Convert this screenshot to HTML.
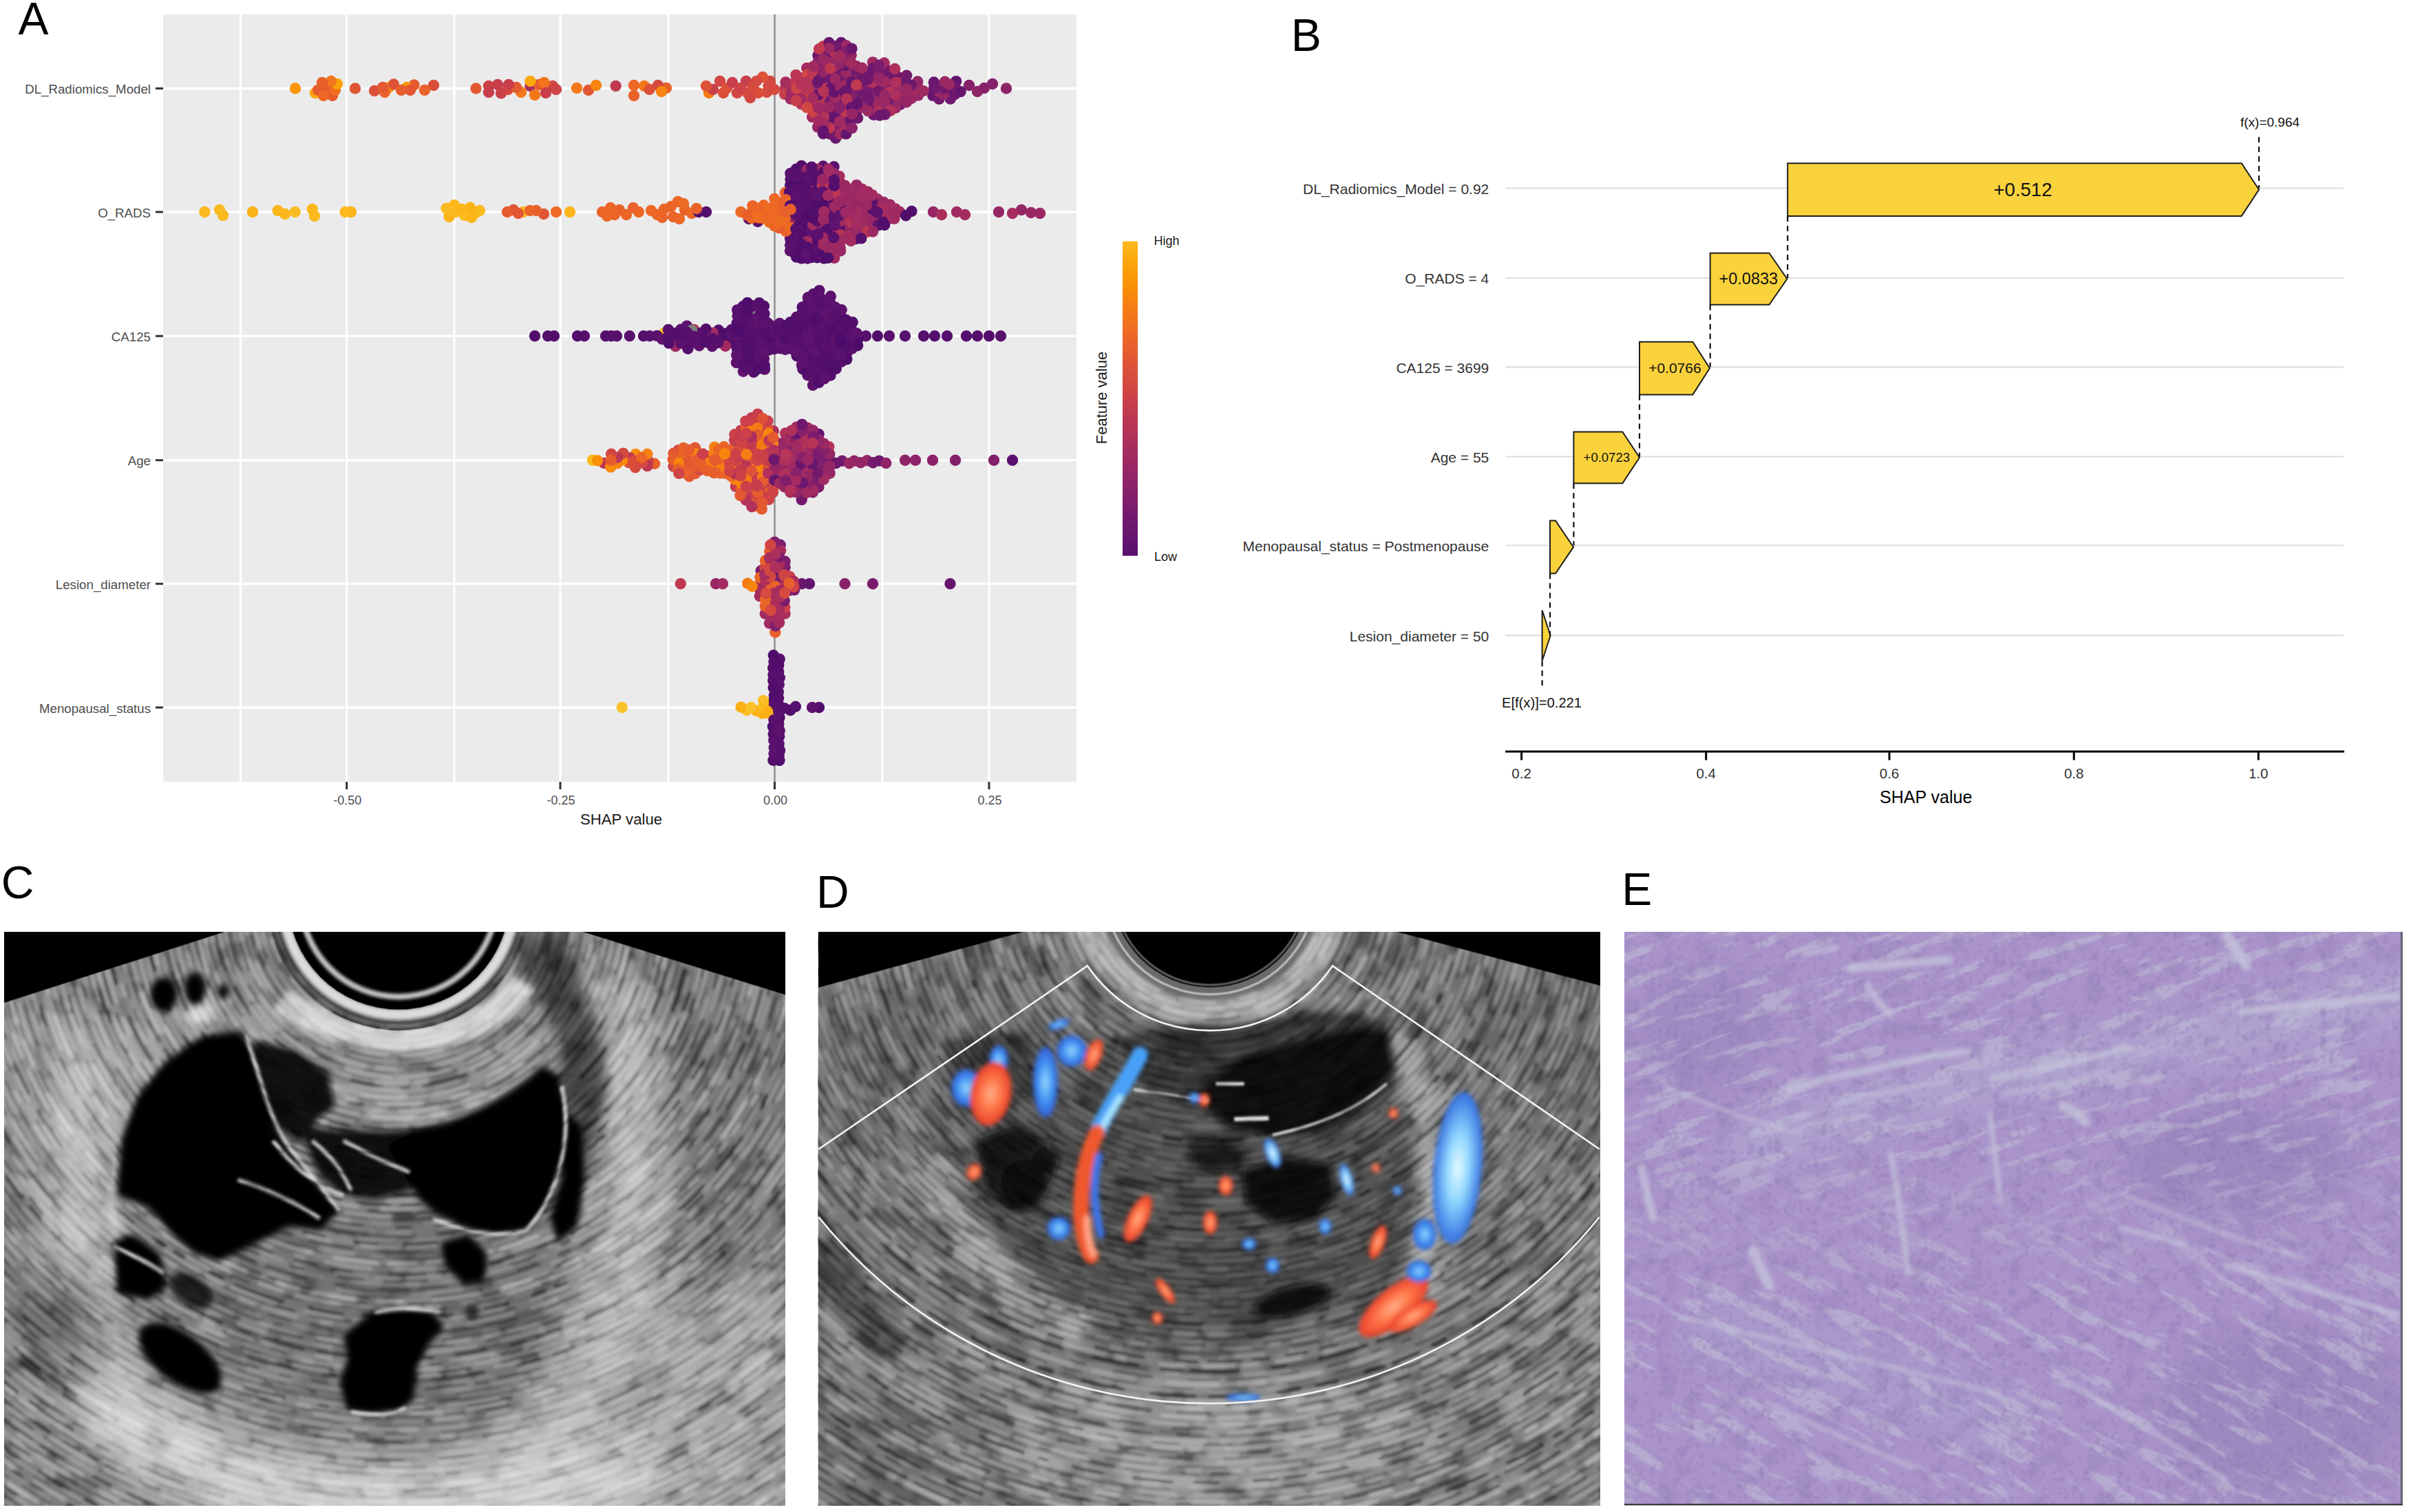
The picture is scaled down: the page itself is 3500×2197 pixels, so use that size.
<!DOCTYPE html>
<html><head><meta charset="utf-8"><style>
html,body{margin:0;padding:0;background:#fff;}
body{width:3500px;height:2197px;overflow:hidden;position:relative;}
svg{position:absolute;left:0;top:0;font-family:"Liberation Sans",sans-serif;}
</style></head><body>
<svg width="3500" height="2197" viewBox="0 0 3500 2197">
<rect x="237" y="21" width="1327" height="1115" fill="#ebebeb"/>
<line x1="349.5" y1="21" x2="349.5" y2="1136" stroke="#ffffff" stroke-width="3"/>
<line x1="503.7" y1="21" x2="503.7" y2="1136" stroke="#ffffff" stroke-width="3"/>
<line x1="660" y1="21" x2="660" y2="1136" stroke="#ffffff" stroke-width="3"/>
<line x1="814" y1="21" x2="814" y2="1136" stroke="#ffffff" stroke-width="3"/>
<line x1="971" y1="21" x2="971" y2="1136" stroke="#ffffff" stroke-width="3"/>
<line x1="1125.5" y1="21" x2="1125.5" y2="1136" stroke="#ffffff" stroke-width="3"/>
<line x1="1282" y1="21" x2="1282" y2="1136" stroke="#ffffff" stroke-width="3"/>
<line x1="1437" y1="21" x2="1437" y2="1136" stroke="#ffffff" stroke-width="3"/>
<line x1="237" y1="128.5" x2="1564" y2="128.5" stroke="#ffffff" stroke-width="3.5"/>
<line x1="237" y1="308" x2="1564" y2="308" stroke="#ffffff" stroke-width="3.5"/>
<line x1="237" y1="488.3" x2="1564" y2="488.3" stroke="#ffffff" stroke-width="3.5"/>
<line x1="237" y1="668.7" x2="1564" y2="668.7" stroke="#ffffff" stroke-width="3.5"/>
<line x1="237" y1="848.3" x2="1564" y2="848.3" stroke="#ffffff" stroke-width="3.5"/>
<line x1="237" y1="1028" x2="1564" y2="1028" stroke="#ffffff" stroke-width="3.5"/>
<line x1="1125.5" y1="21" x2="1125.5" y2="1136" stroke="#8c8c8c" stroke-width="2.5"/>
<circle cx="1079.3" cy="445.2" r="8.2" fill="#550f6d"/>
<circle cx="1179.6" cy="271.0" r="8.2" fill="#a02a62"/>
<circle cx="1197.8" cy="692.4" r="8.2" fill="#ae305b"/>
<circle cx="1156.7" cy="245.8" r="8.2" fill="#520e6c"/>
<circle cx="1236.4" cy="99.4" r="8.2" fill="#86216a"/>
<circle cx="1180.1" cy="364.1" r="8.2" fill="#520e6c"/>
<circle cx="1119.6" cy="848.0" r="8.2" fill="#d64a3f"/>
<circle cx="1095.1" cy="455.5" r="8.2" fill="#5b116e"/>
<circle cx="1364.6" cy="124.8" r="8.2" fill="#982765"/>
<circle cx="1231.2" cy="511.4" r="8.2" fill="#5a116d"/>
<circle cx="1009.9" cy="688.3" r="8.2" fill="#e65e2d"/>
<circle cx="1133.7" cy="791.7" r="8.2" fill="#7d1d6c"/>
<circle cx="1220.3" cy="71.7" r="8.2" fill="#6b176e"/>
<circle cx="675.0" cy="313.0" r="8.2" fill="#fabd23"/>
<circle cx="1099.3" cy="687.3" r="8.2" fill="#c43c4e"/>
<circle cx="936.0" cy="125.0" r="8.2" fill="#f37719"/>
<circle cx="1098.9" cy="697.9" r="8.2" fill="#c23b4f"/>
<circle cx="1230.2" cy="474.4" r="8.2" fill="#550f6d"/>
<circle cx="1356.0" cy="308.0" r="8.2" fill="#982765"/>
<circle cx="1390.0" cy="308.0" r="8.2" fill="#a12b61"/>
<circle cx="1214.1" cy="200.8" r="8.2" fill="#6a176e"/>
<circle cx="1140.5" cy="891.6" r="8.2" fill="#a92e5e"/>
<circle cx="1133.9" cy="506.2" r="8.2" fill="#58106d"/>
<circle cx="1046.0" cy="118.0" r="8.2" fill="#d14643"/>
<circle cx="1093.2" cy="307.1" r="8.2" fill="#ee6c22"/>
<circle cx="1084.3" cy="641.2" r="8.2" fill="#c73e4c"/>
<circle cx="1114.0" cy="134.0" r="8.2" fill="#d54940"/>
<circle cx="1123.6" cy="683.0" r="8.2" fill="#b53357"/>
<circle cx="1196.9" cy="326.2" r="8.2" fill="#5a116d"/>
<circle cx="1101.0" cy="322.0" r="8.2" fill="#58106d"/>
<circle cx="1076.5" cy="625.4" r="8.2" fill="#c23b4f"/>
<circle cx="1148.0" cy="327.0" r="8.2" fill="#932567"/>
<circle cx="1212.9" cy="190.2" r="8.2" fill="#70196e"/>
<circle cx="951.1" cy="673.8" r="8.2" fill="#e8612b"/>
<circle cx="1133.1" cy="303.8" r="8.2" fill="#ed6825"/>
<circle cx="1268.0" cy="90.4" r="8.2" fill="#a12b61"/>
<circle cx="1164.0" cy="151.3" r="8.2" fill="#b73456"/>
<circle cx="475.0" cy="128.0" r="8.2" fill="#e65c2e"/>
<circle cx="1198.0" cy="152.4" r="8.2" fill="#952666"/>
<circle cx="1188.1" cy="302.5" r="8.2" fill="#5d126e"/>
<circle cx="1196.3" cy="280.2" r="8.2" fill="#bf3951"/>
<circle cx="1051.8" cy="649.2" r="8.2" fill="#eb6527"/>
<circle cx="1206.8" cy="506.4" r="8.2" fill="#58106d"/>
<circle cx="1292.0" cy="488.3" r="8.2" fill="#58106d"/>
<circle cx="685.0" cy="316.0" r="8.2" fill="#fbb51a"/>
<circle cx="1198.8" cy="474.2" r="8.2" fill="#5d126e"/>
<circle cx="1258.0" cy="488.3" r="8.2" fill="#58106d"/>
<circle cx="1190.0" cy="697.9" r="8.2" fill="#6b176e"/>
<circle cx="1226.9" cy="289.4" r="8.2" fill="#992864"/>
<circle cx="1016.9" cy="682.9" r="8.2" fill="#d44841"/>
<circle cx="1105.7" cy="829.2" r="8.2" fill="#781c6d"/>
<circle cx="796.0" cy="488.3" r="8.2" fill="#570f6d"/>
<circle cx="1084.9" cy="1032.0" r="8.2" fill="#fabd23"/>
<circle cx="923.1" cy="679.3" r="8.2" fill="#d64a3f"/>
<circle cx="1051.0" cy="135.0" r="8.2" fill="#da4e3b"/>
<circle cx="1189.5" cy="677.3" r="8.2" fill="#9e2963"/>
<circle cx="1125.9" cy="796.8" r="8.2" fill="#ae305b"/>
<circle cx="1307.8" cy="151.9" r="8.2" fill="#70196e"/>
<circle cx="1165.3" cy="132.4" r="8.2" fill="#b83556"/>
<circle cx="1147.8" cy="321.1" r="8.2" fill="#ed6825"/>
<circle cx="1284.2" cy="108.8" r="8.2" fill="#731a6d"/>
<circle cx="1001.9" cy="664.8" r="8.2" fill="#e8612b"/>
<circle cx="1213.4" cy="181.2" r="8.2" fill="#982765"/>
<circle cx="1107.0" cy="635.5" r="8.2" fill="#f7850e"/>
<circle cx="1116.9" cy="725.9" r="8.2" fill="#cd4247"/>
<circle cx="1221.9" cy="460.6" r="8.2" fill="#4f0d6c"/>
<circle cx="1148.0" cy="364.5" r="8.2" fill="#5d126e"/>
<circle cx="1180.3" cy="345.9" r="8.2" fill="#5b116e"/>
<circle cx="1241.1" cy="669.7" r="8.2" fill="#912567"/>
<circle cx="1140.9" cy="852.8" r="8.2" fill="#ea6428"/>
<circle cx="985.0" cy="665.0" r="8.2" fill="#ea6428"/>
<circle cx="1275.5" cy="317.9" r="8.2" fill="#9e2963"/>
<circle cx="1123.6" cy="673.4" r="8.2" fill="#c73e4c"/>
<circle cx="1268.3" cy="332.5" r="8.2" fill="#5d126e"/>
<circle cx="1148.2" cy="283.1" r="8.2" fill="#e9622a"/>
<circle cx="1140.2" cy="679.1" r="8.2" fill="#7e1e6c"/>
<circle cx="1197.5" cy="161.6" r="8.2" fill="#72196d"/>
<circle cx="1195.9" cy="241.5" r="8.2" fill="#5a116d"/>
<circle cx="962.0" cy="316.0" r="8.2" fill="#ea6428"/>
<circle cx="1259.0" cy="306.8" r="8.2" fill="#be3852"/>
<circle cx="1244.7" cy="143.7" r="8.2" fill="#68166e"/>
<circle cx="1043.2" cy="487.7" r="8.2" fill="#520e6c"/>
<circle cx="1204.3" cy="649.1" r="8.2" fill="#b53357"/>
<circle cx="1164.5" cy="240.9" r="8.2" fill="#500d6c"/>
<circle cx="1123.6" cy="692.2" r="8.2" fill="#e55b30"/>
<circle cx="1213.4" cy="521.2" r="8.2" fill="#58106d"/>
<circle cx="1099.1" cy="735.4" r="8.2" fill="#f68012"/>
<circle cx="1083.4" cy="621.0" r="8.2" fill="#e55b30"/>
<circle cx="1179.1" cy="289.6" r="8.2" fill="#9e2963"/>
<circle cx="1221.0" cy="303.4" r="8.2" fill="#9e2963"/>
<circle cx="1388.0" cy="668.7" r="8.2" fill="#811f6b"/>
<circle cx="746.0" cy="305.0" r="8.2" fill="#de5337"/>
<circle cx="1111.1" cy="853.4" r="8.2" fill="#cd4247"/>
<circle cx="1133.9" cy="693.4" r="8.2" fill="#7d1d6c"/>
<circle cx="1252.2" cy="340.9" r="8.2" fill="#570f6d"/>
<circle cx="1180.2" cy="299.1" r="8.2" fill="#530e6d"/>
<circle cx="1140.7" cy="128.9" r="8.2" fill="#ba3655"/>
<circle cx="1227.3" cy="326.9" r="8.2" fill="#a32b61"/>
<circle cx="1167.1" cy="493.0" r="8.2" fill="#570f6d"/>
<circle cx="1132.5" cy="1042.4" r="8.2" fill="#500d6c"/>
<circle cx="1071.6" cy="496.8" r="8.2" fill="#500d6c"/>
<circle cx="1243.8" cy="347.0" r="8.2" fill="#5a116d"/>
<circle cx="1234.9" cy="332.2" r="8.2" fill="#530e6d"/>
<circle cx="1235.9" cy="109.5" r="8.2" fill="#992864"/>
<circle cx="1292.1" cy="317.7" r="8.2" fill="#992864"/>
<circle cx="1148.3" cy="336.1" r="8.2" fill="#530e6d"/>
<circle cx="1154.1" cy="857.3" r="8.2" fill="#7d1d6c"/>
<circle cx="1148.7" cy="124.6" r="8.2" fill="#ba3655"/>
<circle cx="1220.5" cy="350.1" r="8.2" fill="#a42c60"/>
<circle cx="1180.2" cy="133.9" r="8.2" fill="#bf3951"/>
<circle cx="1095.1" cy="540.8" r="8.2" fill="#530e6d"/>
<circle cx="1173.2" cy="342.1" r="8.2" fill="#570f6d"/>
<circle cx="1117.2" cy="313.3" r="8.2" fill="#e9622a"/>
<circle cx="1107.7" cy="617.6" r="8.2" fill="#dd5238"/>
<circle cx="1134.1" cy="800.1" r="8.2" fill="#a62c5f"/>
<circle cx="1079.8" cy="511.5" r="8.2" fill="#550f6d"/>
<circle cx="1189.1" cy="166.4" r="8.2" fill="#86216a"/>
<circle cx="1173.4" cy="545.3" r="8.2" fill="#58106d"/>
<circle cx="1119.8" cy="876.8" r="8.2" fill="#ae305b"/>
<circle cx="1131.5" cy="1024.4" r="8.2" fill="#5f126e"/>
<circle cx="1252.5" cy="294.5" r="8.2" fill="#a02a62"/>
<circle cx="1180.1" cy="151.4" r="8.2" fill="#a72d5f"/>
<circle cx="1181.4" cy="124.7" r="8.2" fill="#d04544"/>
<circle cx="1190.4" cy="422.1" r="8.2" fill="#570f6d"/>
<circle cx="1204.7" cy="322.8" r="8.2" fill="#b53357"/>
<circle cx="1205.6" cy="487.1" r="8.2" fill="#500d6c"/>
<circle cx="1292.9" cy="297.4" r="8.2" fill="#a12b61"/>
<circle cx="1157.6" cy="470.4" r="8.2" fill="#4f0d6c"/>
<circle cx="1380.8" cy="143.7" r="8.2" fill="#70196e"/>
<circle cx="1205.5" cy="458.8" r="8.2" fill="#5b116e"/>
<circle cx="1124.2" cy="1075.5" r="8.2" fill="#5d126e"/>
<circle cx="1213.0" cy="86.6" r="8.2" fill="#bf3951"/>
<circle cx="777.0" cy="488.3" r="8.2" fill="#520e6c"/>
<circle cx="1148.5" cy="260.6" r="8.2" fill="#550f6d"/>
<circle cx="1283.9" cy="157.3" r="8.2" fill="#6e186e"/>
<circle cx="1387.5" cy="137.0" r="8.2" fill="#6e186e"/>
<circle cx="928.0" cy="308.0" r="8.2" fill="#ed6825"/>
<circle cx="1324.3" cy="143.0" r="8.2" fill="#9c2963"/>
<circle cx="1140.1" cy="136.9" r="8.2" fill="#c83e4b"/>
<circle cx="1100.2" cy="302.6" r="8.2" fill="#ec6726"/>
<circle cx="1053.0" cy="667.8" r="8.2" fill="#e8612b"/>
<circle cx="1222.3" cy="525.6" r="8.2" fill="#5d126e"/>
<circle cx="1205.6" cy="687.7" r="8.2" fill="#982765"/>
<circle cx="968.0" cy="128.0" r="8.2" fill="#e9622a"/>
<circle cx="1165.1" cy="318.2" r="8.2" fill="#520e6c"/>
<circle cx="1067.7" cy="679.3" r="8.2" fill="#f7850e"/>
<circle cx="1211.6" cy="318.6" r="8.2" fill="#570f6d"/>
<circle cx="1062.6" cy="479.2" r="8.2" fill="#58106d"/>
<circle cx="1191.1" cy="535.0" r="8.2" fill="#5d126e"/>
<circle cx="1196.0" cy="67.2" r="8.2" fill="#c13a50"/>
<circle cx="1203.6" cy="303.7" r="8.2" fill="#5b116e"/>
<circle cx="1204.8" cy="174.9" r="8.2" fill="#66156e"/>
<circle cx="1172.9" cy="687.7" r="8.2" fill="#6b176e"/>
<circle cx="946.0" cy="306.0" r="8.2" fill="#ed6825"/>
<circle cx="1110.3" cy="464.4" r="8.2" fill="#58106d"/>
<circle cx="1243.9" cy="133.2" r="8.2" fill="#72196d"/>
<circle cx="910.0" cy="312.0" r="8.2" fill="#ec6726"/>
<circle cx="1044.0" cy="479.8" r="8.2" fill="#520e6c"/>
<circle cx="1213.3" cy="473.8" r="8.2" fill="#500d6c"/>
<circle cx="1229.1" cy="114.0" r="8.2" fill="#63146e"/>
<circle cx="1171.3" cy="302.5" r="8.2" fill="#530e6d"/>
<circle cx="1213.9" cy="465.0" r="8.2" fill="#550f6d"/>
<circle cx="1091.9" cy="712.6" r="8.2" fill="#cd4247"/>
<circle cx="1172.2" cy="98.9" r="8.2" fill="#a32b61"/>
<circle cx="1132.6" cy="487.8" r="8.2" fill="#520e6c"/>
<circle cx="1091.9" cy="607.3" r="8.2" fill="#c23b4f"/>
<circle cx="1122.9" cy="1055.8" r="8.2" fill="#530e6d"/>
<circle cx="1148.1" cy="269.4" r="8.2" fill="#500d6c"/>
<circle cx="1269.3" cy="127.8" r="8.2" fill="#6d186e"/>
<circle cx="1148.2" cy="342.2" r="8.2" fill="#e8612b"/>
<circle cx="1164.3" cy="308.3" r="8.2" fill="#530e6d"/>
<circle cx="1035.9" cy="677.9" r="8.2" fill="#ea6428"/>
<circle cx="770.5" cy="125.0" r="8.2" fill="#a72d5f"/>
<circle cx="1187.5" cy="331.0" r="8.2" fill="#5a116d"/>
<circle cx="1140.3" cy="882.4" r="8.2" fill="#cb4049"/>
<circle cx="565.0" cy="127.0" r="8.2" fill="#fa9706"/>
<circle cx="1154.8" cy="350.5" r="8.2" fill="#5d126e"/>
<circle cx="1134.2" cy="654.9" r="8.2" fill="#962666"/>
<circle cx="1156.1" cy="706.9" r="8.2" fill="#68166e"/>
<circle cx="1173.3" cy="621.6" r="8.2" fill="#9e2963"/>
<circle cx="1404.0" cy="488.3" r="8.2" fill="#530e6d"/>
<circle cx="981.4" cy="492.8" r="8.2" fill="#5b116e"/>
<circle cx="1095.1" cy="511.6" r="8.2" fill="#4d0c6b"/>
<circle cx="1291.9" cy="114.6" r="8.2" fill="#761b6d"/>
<circle cx="1268.4" cy="138.2" r="8.2" fill="#962666"/>
<circle cx="1299.0" cy="312.8" r="8.2" fill="#9e2963"/>
<circle cx="1235.1" cy="313.3" r="8.2" fill="#9e2963"/>
<circle cx="1083.6" cy="716.1" r="8.2" fill="#e55b30"/>
<circle cx="1197.4" cy="663.2" r="8.2" fill="#7e1e6c"/>
<circle cx="1189.5" cy="649.3" r="8.2" fill="#801f6b"/>
<circle cx="985.0" cy="293.0" r="8.2" fill="#eb6527"/>
<circle cx="1044.4" cy="672.7" r="8.2" fill="#e65e2d"/>
<circle cx="1085.0" cy="530.0" r="8.2" fill="#7f7f7f"/>
<circle cx="1180.2" cy="654.9" r="8.2" fill="#85206a"/>
<circle cx="1222.1" cy="61.9" r="8.2" fill="#65156e"/>
<circle cx="1227.6" cy="278.9" r="8.2" fill="#9b2864"/>
<circle cx="1102.9" cy="506.3" r="8.2" fill="#5f126e"/>
<circle cx="1094.4" cy="492.3" r="8.2" fill="#5b116e"/>
<circle cx="1148.2" cy="715.3" r="8.2" fill="#ac2f5c"/>
<circle cx="1133.1" cy="312.5" r="8.2" fill="#e8612b"/>
<circle cx="1236.7" cy="80.3" r="8.2" fill="#932567"/>
<circle cx="1204.1" cy="265.2" r="8.2" fill="#a72d5f"/>
<circle cx="1213.3" cy="160.7" r="8.2" fill="#66156e"/>
<circle cx="1292.2" cy="152.9" r="8.2" fill="#ac2f5c"/>
<circle cx="875.0" cy="308.0" r="8.2" fill="#ea6428"/>
<circle cx="1333.9" cy="138.6" r="8.2" fill="#962666"/>
<circle cx="1103.4" cy="526.0" r="8.2" fill="#520e6c"/>
<circle cx="1244.7" cy="104.4" r="8.2" fill="#65156e"/>
<circle cx="1229.0" cy="336.7" r="8.2" fill="#9b2864"/>
<circle cx="1261.9" cy="105.9" r="8.2" fill="#6b176e"/>
<circle cx="1315.0" cy="488.3" r="8.2" fill="#58106d"/>
<circle cx="1103.3" cy="479.6" r="8.2" fill="#5b116e"/>
<circle cx="1250.4" cy="672.3" r="8.2" fill="#912567"/>
<circle cx="1142.0" cy="650.0" r="8.2" fill="#992864"/>
<circle cx="1141.0" cy="629.5" r="8.2" fill="#b23259"/>
<circle cx="1182.8" cy="474.3" r="8.2" fill="#4f0d6c"/>
<circle cx="1195.5" cy="316.6" r="8.2" fill="#500d6c"/>
<circle cx="1252.3" cy="303.4" r="8.2" fill="#982765"/>
<circle cx="1165.4" cy="503.2" r="8.2" fill="#520e6c"/>
<circle cx="1188.4" cy="80.5" r="8.2" fill="#6b176e"/>
<circle cx="1174.0" cy="470.0" r="8.2" fill="#5a116d"/>
<circle cx="1111.2" cy="494.1" r="8.2" fill="#5d126e"/>
<circle cx="1188.1" cy="184.6" r="8.2" fill="#952666"/>
<circle cx="1172.7" cy="631.7" r="8.2" fill="#952666"/>
<circle cx="690.0" cy="310.0" r="8.2" fill="#fbb318"/>
<circle cx="1109.9" cy="444.8" r="8.2" fill="#520e6c"/>
<circle cx="1227.7" cy="318.6" r="8.2" fill="#a62c5f"/>
<circle cx="1220.8" cy="137.5" r="8.2" fill="#63146e"/>
<circle cx="1204.9" cy="137.2" r="8.2" fill="#982765"/>
<circle cx="838.0" cy="128.0" r="8.2" fill="#f37918"/>
<circle cx="1110.4" cy="455.9" r="8.2" fill="#58106d"/>
<circle cx="1140.6" cy="844.3" r="8.2" fill="#cc4148"/>
<circle cx="1140.7" cy="297.8" r="8.2" fill="#ed6a23"/>
<circle cx="1380.6" cy="132.2" r="8.2" fill="#68166e"/>
<circle cx="324.0" cy="313.0" r="8.2" fill="#fbb91e"/>
<circle cx="1148.1" cy="289.9" r="8.2" fill="#5b116e"/>
<circle cx="1123.5" cy="711.0" r="8.2" fill="#f37918"/>
<circle cx="652.6" cy="315.0" r="8.2" fill="#fbb318"/>
<circle cx="1067.1" cy="639.5" r="8.2" fill="#c53d4d"/>
<circle cx="808.0" cy="308.0" r="8.2" fill="#ed6a23"/>
<circle cx="1102.9" cy="450.8" r="8.2" fill="#550f6d"/>
<circle cx="1189.5" cy="669.6" r="8.2" fill="#7d1d6c"/>
<circle cx="1148.7" cy="143.7" r="8.2" fill="#9e2963"/>
<circle cx="1239.1" cy="498.3" r="8.2" fill="#5b116e"/>
<circle cx="1109.1" cy="711.5" r="8.2" fill="#b43358"/>
<circle cx="956.0" cy="124.0" r="8.2" fill="#d54940"/>
<circle cx="1076.6" cy="1027.5" r="8.2" fill="#fbb014"/>
<circle cx="1301.2" cy="156.7" r="8.2" fill="#992864"/>
<circle cx="1212.7" cy="152.2" r="8.2" fill="#a02a62"/>
<circle cx="483.0" cy="139.0" r="8.2" fill="#e65c2e"/>
<circle cx="803.0" cy="125.0" r="8.2" fill="#d44841"/>
<circle cx="1150.2" cy="683.0" r="8.2" fill="#ae305b"/>
<circle cx="1104.7" cy="849.0" r="8.2" fill="#a32b61"/>
<circle cx="1115.0" cy="707.2" r="8.2" fill="#b1315a"/>
<circle cx="1204.2" cy="341.1" r="8.2" fill="#5b116e"/>
<circle cx="1253.0" cy="331.4" r="8.2" fill="#a62c5f"/>
<circle cx="1001.4" cy="692.3" r="8.2" fill="#e35832"/>
<circle cx="630.0" cy="124.0" r="8.2" fill="#da4e3b"/>
<circle cx="1009.9" cy="650.7" r="8.2" fill="#e35832"/>
<circle cx="1156.8" cy="677.4" r="8.2" fill="#9b2864"/>
<circle cx="1300.9" cy="303.4" r="8.2" fill="#a42c60"/>
<circle cx="987.0" cy="318.0" r="8.2" fill="#ed6825"/>
<circle cx="1090.0" cy="455.0" r="8.2" fill="#7f7f7f"/>
<circle cx="1061.6" cy="664.2" r="8.2" fill="#e8612b"/>
<circle cx="1230.5" cy="492.4" r="8.2" fill="#58106d"/>
<circle cx="1188.2" cy="311.9" r="8.2" fill="#5a116d"/>
<circle cx="572.0" cy="122.5" r="8.2" fill="#de5337"/>
<circle cx="1180.3" cy="354.6" r="8.2" fill="#4f0d6c"/>
<circle cx="1252.0" cy="285.3" r="8.2" fill="#a32b61"/>
<circle cx="1172.3" cy="147.5" r="8.2" fill="#b43358"/>
<circle cx="1172.7" cy="284.9" r="8.2" fill="#570f6d"/>
<circle cx="1092.5" cy="693.0" r="8.2" fill="#c53d4d"/>
<circle cx="1110.7" cy="502.9" r="8.2" fill="#4f0d6c"/>
<circle cx="1180.2" cy="691.4" r="8.2" fill="#8b2269"/>
<circle cx="1044.1" cy="664.0" r="8.2" fill="#ea6428"/>
<circle cx="1109.9" cy="521.8" r="8.2" fill="#550f6d"/>
<circle cx="1220.5" cy="184.4" r="8.2" fill="#7d1d6c"/>
<circle cx="1204.9" cy="497.7" r="8.2" fill="#5b116e"/>
<circle cx="1028.3" cy="662.8" r="8.2" fill="#e45a31"/>
<circle cx="1260.5" cy="318.7" r="8.2" fill="#992864"/>
<circle cx="1103.8" cy="468.7" r="8.2" fill="#5b116e"/>
<circle cx="1068.9" cy="706.9" r="8.2" fill="#c23b4f"/>
<circle cx="1402.0" cy="312.0" r="8.2" fill="#a62c5f"/>
<circle cx="1299.3" cy="317.7" r="8.2" fill="#a02a62"/>
<circle cx="1078.2" cy="503.4" r="8.2" fill="#520e6c"/>
<circle cx="1219.6" cy="332.7" r="8.2" fill="#520e6c"/>
<circle cx="1243.5" cy="279.2" r="8.2" fill="#9c2963"/>
<circle cx="1205.9" cy="194.7" r="8.2" fill="#72196d"/>
<circle cx="1196.5" cy="306.9" r="8.2" fill="#550f6d"/>
<circle cx="1180.1" cy="170.1" r="8.2" fill="#a62c5f"/>
<circle cx="1165.1" cy="464.5" r="8.2" fill="#570f6d"/>
<circle cx="1079.3" cy="492.6" r="8.2" fill="#520e6c"/>
<circle cx="1190.0" cy="1028.0" r="8.2" fill="#530e6d"/>
<circle cx="1101.0" cy="726.3" r="8.2" fill="#cf4446"/>
<circle cx="1062.0" cy="498.0" r="8.2" fill="#550f6d"/>
<circle cx="1056.0" cy="128.0" r="8.2" fill="#dc5039"/>
<circle cx="1444.0" cy="668.7" r="8.2" fill="#83206b"/>
<circle cx="1109.6" cy="298.3" r="8.2" fill="#ed6825"/>
<circle cx="710.0" cy="125.0" r="8.2" fill="#cc4148"/>
<circle cx="1268.6" cy="147.9" r="8.2" fill="#6e186e"/>
<circle cx="1220.6" cy="194.5" r="8.2" fill="#a32b61"/>
<circle cx="1236.4" cy="341.7" r="8.2" fill="#a42c60"/>
<circle cx="1189.3" cy="707.8" r="8.2" fill="#7e1e6c"/>
<circle cx="1187.2" cy="374.2" r="8.2" fill="#4d0c6b"/>
<circle cx="1196.7" cy="696.7" r="8.2" fill="#a02a62"/>
<circle cx="1173.2" cy="449.9" r="8.2" fill="#500d6c"/>
<circle cx="1140.5" cy="327.1" r="8.2" fill="#ee6c22"/>
<circle cx="855.0" cy="131.0" r="8.2" fill="#e25733"/>
<circle cx="1309.9" cy="141.9" r="8.2" fill="#751b6d"/>
<circle cx="1211.0" cy="288.7" r="8.2" fill="#a02a62"/>
<circle cx="1203.9" cy="669.8" r="8.2" fill="#85206a"/>
<circle cx="1197.8" cy="493.8" r="8.2" fill="#530e6d"/>
<circle cx="544.0" cy="132.0" r="8.2" fill="#db4f3a"/>
<circle cx="1190.2" cy="468.2" r="8.2" fill="#5a116d"/>
<circle cx="1163.8" cy="682.7" r="8.2" fill="#6b176e"/>
<circle cx="993.4" cy="677.9" r="8.2" fill="#e35832"/>
<circle cx="964.7" cy="484.0" r="8.2" fill="#f9c32a"/>
<circle cx="738.0" cy="130.0" r="8.2" fill="#d64a3f"/>
<circle cx="1166.1" cy="643.9" r="8.2" fill="#9c2963"/>
<circle cx="1205.2" cy="185.6" r="8.2" fill="#bd3753"/>
<circle cx="1212.1" cy="104.4" r="8.2" fill="#70196e"/>
<circle cx="1165.1" cy="327.5" r="8.2" fill="#530e6d"/>
<circle cx="319.0" cy="305.0" r="8.2" fill="#fabb21"/>
<circle cx="1157.3" cy="641.3" r="8.2" fill="#b53357"/>
<circle cx="1293.0" cy="122.7" r="8.2" fill="#992864"/>
<circle cx="1132.3" cy="837.7" r="8.2" fill="#ea6428"/>
<circle cx="1132.7" cy="470.0" r="8.2" fill="#5d126e"/>
<circle cx="1071.0" cy="135.0" r="8.2" fill="#d24742"/>
<circle cx="1149.7" cy="499.0" r="8.2" fill="#4f0d6c"/>
<circle cx="1220.7" cy="359.6" r="8.2" fill="#9c2963"/>
<circle cx="985.5" cy="654.2" r="8.2" fill="#d24742"/>
<circle cx="1203.3" cy="294.9" r="8.2" fill="#500d6c"/>
<circle cx="1053.9" cy="492.7" r="8.2" fill="#500d6c"/>
<circle cx="1261.3" cy="124.2" r="8.2" fill="#a12b61"/>
<circle cx="1040.0" cy="848.3" r="8.2" fill="#982765"/>
<circle cx="1204.8" cy="109.1" r="8.2" fill="#65156e"/>
<circle cx="1125.7" cy="900.7" r="8.2" fill="#a62c5f"/>
<circle cx="1123.7" cy="626.3" r="8.2" fill="#b1315a"/>
<circle cx="760.0" cy="308.0" r="8.2" fill="#fbb91e"/>
<circle cx="993.0" cy="650.9" r="8.2" fill="#e8612b"/>
<circle cx="1141.5" cy="119.4" r="8.2" fill="#a72d5f"/>
<circle cx="1100.1" cy="649.3" r="8.2" fill="#f57c15"/>
<circle cx="1246.3" cy="493.3" r="8.2" fill="#4f0d6c"/>
<circle cx="1165.0" cy="456.0" r="8.2" fill="#550f6d"/>
<circle cx="1115.0" cy="677.5" r="8.2" fill="#c93f4a"/>
<circle cx="1196.1" cy="270.1" r="8.2" fill="#5d126e"/>
<circle cx="1420.0" cy="488.3" r="8.2" fill="#550f6d"/>
<circle cx="997.8" cy="502.5" r="8.2" fill="#a02a62"/>
<circle cx="1125.0" cy="130.0" r="8.2" fill="#d74b3e"/>
<circle cx="1285.1" cy="327.0" r="8.2" fill="#520e6c"/>
<circle cx="978.5" cy="677.7" r="8.2" fill="#cf4446"/>
<circle cx="1088.0" cy="318.0" r="8.2" fill="#60136e"/>
<circle cx="995.0" cy="305.0" r="8.2" fill="#e9622a"/>
<circle cx="1067.5" cy="696.6" r="8.2" fill="#f68111"/>
<circle cx="1117.5" cy="497.8" r="8.2" fill="#58106d"/>
<circle cx="1174.2" cy="138.8" r="8.2" fill="#d14643"/>
<circle cx="1002.5" cy="682.0" r="8.2" fill="#e65e2d"/>
<circle cx="770.0" cy="306.0" r="8.2" fill="#eb6527"/>
<circle cx="1173.1" cy="375.5" r="8.2" fill="#58106d"/>
<circle cx="1157.7" cy="517.2" r="8.2" fill="#500d6c"/>
<circle cx="1228.4" cy="170.3" r="8.2" fill="#6b176e"/>
<circle cx="1140.8" cy="280.0" r="8.2" fill="#e9622a"/>
<circle cx="1180.7" cy="280.0" r="8.2" fill="#5d126e"/>
<circle cx="995.1" cy="668.4" r="8.2" fill="#cf4446"/>
<circle cx="1118.2" cy="801.1" r="8.2" fill="#e65e2d"/>
<circle cx="1024.8" cy="489.2" r="8.2" fill="#550f6d"/>
<circle cx="1190.2" cy="508.1" r="8.2" fill="#530e6d"/>
<circle cx="1141.1" cy="484.3" r="8.2" fill="#58106d"/>
<circle cx="1164.7" cy="635.7" r="8.2" fill="#a32b61"/>
<circle cx="1219.0" cy="274.0" r="8.2" fill="#a42c60"/>
<circle cx="1067.1" cy="649.5" r="8.2" fill="#c23b4f"/>
<circle cx="1171.7" cy="321.3" r="8.2" fill="#5a116d"/>
<circle cx="1078.2" cy="522.0" r="8.2" fill="#550f6d"/>
<circle cx="1275.0" cy="297.4" r="8.2" fill="#992864"/>
<circle cx="1197.5" cy="464.9" r="8.2" fill="#5a116d"/>
<circle cx="1182.0" cy="662.8" r="8.2" fill="#992864"/>
<circle cx="1189.1" cy="128.1" r="8.2" fill="#9c2963"/>
<circle cx="1261.9" cy="152.4" r="8.2" fill="#70196e"/>
<circle cx="1093.4" cy="299.1" r="8.2" fill="#eb6527"/>
<circle cx="1260.8" cy="278.6" r="8.2" fill="#9c2963"/>
<circle cx="1203.7" cy="350.6" r="8.2" fill="#a32b61"/>
<circle cx="1158.0" cy="138.7" r="8.2" fill="#a72d5f"/>
<circle cx="1471.0" cy="668.7" r="8.2" fill="#5a116d"/>
<circle cx="1269.2" cy="110.5" r="8.2" fill="#781c6d"/>
<circle cx="1204.3" cy="166.5" r="8.2" fill="#66156e"/>
<circle cx="1149.3" cy="506.6" r="8.2" fill="#4f0d6c"/>
<circle cx="1206.8" cy="430.5" r="8.2" fill="#5a116d"/>
<circle cx="998.0" cy="473.6" r="8.2" fill="#5d126e"/>
<circle cx="1205.6" cy="118.4" r="8.2" fill="#63146e"/>
<circle cx="1300.1" cy="128.6" r="8.2" fill="#992864"/>
<circle cx="1130.8" cy="1005.4" r="8.2" fill="#520e6c"/>
<circle cx="1157.5" cy="487.3" r="8.2" fill="#4f0d6c"/>
<circle cx="1277.3" cy="669.6" r="8.2" fill="#6e186e"/>
<circle cx="1060.4" cy="654.1" r="8.2" fill="#e8612b"/>
<circle cx="1251.8" cy="312.0" r="8.2" fill="#992864"/>
<circle cx="1189.2" cy="101.0" r="8.2" fill="#a12b61"/>
<circle cx="1355.3" cy="138.9" r="8.2" fill="#66156e"/>
<circle cx="1221.0" cy="99.9" r="8.2" fill="#65156e"/>
<circle cx="1158.1" cy="669.7" r="8.2" fill="#9e2963"/>
<circle cx="1149.4" cy="644.4" r="8.2" fill="#a12b61"/>
<circle cx="1132.8" cy="984.8" r="8.2" fill="#530e6d"/>
<circle cx="1164.7" cy="251.5" r="8.2" fill="#5a116d"/>
<circle cx="1115.3" cy="621.4" r="8.2" fill="#e55b30"/>
<circle cx="1091.2" cy="721.5" r="8.2" fill="#c53d4d"/>
<circle cx="1091.8" cy="663.6" r="8.2" fill="#c53d4d"/>
<circle cx="1115.8" cy="715.8" r="8.2" fill="#e05634"/>
<circle cx="1115.9" cy="696.5" r="8.2" fill="#de5337"/>
<circle cx="1132.6" cy="664.5" r="8.2" fill="#9b2864"/>
<circle cx="1084.0" cy="118.0" r="8.2" fill="#c73e4c"/>
<circle cx="1116.4" cy="648.8" r="8.2" fill="#cb4049"/>
<circle cx="1132.4" cy="1104.9" r="8.2" fill="#500d6c"/>
<circle cx="1220.7" cy="128.2" r="8.2" fill="#85206a"/>
<circle cx="783.0" cy="123.0" r="8.2" fill="#e65c2e"/>
<circle cx="1227.0" cy="297.9" r="8.2" fill="#500d6c"/>
<circle cx="1220.5" cy="148.5" r="8.2" fill="#66156e"/>
<circle cx="1207.0" cy="441.8" r="8.2" fill="#5b116e"/>
<circle cx="1111.2" cy="824.6" r="8.2" fill="#cf4446"/>
<circle cx="1252.3" cy="274.6" r="8.2" fill="#a32b61"/>
<circle cx="1147.4" cy="837.7" r="8.2" fill="#cd4247"/>
<circle cx="1155.0" cy="302.5" r="8.2" fill="#5a116d"/>
<circle cx="457.0" cy="314.0" r="8.2" fill="#fabb21"/>
<circle cx="1164.3" cy="261.0" r="8.2" fill="#5d126e"/>
<circle cx="1166.2" cy="720.0" r="8.2" fill="#af315b"/>
<circle cx="1220.1" cy="120.0" r="8.2" fill="#a12b61"/>
<circle cx="1206.5" cy="669.6" r="8.2" fill="#781c6d"/>
<circle cx="1197.0" cy="682.7" r="8.2" fill="#992864"/>
<circle cx="1229.4" cy="66.3" r="8.2" fill="#992864"/>
<circle cx="1111.7" cy="891.6" r="8.2" fill="#a32b61"/>
<circle cx="1131.4" cy="1051.5" r="8.2" fill="#5a116d"/>
<circle cx="1408.0" cy="124.0" r="8.2" fill="#85206a"/>
<circle cx="1086.0" cy="135.0" r="8.2" fill="#d74b3e"/>
<circle cx="1124.8" cy="307.9" r="8.2" fill="#eb6527"/>
<circle cx="1109.5" cy="317.5" r="8.2" fill="#eb6527"/>
<circle cx="1182.8" cy="435.8" r="8.2" fill="#58106d"/>
<circle cx="1037.8" cy="658.5" r="8.2" fill="#f57e14"/>
<circle cx="1222.7" cy="450.2" r="8.2" fill="#5d126e"/>
<circle cx="923.6" cy="659.9" r="8.2" fill="#f98e08"/>
<circle cx="487.0" cy="131.0" r="8.2" fill="#f06f1f"/>
<circle cx="1420.0" cy="133.0" r="8.2" fill="#902468"/>
<circle cx="1054.0" cy="687.9" r="8.2" fill="#e8612b"/>
<circle cx="1108.1" cy="693.1" r="8.2" fill="#f57c15"/>
<circle cx="941.4" cy="669.2" r="8.2" fill="#c53d4d"/>
<circle cx="1205.3" cy="659.7" r="8.2" fill="#952666"/>
<circle cx="1150.0" cy="313.4" r="8.2" fill="#ee6c22"/>
<circle cx="1149.1" cy="307.0" r="8.2" fill="#58106d"/>
<circle cx="1075.0" cy="673.7" r="8.2" fill="#df5436"/>
<circle cx="1389.1" cy="118.1" r="8.2" fill="#63146e"/>
<circle cx="920.0" cy="302.0" r="8.2" fill="#e9622a"/>
<circle cx="1188.7" cy="293.4" r="8.2" fill="#4d0c6b"/>
<circle cx="1267.2" cy="313.5" r="8.2" fill="#9c2963"/>
<circle cx="1149.4" cy="634.5" r="8.2" fill="#86216a"/>
<circle cx="1109.2" cy="683.1" r="8.2" fill="#f47a16"/>
<circle cx="1189.0" cy="147.6" r="8.2" fill="#c13a50"/>
<circle cx="1103.8" cy="866.3" r="8.2" fill="#a42c60"/>
<circle cx="1132.5" cy="895.7" r="8.2" fill="#ac2f5c"/>
<circle cx="1022.1" cy="669.3" r="8.2" fill="#f57c15"/>
<circle cx="1149.9" cy="134.0" r="8.2" fill="#a02a62"/>
<circle cx="1176.0" cy="848.3" r="8.2" fill="#63146e"/>
<circle cx="978.5" cy="658.7" r="8.2" fill="#e35832"/>
<circle cx="1108.3" cy="307.7" r="8.2" fill="#ea6428"/>
<circle cx="1092.3" cy="317.0" r="8.2" fill="#ee6c22"/>
<circle cx="1155.4" cy="321.8" r="8.2" fill="#530e6d"/>
<circle cx="1195.8" cy="336.0" r="8.2" fill="#982765"/>
<circle cx="1079.9" cy="539.8" r="8.2" fill="#5f126e"/>
<circle cx="1275.0" cy="289.5" r="8.2" fill="#9e2963"/>
<circle cx="1102.1" cy="460.8" r="8.2" fill="#570f6d"/>
<circle cx="1164.7" cy="375.4" r="8.2" fill="#520e6c"/>
<circle cx="1108.3" cy="721.7" r="8.2" fill="#cb4049"/>
<circle cx="1211.6" cy="242.3" r="8.2" fill="#5d126e"/>
<circle cx="1166.1" cy="711.2" r="8.2" fill="#7b1d6c"/>
<circle cx="1148.1" cy="356.3" r="8.2" fill="#5b116e"/>
<circle cx="1181.8" cy="114.2" r="8.2" fill="#d04544"/>
<circle cx="1213.3" cy="446.4" r="8.2" fill="#5b116e"/>
<circle cx="1095.8" cy="521.6" r="8.2" fill="#5f126e"/>
<circle cx="1236.4" cy="146.8" r="8.2" fill="#b73456"/>
<circle cx="1165.7" cy="512.1" r="8.2" fill="#5b116e"/>
<circle cx="1180.0" cy="702.0" r="8.2" fill="#7e1e6c"/>
<circle cx="1099.7" cy="610.8" r="8.2" fill="#cf4446"/>
<circle cx="1132.7" cy="957.6" r="8.2" fill="#58106d"/>
<circle cx="1071.5" cy="492.6" r="8.2" fill="#500d6c"/>
<circle cx="1222.0" cy="468.6" r="8.2" fill="#4f0d6c"/>
<circle cx="1155.9" cy="360.0" r="8.2" fill="#58106d"/>
<circle cx="1204.5" cy="62.0" r="8.2" fill="#68166e"/>
<circle cx="1267.7" cy="323.0" r="8.2" fill="#982765"/>
<circle cx="1196.8" cy="143.7" r="8.2" fill="#b73456"/>
<circle cx="888.0" cy="488.3" r="8.2" fill="#58106d"/>
<circle cx="1180.9" cy="715.3" r="8.2" fill="#7d1d6c"/>
<circle cx="1219.8" cy="264.3" r="8.2" fill="#a32b61"/>
<circle cx="1181.1" cy="261.7" r="8.2" fill="#4f0d6c"/>
<circle cx="1091.1" cy="672.9" r="8.2" fill="#e65c2e"/>
<circle cx="1172.0" cy="696.2" r="8.2" fill="#952666"/>
<circle cx="1188.5" cy="660.3" r="8.2" fill="#7b1d6c"/>
<circle cx="1220.6" cy="110.3" r="8.2" fill="#6e186e"/>
<circle cx="955.0" cy="312.0" r="8.2" fill="#ec6726"/>
<circle cx="1010.6" cy="659.4" r="8.2" fill="#f8880c"/>
<circle cx="1132.0" cy="877.6" r="8.2" fill="#761b6d"/>
<circle cx="1104.3" cy="839.1" r="8.2" fill="#ec6726"/>
<circle cx="1100.6" cy="312.0" r="8.2" fill="#ed6a23"/>
<circle cx="1205.6" cy="517.0" r="8.2" fill="#5b116e"/>
<circle cx="728.0" cy="135.5" r="8.2" fill="#cc4148"/>
<circle cx="1171.8" cy="312.8" r="8.2" fill="#4f0d6c"/>
<circle cx="1155.8" cy="118.8" r="8.2" fill="#bb3754"/>
<circle cx="1123.8" cy="952.2" r="8.2" fill="#4f0d6c"/>
<circle cx="1364.4" cy="143.9" r="8.2" fill="#70196e"/>
<circle cx="1182.5" cy="483.4" r="8.2" fill="#5b116e"/>
<circle cx="601.6" cy="123.5" r="8.2" fill="#e65c2e"/>
<circle cx="1083.3" cy="686.8" r="8.2" fill="#e25733"/>
<circle cx="1076.0" cy="128.0" r="8.2" fill="#cf4446"/>
<circle cx="1190.9" cy="450.8" r="8.2" fill="#4f0d6c"/>
<circle cx="1173.1" cy="129.2" r="8.2" fill="#b73456"/>
<circle cx="1053.6" cy="484.7" r="8.2" fill="#4f0d6c"/>
<circle cx="1196.1" cy="326.2" r="8.2" fill="#992864"/>
<circle cx="1148.3" cy="317.9" r="8.2" fill="#982765"/>
<circle cx="1197.5" cy="76.6" r="8.2" fill="#70196e"/>
<circle cx="1163.8" cy="691.7" r="8.2" fill="#a02a62"/>
<circle cx="591.0" cy="127.0" r="8.2" fill="#fb9906"/>
<circle cx="1220.7" cy="283.2" r="8.2" fill="#a32b61"/>
<circle cx="1126.6" cy="834.8" r="8.2" fill="#ab2e5d"/>
<circle cx="999.4" cy="506.8" r="8.2" fill="#570f6d"/>
<circle cx="1358.0" cy="488.3" r="8.2" fill="#530e6d"/>
<circle cx="1309.6" cy="113.2" r="8.2" fill="#962666"/>
<circle cx="1111.8" cy="880.9" r="8.2" fill="#e8612b"/>
<circle cx="1166.3" cy="536.3" r="8.2" fill="#530e6d"/>
<circle cx="1146.9" cy="279.4" r="8.2" fill="#550f6d"/>
<circle cx="1275.9" cy="327.4" r="8.2" fill="#5d126e"/>
<circle cx="1285.7" cy="99.3" r="8.2" fill="#781c6d"/>
<circle cx="1171.4" cy="265.5" r="8.2" fill="#550f6d"/>
<circle cx="1045.9" cy="683.3" r="8.2" fill="#f8870d"/>
<circle cx="1213.2" cy="307.6" r="8.2" fill="#a42c60"/>
<circle cx="1164.9" cy="345.7" r="8.2" fill="#58106d"/>
<circle cx="1164.9" cy="530.4" r="8.2" fill="#5d126e"/>
<circle cx="1204.9" cy="82.0" r="8.2" fill="#70196e"/>
<circle cx="1083.4" cy="648.9" r="8.2" fill="#cd4247"/>
<circle cx="1163.9" cy="298.9" r="8.2" fill="#5b116e"/>
<circle cx="1093.0" cy="615.6" r="8.2" fill="#cb4049"/>
<circle cx="458.0" cy="135.0" r="8.2" fill="#fba40a"/>
<circle cx="1315.8" cy="138.3" r="8.2" fill="#982765"/>
<circle cx="1235.6" cy="294.1" r="8.2" fill="#a02a62"/>
<circle cx="988.8" cy="848.3" r="8.2" fill="#bf3951"/>
<circle cx="1140.5" cy="815.7" r="8.2" fill="#7a1c6d"/>
<circle cx="1212.9" cy="299.6" r="8.2" fill="#9e2963"/>
<circle cx="1173.2" cy="649.8" r="8.2" fill="#9b2864"/>
<circle cx="1125.5" cy="688.0" r="8.2" fill="#962666"/>
<circle cx="1188.1" cy="138.1" r="8.2" fill="#66156e"/>
<circle cx="1172.7" cy="350.6" r="8.2" fill="#a02a62"/>
<circle cx="1254.0" cy="127.7" r="8.2" fill="#9e2963"/>
<circle cx="1196.0" cy="124.9" r="8.2" fill="#c13a50"/>
<circle cx="1069.9" cy="527.0" r="8.2" fill="#5d126e"/>
<circle cx="1215.1" cy="503.6" r="8.2" fill="#5a116d"/>
<circle cx="954.6" cy="487.9" r="8.2" fill="#58106d"/>
<circle cx="1150.2" cy="654.3" r="8.2" fill="#88216a"/>
<circle cx="1221.3" cy="167.5" r="8.2" fill="#83206b"/>
<circle cx="1070.2" cy="516.0" r="8.2" fill="#5d126e"/>
<circle cx="1126.0" cy="650.8" r="8.2" fill="#892269"/>
<circle cx="1213.3" cy="76.8" r="8.2" fill="#b53357"/>
<circle cx="1084.5" cy="667.6" r="8.2" fill="#dd5238"/>
<circle cx="989.2" cy="478.8" r="8.2" fill="#5b116e"/>
<circle cx="1156.4" cy="312.4" r="8.2" fill="#5a116d"/>
<circle cx="1253.7" cy="138.3" r="8.2" fill="#70196e"/>
<circle cx="1157.7" cy="630.1" r="8.2" fill="#65156e"/>
<circle cx="1230.3" cy="522.1" r="8.2" fill="#4f0d6c"/>
<circle cx="1236.3" cy="350.0" r="8.2" fill="#a62c5f"/>
<circle cx="1020.2" cy="677.5" r="8.2" fill="#ea6428"/>
<circle cx="1183.2" cy="520.8" r="8.2" fill="#500d6c"/>
<circle cx="1165.1" cy="270.5" r="8.2" fill="#4f0d6c"/>
<circle cx="961.0" cy="133.0" r="8.2" fill="#f78310"/>
<circle cx="1197.7" cy="170.3" r="8.2" fill="#b43358"/>
<circle cx="1269.7" cy="157.1" r="8.2" fill="#6b176e"/>
<circle cx="1148.0" cy="702.8" r="8.2" fill="#63146e"/>
<circle cx="1140.6" cy="824.3" r="8.2" fill="#7d1d6c"/>
<circle cx="887.0" cy="302.0" r="8.2" fill="#ec6726"/>
<circle cx="1141.2" cy="640.7" r="8.2" fill="#a32b61"/>
<circle cx="1189.5" cy="630.9" r="8.2" fill="#63146e"/>
<circle cx="1107.3" cy="700.8" r="8.2" fill="#e65c2e"/>
<circle cx="1108.1" cy="673.5" r="8.2" fill="#de5337"/>
<circle cx="1102.9" cy="516.7" r="8.2" fill="#5a116d"/>
<circle cx="1165.0" cy="653.5" r="8.2" fill="#b53357"/>
<circle cx="1141.9" cy="473.0" r="8.2" fill="#500d6c"/>
<circle cx="1126.7" cy="890.1" r="8.2" fill="#a92e5e"/>
<circle cx="1084.0" cy="677.4" r="8.2" fill="#b83556"/>
<circle cx="1238.0" cy="506.4" r="8.2" fill="#5b116e"/>
<circle cx="1196.3" cy="653.9" r="8.2" fill="#83206b"/>
<circle cx="1188.0" cy="245.8" r="8.2" fill="#952666"/>
<circle cx="1197.8" cy="94.4" r="8.2" fill="#9b2864"/>
<circle cx="1284.7" cy="91.5" r="8.2" fill="#a02a62"/>
<circle cx="1206.9" cy="449.4" r="8.2" fill="#5a116d"/>
<circle cx="1317.2" cy="109.7" r="8.2" fill="#751b6d"/>
<circle cx="1115.4" cy="611.7" r="8.2" fill="#cb4049"/>
<circle cx="1124.6" cy="474.1" r="8.2" fill="#5f126e"/>
<circle cx="1181.0" cy="712.2" r="8.2" fill="#a12b61"/>
<circle cx="1284.9" cy="313.9" r="8.2" fill="#bd3753"/>
<circle cx="1180.8" cy="625.1" r="8.2" fill="#952666"/>
<circle cx="1204.8" cy="369.7" r="8.2" fill="#992864"/>
<circle cx="1213.9" cy="95.7" r="8.2" fill="#962666"/>
<circle cx="1229.2" cy="105.7" r="8.2" fill="#992864"/>
<circle cx="1067.4" cy="631.3" r="8.2" fill="#cb4049"/>
<circle cx="1197.0" cy="298.8" r="8.2" fill="#a02a62"/>
<circle cx="849.0" cy="488.3" r="8.2" fill="#58106d"/>
<circle cx="1131.2" cy="976.3" r="8.2" fill="#5b116e"/>
<circle cx="1125.0" cy="492.9" r="8.2" fill="#520e6c"/>
<circle cx="1267.5" cy="293.0" r="8.2" fill="#5b116e"/>
<circle cx="1103.1" cy="440.1" r="8.2" fill="#520e6c"/>
<circle cx="1099.9" cy="677.8" r="8.2" fill="#f7850e"/>
<circle cx="1204.0" cy="313.3" r="8.2" fill="#5a116d"/>
<circle cx="1101.5" cy="135.0" r="8.2" fill="#da4e3b"/>
<circle cx="1164.8" cy="278.5" r="8.2" fill="#5a116d"/>
<circle cx="1213.4" cy="493.2" r="8.2" fill="#5d126e"/>
<circle cx="462.0" cy="131.0" r="8.2" fill="#e65e2d"/>
<circle cx="1015.9" cy="502.2" r="8.2" fill="#5f126e"/>
<circle cx="1173.4" cy="536.6" r="8.2" fill="#500d6c"/>
<circle cx="1029.6" cy="673.6" r="8.2" fill="#f57e14"/>
<circle cx="1115.3" cy="1022.2" r="8.2" fill="#fbb116"/>
<circle cx="914.8" cy="665.1" r="8.2" fill="#be3852"/>
<circle cx="1132.9" cy="829.3" r="8.2" fill="#761b6d"/>
<circle cx="1126.3" cy="815.9" r="8.2" fill="#ab2e5d"/>
<circle cx="1182.0" cy="549.8" r="8.2" fill="#5d126e"/>
<circle cx="1285.1" cy="129.1" r="8.2" fill="#781c6d"/>
<circle cx="1206.5" cy="545.5" r="8.2" fill="#570f6d"/>
<circle cx="1070.5" cy="470.0" r="8.2" fill="#550f6d"/>
<circle cx="1187.5" cy="264.7" r="8.2" fill="#530e6d"/>
<circle cx="1206.1" cy="147.6" r="8.2" fill="#72196d"/>
<circle cx="1131.6" cy="1098.3" r="8.2" fill="#5b116e"/>
<circle cx="1075.2" cy="654.1" r="8.2" fill="#df5436"/>
<circle cx="1197.8" cy="540.6" r="8.2" fill="#58106d"/>
<circle cx="1181.4" cy="682.3" r="8.2" fill="#9e2963"/>
<circle cx="1244.6" cy="337.3" r="8.2" fill="#982765"/>
<circle cx="1116.0" cy="687.6" r="8.2" fill="#b23259"/>
<circle cx="757.0" cy="134.0" r="8.2" fill="#f37918"/>
<circle cx="1334.7" cy="129.0" r="8.2" fill="#a12b61"/>
<circle cx="1293.6" cy="160.9" r="8.2" fill="#af315b"/>
<circle cx="1283.5" cy="293.6" r="8.2" fill="#9c2963"/>
<circle cx="1172.2" cy="331.4" r="8.2" fill="#4f0d6c"/>
<circle cx="1197.1" cy="375.5" r="8.2" fill="#550f6d"/>
<circle cx="1211.5" cy="365.5" r="8.2" fill="#9c2963"/>
<circle cx="583.0" cy="131.0" r="8.2" fill="#e65e2d"/>
<circle cx="1080.0" cy="475.1" r="8.2" fill="#520e6c"/>
<circle cx="1307.0" cy="307.8" r="8.2" fill="#9e2963"/>
<circle cx="1008.2" cy="478.9" r="8.2" fill="#af315b"/>
<circle cx="1219.4" cy="256.1" r="8.2" fill="#a72d5f"/>
<circle cx="1123.7" cy="701.7" r="8.2" fill="#cf4446"/>
<circle cx="1119.0" cy="118.0" r="8.2" fill="#d24742"/>
<circle cx="980.1" cy="484.3" r="8.2" fill="#570f6d"/>
<circle cx="1091.1" cy="702.7" r="8.2" fill="#c53d4d"/>
<circle cx="1259.8" cy="326.3" r="8.2" fill="#982765"/>
<circle cx="1071.6" cy="459.2" r="8.2" fill="#5a116d"/>
<circle cx="1380.5" cy="848.3" r="8.2" fill="#65156e"/>
<circle cx="1164.3" cy="113.4" r="8.2" fill="#b43358"/>
<circle cx="1230.1" cy="122.9" r="8.2" fill="#9c2963"/>
<circle cx="877.7" cy="673.0" r="8.2" fill="#bd3753"/>
<circle cx="1094.7" cy="444.4" r="8.2" fill="#58106d"/>
<circle cx="1123.5" cy="980.8" r="8.2" fill="#5b116e"/>
<circle cx="1132.3" cy="849.0" r="8.2" fill="#ab2e5d"/>
<circle cx="1342.0" cy="488.3" r="8.2" fill="#550f6d"/>
<circle cx="1222.7" cy="507.2" r="8.2" fill="#5b116e"/>
<circle cx="1174.1" cy="527.4" r="8.2" fill="#5d126e"/>
<circle cx="1188.9" cy="360.2" r="8.2" fill="#5d126e"/>
<circle cx="1189.2" cy="275.8" r="8.2" fill="#520e6c"/>
<circle cx="887.3" cy="678.6" r="8.2" fill="#f98c09"/>
<circle cx="1106.9" cy="626.2" r="8.2" fill="#cc4148"/>
<circle cx="1462.0" cy="128.5" r="8.2" fill="#8e2468"/>
<circle cx="1038.1" cy="649.7" r="8.2" fill="#f68111"/>
<circle cx="1221.1" cy="364.5" r="8.2" fill="#992864"/>
<circle cx="1189.1" cy="109.6" r="8.2" fill="#6a176e"/>
<circle cx="1155.1" cy="342.0" r="8.2" fill="#5d126e"/>
<circle cx="1071.0" cy="507.4" r="8.2" fill="#5d126e"/>
<circle cx="1046.1" cy="687.5" r="8.2" fill="#eb6527"/>
<circle cx="660.0" cy="298.0" r="8.2" fill="#fbb71c"/>
<circle cx="1174.8" cy="517.5" r="8.2" fill="#520e6c"/>
<circle cx="1244.5" cy="268.9" r="8.2" fill="#992864"/>
<circle cx="940.4" cy="659.7" r="8.2" fill="#f78310"/>
<circle cx="1188.8" cy="89.6" r="8.2" fill="#801f6b"/>
<circle cx="1213.6" cy="142.0" r="8.2" fill="#a32b61"/>
<circle cx="965.0" cy="304.0" r="8.2" fill="#eb6527"/>
<circle cx="993.3" cy="658.2" r="8.2" fill="#ea6428"/>
<circle cx="1291.0" cy="308.4" r="8.2" fill="#a02a62"/>
<circle cx="1038.1" cy="668.3" r="8.2" fill="#e65c2e"/>
<circle cx="1186.9" cy="256.7" r="8.2" fill="#520e6c"/>
<circle cx="1139.7" cy="873.0" r="8.2" fill="#761b6d"/>
<circle cx="1204.7" cy="273.9" r="8.2" fill="#a42c60"/>
<circle cx="1222.5" cy="479.9" r="8.2" fill="#550f6d"/>
<circle cx="1132.8" cy="644.7" r="8.2" fill="#962666"/>
<circle cx="1244.5" cy="113.9" r="8.2" fill="#7d1d6c"/>
<circle cx="1118.0" cy="905.6" r="8.2" fill="#a12b61"/>
<circle cx="1189.6" cy="545.2" r="8.2" fill="#520e6c"/>
<circle cx="617.0" cy="131.0" r="8.2" fill="#e9622a"/>
<circle cx="978.0" cy="315.0" r="8.2" fill="#ea6428"/>
<circle cx="1062.1" cy="691.7" r="8.2" fill="#eb6527"/>
<circle cx="977.7" cy="667.8" r="8.2" fill="#e65e2d"/>
<circle cx="975.0" cy="300.0" r="8.2" fill="#eb6527"/>
<circle cx="1195.0" cy="289.5" r="8.2" fill="#4f0d6c"/>
<circle cx="1027.8" cy="684.0" r="8.2" fill="#e65e2d"/>
<circle cx="1188.5" cy="349.7" r="8.2" fill="#530e6d"/>
<circle cx="1131.9" cy="673.3" r="8.2" fill="#b43358"/>
<circle cx="1260.3" cy="336.8" r="8.2" fill="#bd3753"/>
<circle cx="1260.1" cy="134.1" r="8.2" fill="#731a6d"/>
<circle cx="1181.6" cy="445.8" r="8.2" fill="#5a116d"/>
<circle cx="1195.9" cy="194.3" r="8.2" fill="#66156e"/>
<circle cx="1140.6" cy="317.8" r="8.2" fill="#ee6c22"/>
<circle cx="1125.7" cy="503.4" r="8.2" fill="#500d6c"/>
<circle cx="1117.2" cy="508.5" r="8.2" fill="#5b116e"/>
<circle cx="1125.1" cy="507.0" r="8.2" fill="#550f6d"/>
<circle cx="1157.4" cy="659.8" r="8.2" fill="#9b2864"/>
<circle cx="1123.3" cy="989.1" r="8.2" fill="#570f6d"/>
<circle cx="1228.0" cy="94.9" r="8.2" fill="#66156e"/>
<circle cx="1053.7" cy="679.2" r="8.2" fill="#f47a16"/>
<circle cx="1125.3" cy="842.9" r="8.2" fill="#7d1d6c"/>
<circle cx="1212.0" cy="133.8" r="8.2" fill="#63146e"/>
<circle cx="1195.4" cy="355.1" r="8.2" fill="#5d126e"/>
<circle cx="1196.9" cy="113.1" r="8.2" fill="#6d186e"/>
<circle cx="1076.4" cy="307.9" r="8.2" fill="#ed6a23"/>
<circle cx="922.1" cy="669.5" r="8.2" fill="#d74b3e"/>
<circle cx="1173.1" cy="108.4" r="8.2" fill="#d24742"/>
<circle cx="894.6" cy="125.0" r="8.2" fill="#bf3951"/>
<circle cx="1146.5" cy="857.9" r="8.2" fill="#781c6d"/>
<circle cx="943.5" cy="130.0" r="8.2" fill="#dc5039"/>
<circle cx="1124.7" cy="1086.2" r="8.2" fill="#5b116e"/>
<circle cx="1120.1" cy="867.8" r="8.2" fill="#ac2f5c"/>
<circle cx="1212.2" cy="279.1" r="8.2" fill="#bd3753"/>
<circle cx="1165.1" cy="337.3" r="8.2" fill="#530e6d"/>
<circle cx="1112.2" cy="843.0" r="8.2" fill="#ae305b"/>
<circle cx="935.0" cy="488.3" r="8.2" fill="#570f6d"/>
<circle cx="1095.3" cy="531.6" r="8.2" fill="#5a116d"/>
<circle cx="1236.8" cy="128.9" r="8.2" fill="#6e186e"/>
<circle cx="1126.3" cy="918.7" r="8.2" fill="#e75f2c"/>
<circle cx="1132.2" cy="1070.3" r="8.2" fill="#530e6d"/>
<circle cx="1182.4" cy="491.9" r="8.2" fill="#500d6c"/>
<circle cx="1214.0" cy="483.4" r="8.2" fill="#5a116d"/>
<circle cx="1259.7" cy="669.3" r="8.2" fill="#962666"/>
<circle cx="1165.0" cy="848.3" r="8.2" fill="#68166e"/>
<circle cx="1157.9" cy="649.6" r="8.2" fill="#a12b61"/>
<circle cx="1220.3" cy="321.6" r="8.2" fill="#a62c5f"/>
<circle cx="1205.0" cy="91.3" r="8.2" fill="#9b2864"/>
<circle cx="1133.9" cy="683.2" r="8.2" fill="#992864"/>
<circle cx="1211.8" cy="335.7" r="8.2" fill="#a02a62"/>
<circle cx="1094.8" cy="464.1" r="8.2" fill="#5d126e"/>
<circle cx="1172.6" cy="678.8" r="8.2" fill="#9e2963"/>
<circle cx="790.6" cy="120.0" r="8.2" fill="#f2741c"/>
<circle cx="1133.0" cy="1090.4" r="8.2" fill="#550f6d"/>
<circle cx="1292.1" cy="104.6" r="8.2" fill="#72196d"/>
<circle cx="913.8" cy="672.3" r="8.2" fill="#db4f3a"/>
<circle cx="1181.8" cy="162.9" r="8.2" fill="#cb4049"/>
<circle cx="1086.0" cy="459.4" r="8.2" fill="#5a116d"/>
<circle cx="1126.0" cy="851.9" r="8.2" fill="#eb6527"/>
<circle cx="1187.9" cy="687.3" r="8.2" fill="#72196d"/>
<circle cx="1086.2" cy="847.7" r="8.2" fill="#f47a16"/>
<circle cx="986.8" cy="672.8" r="8.2" fill="#f7850e"/>
<circle cx="1133.3" cy="867.8" r="8.2" fill="#a72d5f"/>
<circle cx="1100.4" cy="669.1" r="8.2" fill="#cf4446"/>
<circle cx="1196.9" cy="250.6" r="8.2" fill="#530e6d"/>
<circle cx="1001.4" cy="672.3" r="8.2" fill="#e35832"/>
<circle cx="940.4" cy="677.1" r="8.2" fill="#be3852"/>
<circle cx="1310.2" cy="124.0" r="8.2" fill="#982765"/>
<circle cx="880.0" cy="488.3" r="8.2" fill="#550f6d"/>
<circle cx="1164.9" cy="289.0" r="8.2" fill="#530e6d"/>
<circle cx="1173.8" cy="439.8" r="8.2" fill="#5a116d"/>
<circle cx="1067.2" cy="668.7" r="8.2" fill="#cc4148"/>
<circle cx="1148.7" cy="691.8" r="8.2" fill="#ac2f5c"/>
<circle cx="1126.1" cy="677.1" r="8.2" fill="#952666"/>
<circle cx="1213.2" cy="355.8" r="8.2" fill="#9e2963"/>
<circle cx="1156.1" cy="484.6" r="8.2" fill="#5d126e"/>
<circle cx="453.7" cy="304.0" r="8.2" fill="#fbb71c"/>
<circle cx="1075.9" cy="663.4" r="8.2" fill="#c23b4f"/>
<circle cx="1171.9" cy="659.0" r="8.2" fill="#a02a62"/>
<circle cx="1131.8" cy="994.5" r="8.2" fill="#5b116e"/>
<circle cx="1173.5" cy="118.4" r="8.2" fill="#b53357"/>
<circle cx="1292.1" cy="134.1" r="8.2" fill="#b73456"/>
<circle cx="1109.2" cy="654.3" r="8.2" fill="#cc4148"/>
<circle cx="1229.5" cy="153.2" r="8.2" fill="#9c2963"/>
<circle cx="1107.5" cy="730.3" r="8.2" fill="#e25733"/>
<circle cx="1125.5" cy="787.6" r="8.2" fill="#85206a"/>
<circle cx="1123.2" cy="970.8" r="8.2" fill="#570f6d"/>
<circle cx="1133.7" cy="294.8" r="8.2" fill="#e75f2c"/>
<circle cx="989.2" cy="489.1" r="8.2" fill="#530e6d"/>
<circle cx="1183.1" cy="502.2" r="8.2" fill="#5b116e"/>
<circle cx="1126.0" cy="316.7" r="8.2" fill="#ed6a23"/>
<circle cx="1253.7" cy="146.5" r="8.2" fill="#761b6d"/>
<circle cx="1197.6" cy="520.8" r="8.2" fill="#570f6d"/>
<circle cx="1325.7" cy="132.1" r="8.2" fill="#a32b61"/>
<circle cx="1125.3" cy="697.6" r="8.2" fill="#68166e"/>
<circle cx="1166.2" cy="520.9" r="8.2" fill="#5a116d"/>
<circle cx="1363.6" cy="132.6" r="8.2" fill="#9c2963"/>
<circle cx="648.5" cy="302.7" r="8.2" fill="#fabb21"/>
<circle cx="1008.3" cy="497.5" r="8.2" fill="#5b116e"/>
<circle cx="1191.0" cy="431.3" r="8.2" fill="#5d126e"/>
<circle cx="1123.4" cy="1104.7" r="8.2" fill="#530e6d"/>
<circle cx="1005.0" cy="310.0" r="8.2" fill="#ed6825"/>
<circle cx="1307.9" cy="132.4" r="8.2" fill="#992864"/>
<circle cx="1172.7" cy="246.7" r="8.2" fill="#982765"/>
<circle cx="1244.2" cy="96.3" r="8.2" fill="#932567"/>
<circle cx="753.0" cy="310.0" r="8.2" fill="#e35832"/>
<circle cx="1269.1" cy="166.8" r="8.2" fill="#6d186e"/>
<circle cx="900.0" cy="305.0" r="8.2" fill="#e9622a"/>
<circle cx="1267.9" cy="99.5" r="8.2" fill="#6d186e"/>
<circle cx="861.0" cy="668.7" r="8.2" fill="#fbb91e"/>
<circle cx="1190.0" cy="517.7" r="8.2" fill="#5a116d"/>
<circle cx="1092.1" cy="655.2" r="8.2" fill="#c43c4e"/>
<circle cx="1301.0" cy="109.1" r="8.2" fill="#6d186e"/>
<circle cx="1189.5" cy="479.4" r="8.2" fill="#570f6d"/>
<circle cx="1237.3" cy="479.2" r="8.2" fill="#58106d"/>
<circle cx="1087.0" cy="517.8" r="8.2" fill="#520e6c"/>
<circle cx="1080.0" cy="454.1" r="8.2" fill="#4f0d6c"/>
<circle cx="1140.8" cy="507.7" r="8.2" fill="#5d126e"/>
<circle cx="1119.2" cy="838.1" r="8.2" fill="#d44841"/>
<circle cx="1153.0" cy="844.6" r="8.2" fill="#ab2e5d"/>
<circle cx="1179.1" cy="336.4" r="8.2" fill="#5d126e"/>
<circle cx="998.7" cy="492.7" r="8.2" fill="#570f6d"/>
<circle cx="1316.9" cy="148.5" r="8.2" fill="#962666"/>
<circle cx="1197.4" cy="482.5" r="8.2" fill="#5a116d"/>
<circle cx="1211.8" cy="252.0" r="8.2" fill="#982765"/>
<circle cx="1157.0" cy="620.8" r="8.2" fill="#a12b61"/>
<circle cx="1166.1" cy="626.3" r="8.2" fill="#88216a"/>
<circle cx="1100.8" cy="660.1" r="8.2" fill="#cf4446"/>
<circle cx="904.0" cy="668.6" r="8.2" fill="#f98c09"/>
<circle cx="1213.7" cy="124.3" r="8.2" fill="#9b2864"/>
<circle cx="1221.7" cy="489.0" r="8.2" fill="#500d6c"/>
<circle cx="1099.4" cy="1032.9" r="8.2" fill="#fbb014"/>
<circle cx="1141.6" cy="290.1" r="8.2" fill="#e9622a"/>
<circle cx="1196.3" cy="104.3" r="8.2" fill="#932567"/>
<circle cx="1370.9" cy="137.1" r="8.2" fill="#982765"/>
<circle cx="1069.1" cy="659.4" r="8.2" fill="#cc4148"/>
<circle cx="1155.2" cy="368.6" r="8.2" fill="#58106d"/>
<circle cx="1230.0" cy="86.9" r="8.2" fill="#952666"/>
<circle cx="1163.9" cy="673.3" r="8.2" fill="#66156e"/>
<circle cx="1112.0" cy="814.5" r="8.2" fill="#e9622a"/>
<circle cx="1237.0" cy="137.3" r="8.2" fill="#801f6b"/>
<circle cx="1111.0" cy="536.6" r="8.2" fill="#5a116d"/>
<circle cx="1026.0" cy="308.0" r="8.2" fill="#530e6d"/>
<circle cx="1442.0" cy="122.0" r="8.2" fill="#86216a"/>
<circle cx="1180.8" cy="142.5" r="8.2" fill="#a62c5f"/>
<circle cx="691.5" cy="128.5" r="8.2" fill="#e35832"/>
<circle cx="1124.3" cy="639.1" r="8.2" fill="#9e2963"/>
<circle cx="1148.1" cy="346.6" r="8.2" fill="#550f6d"/>
<circle cx="662.0" cy="308.0" r="8.2" fill="#fabb21"/>
<circle cx="1124.1" cy="1027.0" r="8.2" fill="#500d6c"/>
<circle cx="1110.8" cy="531.0" r="8.2" fill="#550f6d"/>
<circle cx="1229.1" cy="189.1" r="8.2" fill="#b73456"/>
<circle cx="1123.7" cy="1066.5" r="8.2" fill="#58106d"/>
<circle cx="1196.3" cy="288.4" r="8.2" fill="#520e6c"/>
<circle cx="1218.9" cy="313.7" r="8.2" fill="#5d126e"/>
<circle cx="1371.3" cy="128.8" r="8.2" fill="#72196d"/>
<circle cx="1244.4" cy="162.3" r="8.2" fill="#801f6b"/>
<circle cx="1071.2" cy="450.4" r="8.2" fill="#58106d"/>
<circle cx="896.0" cy="488.3" r="8.2" fill="#570f6d"/>
<circle cx="1116.0" cy="488.9" r="8.2" fill="#4f0d6c"/>
<circle cx="1180.8" cy="530.3" r="8.2" fill="#550f6d"/>
<circle cx="1101.1" cy="715.7" r="8.2" fill="#e65c2e"/>
<circle cx="1156.0" cy="502.5" r="8.2" fill="#58106d"/>
<circle cx="981.5" cy="503.3" r="8.2" fill="#a02a62"/>
<circle cx="1100.8" cy="601.6" r="8.2" fill="#c73e4c"/>
<circle cx="1158.7" cy="498.0" r="8.2" fill="#4f0d6c"/>
<circle cx="1085.9" cy="439.9" r="8.2" fill="#4d0c6b"/>
<circle cx="1072.0" cy="483.7" r="8.2" fill="#a02a62"/>
<circle cx="1125.8" cy="872.1" r="8.2" fill="#ae305b"/>
<circle cx="1301.3" cy="147.2" r="8.2" fill="#982765"/>
<circle cx="1086.2" cy="507.9" r="8.2" fill="#500d6c"/>
<circle cx="429.0" cy="128.5" r="8.2" fill="#fa9506"/>
<circle cx="1214.8" cy="673.0" r="8.2" fill="#6d186e"/>
<circle cx="1188.9" cy="369.2" r="8.2" fill="#5b116e"/>
<circle cx="1050.0" cy="848.3" r="8.2" fill="#a42c60"/>
<circle cx="1261.6" cy="142.0" r="8.2" fill="#6e186e"/>
<circle cx="1107.7" cy="1036.6" r="8.2" fill="#fbb014"/>
<circle cx="1132.2" cy="820.0" r="8.2" fill="#a62c5f"/>
<circle cx="808.0" cy="130.0" r="8.2" fill="#cf4446"/>
<circle cx="1194.8" cy="269.1" r="8.2" fill="#be3852"/>
<circle cx="1254.1" cy="118.7" r="8.2" fill="#72196d"/>
<circle cx="1157.5" cy="473.9" r="8.2" fill="#500d6c"/>
<circle cx="1282.9" cy="322.7" r="8.2" fill="#520e6c"/>
<circle cx="1235.4" cy="275.4" r="8.2" fill="#a12b61"/>
<circle cx="1115.6" cy="659.8" r="8.2" fill="#c53d4d"/>
<circle cx="1174.5" cy="487.9" r="8.2" fill="#5d126e"/>
<circle cx="1172.9" cy="293.8" r="8.2" fill="#570f6d"/>
<circle cx="1197.0" cy="644.6" r="8.2" fill="#9b2864"/>
<circle cx="1196.8" cy="346.3" r="8.2" fill="#a12b61"/>
<circle cx="1091.0" cy="626.6" r="8.2" fill="#f57e14"/>
<circle cx="1018.1" cy="484.0" r="8.2" fill="#5a116d"/>
<circle cx="1148.1" cy="674.0" r="8.2" fill="#9e2963"/>
<circle cx="962.1" cy="492.7" r="8.2" fill="#5d126e"/>
<circle cx="1148.4" cy="251.9" r="8.2" fill="#5b116e"/>
<circle cx="1085.8" cy="489.5" r="8.2" fill="#5b116e"/>
<circle cx="1228.8" cy="308.7" r="8.2" fill="#9c2963"/>
<circle cx="1268.0" cy="336.5" r="8.2" fill="#9c2963"/>
<circle cx="770.5" cy="118.0" r="8.2" fill="#fba80d"/>
<circle cx="1123.1" cy="644.6" r="8.2" fill="#f7850e"/>
<circle cx="1116.5" cy="630.2" r="8.2" fill="#f8870d"/>
<circle cx="516.0" cy="128.5" r="8.2" fill="#e05634"/>
<circle cx="1164.1" cy="143.6" r="8.2" fill="#a32b61"/>
<circle cx="1141.8" cy="335.9" r="8.2" fill="#e9622a"/>
<circle cx="1087.9" cy="526.9" r="8.2" fill="#500d6c"/>
<circle cx="1001.3" cy="653.8" r="8.2" fill="#e65c2e"/>
<circle cx="1102.1" cy="316.5" r="8.2" fill="#ef6d21"/>
<circle cx="1275.0" cy="488.3" r="8.2" fill="#520e6c"/>
<circle cx="1195.2" cy="278.5" r="8.2" fill="#5b116e"/>
<circle cx="1157.3" cy="460.8" r="8.2" fill="#58106d"/>
<circle cx="1243.2" cy="289.8" r="8.2" fill="#a32b61"/>
<circle cx="1111.3" cy="835.0" r="8.2" fill="#a42c60"/>
<circle cx="971.9" cy="498.6" r="8.2" fill="#500d6c"/>
<circle cx="1109.9" cy="473.9" r="8.2" fill="#5a116d"/>
<circle cx="1254.1" cy="108.4" r="8.2" fill="#72196d"/>
<circle cx="1077.2" cy="643.8" r="8.2" fill="#cf4446"/>
<circle cx="1261.0" cy="161.1" r="8.2" fill="#9e2963"/>
<circle cx="1096.0" cy="501.5" r="8.2" fill="#530e6d"/>
<circle cx="1252.4" cy="321.6" r="8.2" fill="#a02a62"/>
<circle cx="1153.2" cy="852.8" r="8.2" fill="#cf4446"/>
<circle cx="1084.5" cy="697.3" r="8.2" fill="#f37918"/>
<circle cx="367.0" cy="308.0" r="8.2" fill="#fbb318"/>
<circle cx="1010.9" cy="677.5" r="8.2" fill="#e55b30"/>
<circle cx="1102.6" cy="535.5" r="8.2" fill="#500d6c"/>
<circle cx="971.1" cy="489.3" r="8.2" fill="#520e6c"/>
<circle cx="1076.2" cy="710.7" r="8.2" fill="#e55b30"/>
<circle cx="1172.1" cy="256.5" r="8.2" fill="#5a116d"/>
<circle cx="1229.1" cy="503.5" r="8.2" fill="#4f0d6c"/>
<circle cx="1088.2" cy="468.2" r="8.2" fill="#5a116d"/>
<circle cx="1179.1" cy="242.6" r="8.2" fill="#570f6d"/>
<circle cx="490.0" cy="122.0" r="8.2" fill="#fba208"/>
<circle cx="1166.0" cy="665.1" r="8.2" fill="#86216a"/>
<circle cx="1172.2" cy="640.4" r="8.2" fill="#ae305b"/>
<circle cx="1204.9" cy="535.8" r="8.2" fill="#4f0d6c"/>
<circle cx="805.0" cy="488.3" r="8.2" fill="#530e6d"/>
<circle cx="1277.2" cy="104.4" r="8.2" fill="#781c6d"/>
<circle cx="1148.0" cy="330.9" r="8.2" fill="#ed6a23"/>
<circle cx="882.0" cy="314.0" r="8.2" fill="#ec6726"/>
<circle cx="1236.7" cy="323.2" r="8.2" fill="#b53357"/>
<circle cx="1180.0" cy="1028.0" r="8.2" fill="#60136e"/>
<circle cx="1124.5" cy="961.7" r="8.2" fill="#520e6c"/>
<circle cx="989.2" cy="498.6" r="8.2" fill="#5b116e"/>
<circle cx="1276.2" cy="151.7" r="8.2" fill="#a12b61"/>
<circle cx="1068.3" cy="688.2" r="8.2" fill="#ae305b"/>
<circle cx="1333.2" cy="118.5" r="8.2" fill="#932567"/>
<circle cx="1071.4" cy="489.0" r="8.2" fill="#5f126e"/>
<circle cx="1125.3" cy="288.9" r="8.2" fill="#ed6825"/>
<circle cx="414.0" cy="311.0" r="8.2" fill="#fbb71c"/>
<circle cx="1237.4" cy="120.0" r="8.2" fill="#63146e"/>
<circle cx="1030.0" cy="135.0" r="8.2" fill="#f47a16"/>
<circle cx="1243.8" cy="298.9" r="8.2" fill="#962666"/>
<circle cx="994.7" cy="687.2" r="8.2" fill="#e9622a"/>
<circle cx="1107.8" cy="607.9" r="8.2" fill="#de5337"/>
<circle cx="1191.1" cy="488.7" r="8.2" fill="#58106d"/>
<circle cx="1035.5" cy="483.7" r="8.2" fill="#a42c60"/>
<circle cx="1102.7" cy="489.1" r="8.2" fill="#500d6c"/>
<circle cx="1283.0" cy="302.8" r="8.2" fill="#a62c5f"/>
<circle cx="1148.9" cy="664.8" r="8.2" fill="#a32b61"/>
<circle cx="1190.8" cy="441.2" r="8.2" fill="#550f6d"/>
<circle cx="1132.7" cy="702.4" r="8.2" fill="#a02a62"/>
<circle cx="1015.0" cy="308.0" r="8.2" fill="#570f6d"/>
<circle cx="905.5" cy="658.6" r="8.2" fill="#d44841"/>
<circle cx="1102.4" cy="496.8" r="8.2" fill="#5b116e"/>
<circle cx="1181.0" cy="326.3" r="8.2" fill="#a12b61"/>
<circle cx="1119.4" cy="856.9" r="8.2" fill="#e55b30"/>
<circle cx="1189.5" cy="525.2" r="8.2" fill="#530e6d"/>
<circle cx="1220.4" cy="91.5" r="8.2" fill="#932567"/>
<circle cx="1228.7" cy="162.8" r="8.2" fill="#bf3951"/>
<circle cx="1187.3" cy="321.2" r="8.2" fill="#58106d"/>
<circle cx="1164.7" cy="726.1" r="8.2" fill="#72196d"/>
<circle cx="1316.1" cy="120.0" r="8.2" fill="#6d186e"/>
<circle cx="1278.0" cy="123.6" r="8.2" fill="#992864"/>
<circle cx="1268.0" cy="848.3" r="8.2" fill="#7a1c6d"/>
<circle cx="1131.9" cy="331.2" r="8.2" fill="#e65e2d"/>
<circle cx="1356.7" cy="128.6" r="8.2" fill="#6d186e"/>
<circle cx="1110.7" cy="512.1" r="8.2" fill="#5d126e"/>
<circle cx="914.7" cy="488.3" r="8.2" fill="#58106d"/>
<circle cx="1156.1" cy="264.2" r="8.2" fill="#4d0c6b"/>
<circle cx="1124.4" cy="483.1" r="8.2" fill="#5b116e"/>
<circle cx="1126.7" cy="909.5" r="8.2" fill="#801f6b"/>
<circle cx="793.0" cy="135.0" r="8.2" fill="#c93f4a"/>
<circle cx="1044.1" cy="653.8" r="8.2" fill="#eb6527"/>
<circle cx="1197.0" cy="365.8" r="8.2" fill="#4f0d6c"/>
<circle cx="1076.5" cy="701.3" r="8.2" fill="#f7850e"/>
<circle cx="921.0" cy="139.0" r="8.2" fill="#e9622a"/>
<circle cx="1196.9" cy="180.4" r="8.2" fill="#a12b61"/>
<circle cx="1268.4" cy="119.7" r="8.2" fill="#ac2f5c"/>
<circle cx="1109.0" cy="1027.1" r="8.2" fill="#fabd23"/>
<circle cx="1035.2" cy="492.0" r="8.2" fill="#570f6d"/>
<circle cx="790.0" cy="311.0" r="8.2" fill="#e05634"/>
<circle cx="1115.1" cy="1033.5" r="8.2" fill="#fbb318"/>
<circle cx="1119.1" cy="818.9" r="8.2" fill="#d14643"/>
<circle cx="1090.0" cy="142.0" r="8.2" fill="#d24742"/>
<circle cx="1117.9" cy="322.9" r="8.2" fill="#ee6c22"/>
<circle cx="403.7" cy="306.0" r="8.2" fill="#fbb71c"/>
<circle cx="1124.3" cy="1036.8" r="8.2" fill="#5a116d"/>
<circle cx="1197.9" cy="436.9" r="8.2" fill="#5a116d"/>
<circle cx="1212.2" cy="374.9" r="8.2" fill="#a02a62"/>
<circle cx="1223.5" cy="669.7" r="8.2" fill="#70196e"/>
<circle cx="1212.5" cy="171.4" r="8.2" fill="#63146e"/>
<circle cx="1148.5" cy="293.7" r="8.2" fill="#ed6825"/>
<circle cx="1180.3" cy="104.0" r="8.2" fill="#bd3753"/>
<circle cx="1086.2" cy="450.9" r="8.2" fill="#500d6c"/>
<circle cx="1091.2" cy="1028.0" r="8.2" fill="#fac128"/>
<circle cx="1071.6" cy="501.6" r="8.2" fill="#550f6d"/>
<circle cx="1228.2" cy="75.5" r="8.2" fill="#83206b"/>
<circle cx="1108.0" cy="112.0" r="8.2" fill="#de5337"/>
<circle cx="1116.1" cy="478.1" r="8.2" fill="#5b116e"/>
<circle cx="921.0" cy="124.0" r="8.2" fill="#ed6825"/>
<circle cx="1157.5" cy="128.5" r="8.2" fill="#cf4446"/>
<circle cx="1220.5" cy="293.4" r="8.2" fill="#9b2864"/>
<circle cx="1156.3" cy="332.8" r="8.2" fill="#570f6d"/>
<circle cx="1221.1" cy="341.2" r="8.2" fill="#b73456"/>
<circle cx="896.8" cy="673.3" r="8.2" fill="#f78310"/>
<circle cx="1173.1" cy="359.7" r="8.2" fill="#500d6c"/>
<circle cx="1131.6" cy="1080.7" r="8.2" fill="#58106d"/>
<circle cx="1173.6" cy="460.9" r="8.2" fill="#5a116d"/>
<circle cx="1196.5" cy="355.4" r="8.2" fill="#a12b61"/>
<circle cx="1277.0" cy="162.5" r="8.2" fill="#ae305b"/>
<circle cx="1100.3" cy="622.1" r="8.2" fill="#f47a16"/>
<circle cx="1141.5" cy="668.3" r="8.2" fill="#af315b"/>
<circle cx="1156.8" cy="146.5" r="8.2" fill="#c73e4c"/>
<circle cx="1173.3" cy="479.1" r="8.2" fill="#5a116d"/>
<circle cx="297.4" cy="308.0" r="8.2" fill="#fbb91e"/>
<circle cx="1106.8" cy="739.6" r="8.2" fill="#e55b30"/>
<circle cx="1094.0" cy="125.0" r="8.2" fill="#d74b3e"/>
<circle cx="1220.1" cy="81.8" r="8.2" fill="#a12b61"/>
<circle cx="1191.1" cy="498.3" r="8.2" fill="#520e6c"/>
<circle cx="1124.6" cy="1095.0" r="8.2" fill="#5b116e"/>
<circle cx="1053.9" cy="502.9" r="8.2" fill="#a32b61"/>
<circle cx="1126.0" cy="659.0" r="8.2" fill="#a02a62"/>
<circle cx="1203.7" cy="360.4" r="8.2" fill="#9c2963"/>
<circle cx="1244.7" cy="307.5" r="8.2" fill="#a42c60"/>
<circle cx="1203.5" cy="245.6" r="8.2" fill="#a02a62"/>
<circle cx="1076.5" cy="682.6" r="8.2" fill="#c53d4d"/>
<circle cx="1104.9" cy="859.0" r="8.2" fill="#a62c5f"/>
<circle cx="1181.1" cy="251.4" r="8.2" fill="#550f6d"/>
<circle cx="1099.4" cy="640.6" r="8.2" fill="#cd4247"/>
<circle cx="1165.3" cy="616.6" r="8.2" fill="#6d186e"/>
<circle cx="697.0" cy="306.0" r="8.2" fill="#fabb21"/>
<circle cx="1111.8" cy="871.2" r="8.2" fill="#eb6527"/>
<circle cx="1204.2" cy="254.6" r="8.2" fill="#a42c60"/>
<circle cx="1355.0" cy="668.7" r="8.2" fill="#8b2269"/>
<circle cx="1213.3" cy="510.9" r="8.2" fill="#5a116d"/>
<circle cx="1196.2" cy="298.6" r="8.2" fill="#4f0d6c"/>
<circle cx="1012.0" cy="303.0" r="8.2" fill="#e9622a"/>
<circle cx="1205.3" cy="468.6" r="8.2" fill="#58106d"/>
<circle cx="1094.7" cy="473.8" r="8.2" fill="#5f126e"/>
<circle cx="1199.1" cy="512.6" r="8.2" fill="#530e6d"/>
<circle cx="868.0" cy="669.3" r="8.2" fill="#f99008"/>
<circle cx="1276.8" cy="94.7" r="8.2" fill="#7a1c6d"/>
<circle cx="1511.0" cy="310.0" r="8.2" fill="#9c2963"/>
<circle cx="1204.7" cy="155.8" r="8.2" fill="#9b2864"/>
<circle cx="1179.1" cy="308.0" r="8.2" fill="#520e6c"/>
<circle cx="1261.0" cy="114.8" r="8.2" fill="#6e186e"/>
<circle cx="1173.9" cy="432.3" r="8.2" fill="#5d126e"/>
<circle cx="1115.9" cy="469.7" r="8.2" fill="#5a116d"/>
<circle cx="1230.5" cy="482.5" r="8.2" fill="#530e6d"/>
<circle cx="933.1" cy="672.5" r="8.2" fill="#d44841"/>
<circle cx="1180.0" cy="673.9" r="8.2" fill="#68166e"/>
<circle cx="1198.4" cy="532.0" r="8.2" fill="#530e6d"/>
<circle cx="1156.4" cy="293.1" r="8.2" fill="#550f6d"/>
<circle cx="1148.2" cy="468.2" r="8.2" fill="#4f0d6c"/>
<circle cx="839.0" cy="488.3" r="8.2" fill="#530e6d"/>
<circle cx="1131.2" cy="966.4" r="8.2" fill="#530e6d"/>
<circle cx="1228.3" cy="132.7" r="8.2" fill="#68166e"/>
<circle cx="1229.3" cy="194.5" r="8.2" fill="#66156e"/>
<circle cx="1148.2" cy="298.9" r="8.2" fill="#530e6d"/>
<circle cx="1148.3" cy="1032.0" r="8.2" fill="#500d6c"/>
<circle cx="1132.1" cy="904.6" r="8.2" fill="#a42c60"/>
<circle cx="1189.7" cy="639.3" r="8.2" fill="#932567"/>
<circle cx="1213.5" cy="530.0" r="8.2" fill="#530e6d"/>
<circle cx="1164.7" cy="355.0" r="8.2" fill="#520e6c"/>
<circle cx="1140.3" cy="501.6" r="8.2" fill="#5a116d"/>
<circle cx="1083.7" cy="706.7" r="8.2" fill="#cb4049"/>
<circle cx="1227.3" cy="346.9" r="8.2" fill="#a02a62"/>
<circle cx="1036.0" cy="130.0" r="8.2" fill="#c93f4a"/>
<circle cx="1199.1" cy="502.9" r="8.2" fill="#5a116d"/>
<circle cx="777.0" cy="138.0" r="8.2" fill="#f37719"/>
<circle cx="1092.6" cy="644.1" r="8.2" fill="#c23b4f"/>
<circle cx="1202.8" cy="332.4" r="8.2" fill="#550f6d"/>
<circle cx="993.0" cy="296.0" r="8.2" fill="#ed6a23"/>
<circle cx="1356.8" cy="119.5" r="8.2" fill="#6b176e"/>
<circle cx="1125.7" cy="861.9" r="8.2" fill="#ab2e5d"/>
<circle cx="1115.8" cy="669.0" r="8.2" fill="#c43c4e"/>
<circle cx="1017.3" cy="664.3" r="8.2" fill="#e35832"/>
<circle cx="1005.0" cy="480.0" r="8.2" fill="#7f7f7f"/>
<circle cx="1017.0" cy="493.4" r="8.2" fill="#570f6d"/>
<circle cx="1251.2" cy="346.4" r="8.2" fill="#550f6d"/>
<circle cx="1302.0" cy="119.4" r="8.2" fill="#ae305b"/>
<circle cx="1107.3" cy="645.5" r="8.2" fill="#f47a16"/>
<circle cx="1197.2" cy="446.2" r="8.2" fill="#570f6d"/>
<circle cx="1498.0" cy="309.0" r="8.2" fill="#992864"/>
<circle cx="1155.9" cy="1026.8" r="8.2" fill="#550f6d"/>
<circle cx="1174.6" cy="496.9" r="8.2" fill="#5d126e"/>
<circle cx="1219.9" cy="176.6" r="8.2" fill="#a02a62"/>
<circle cx="1285.7" cy="166.4" r="8.2" fill="#72196d"/>
<circle cx="1148.2" cy="489.3" r="8.2" fill="#5b116e"/>
<circle cx="1079.9" cy="530.4" r="8.2" fill="#530e6d"/>
<circle cx="1157.0" cy="507.7" r="8.2" fill="#570f6d"/>
<circle cx="1060.2" cy="684.1" r="8.2" fill="#cc4148"/>
<circle cx="1172.8" cy="706.2" r="8.2" fill="#892269"/>
<circle cx="1148.7" cy="304.3" r="8.2" fill="#e75f2c"/>
<circle cx="1227.5" cy="848.3" r="8.2" fill="#892269"/>
<circle cx="1100.6" cy="706.0" r="8.2" fill="#c83e4b"/>
<circle cx="683.0" cy="301.7" r="8.2" fill="#fbb318"/>
<circle cx="1091.9" cy="684.0" r="8.2" fill="#df5436"/>
<circle cx="1186.9" cy="284.8" r="8.2" fill="#5d126e"/>
<circle cx="1132.0" cy="885.7" r="8.2" fill="#a72d5f"/>
<circle cx="1132.7" cy="1061.6" r="8.2" fill="#5d126e"/>
<circle cx="1212.0" cy="270.0" r="8.2" fill="#530e6d"/>
<circle cx="1084.5" cy="660.3" r="8.2" fill="#f57c15"/>
<circle cx="1203.1" cy="374.7" r="8.2" fill="#4f0d6c"/>
<circle cx="1214.7" cy="535.7" r="8.2" fill="#4f0d6c"/>
<circle cx="1437.0" cy="488.3" r="8.2" fill="#530e6d"/>
<circle cx="1196.1" cy="190.3" r="8.2" fill="#63146e"/>
<circle cx="1156.4" cy="687.4" r="8.2" fill="#86216a"/>
<circle cx="1278.1" cy="167.6" r="8.2" fill="#6b176e"/>
<circle cx="1230.1" cy="143.6" r="8.2" fill="#b43358"/>
<circle cx="1124.3" cy="1017.8" r="8.2" fill="#58106d"/>
<circle cx="1268.3" cy="672.3" r="8.2" fill="#751b6d"/>
<circle cx="1059.8" cy="673.4" r="8.2" fill="#d24742"/>
<circle cx="1141.3" cy="307.9" r="8.2" fill="#e9622a"/>
<circle cx="1245.0" cy="327.6" r="8.2" fill="#a32b61"/>
<circle cx="1454.0" cy="488.3" r="8.2" fill="#5a116d"/>
<circle cx="1118.5" cy="829.7" r="8.2" fill="#d14643"/>
<circle cx="1237.4" cy="487.5" r="8.2" fill="#5a116d"/>
<circle cx="1164.2" cy="365.8" r="8.2" fill="#4f0d6c"/>
<circle cx="1278.0" cy="141.8" r="8.2" fill="#992864"/>
<circle cx="1267.4" cy="283.4" r="8.2" fill="#a32b61"/>
<circle cx="1173.8" cy="668.1" r="8.2" fill="#9b2864"/>
<circle cx="1206.7" cy="478.5" r="8.2" fill="#4f0d6c"/>
<circle cx="1267.2" cy="303.9" r="8.2" fill="#5a116d"/>
<circle cx="1205.9" cy="128.9" r="8.2" fill="#66156e"/>
<circle cx="1165.7" cy="473.3" r="8.2" fill="#500d6c"/>
<circle cx="1300.1" cy="100.0" r="8.2" fill="#ae305b"/>
<circle cx="1110.8" cy="483.9" r="8.2" fill="#530e6d"/>
<circle cx="1122.9" cy="715.5" r="8.2" fill="#cd4247"/>
<circle cx="1156.6" cy="715.1" r="8.2" fill="#952666"/>
<circle cx="1087.0" cy="496.9" r="8.2" fill="#500d6c"/>
<circle cx="1238.7" cy="468.2" r="8.2" fill="#520e6c"/>
<circle cx="1196.8" cy="337.6" r="8.2" fill="#550f6d"/>
<circle cx="1156.3" cy="256.4" r="8.2" fill="#5a116d"/>
<circle cx="1078.4" cy="483.4" r="8.2" fill="#500d6c"/>
<circle cx="1182.0" cy="453.9" r="8.2" fill="#5b116e"/>
<circle cx="1120.0" cy="895.4" r="8.2" fill="#a42c60"/>
<circle cx="1276.9" cy="132.4" r="8.2" fill="#731a6d"/>
<circle cx="897.0" cy="664.8" r="8.2" fill="#bb3754"/>
<circle cx="1116.8" cy="1036.4" r="8.2" fill="#fbb014"/>
<circle cx="1092.7" cy="851.9" r="8.2" fill="#f7850e"/>
<circle cx="932.1" cy="665.0" r="8.2" fill="#eb6527"/>
<circle cx="1197.1" cy="307.5" r="8.2" fill="#a12b61"/>
<circle cx="1292.3" cy="143.9" r="8.2" fill="#7a1c6d"/>
<circle cx="1220.3" cy="156.7" r="8.2" fill="#892269"/>
<circle cx="1181.4" cy="540.2" r="8.2" fill="#570f6d"/>
<circle cx="1230.1" cy="181.3" r="8.2" fill="#a02a62"/>
<circle cx="559.0" cy="134.0" r="8.2" fill="#ea6428"/>
<circle cx="1213.3" cy="114.6" r="8.2" fill="#9b2864"/>
<circle cx="1157.1" cy="373.5" r="8.2" fill="#500d6c"/>
<circle cx="779.0" cy="306.0" r="8.2" fill="#e8612b"/>
<circle cx="1117.2" cy="303.0" r="8.2" fill="#ef6d21"/>
<circle cx="1181.0" cy="559.8" r="8.2" fill="#5d126e"/>
<circle cx="1086.0" cy="534.7" r="8.2" fill="#550f6d"/>
<circle cx="1237.5" cy="70.6" r="8.2" fill="#6b176e"/>
<circle cx="1252.0" cy="155.9" r="8.2" fill="#982765"/>
<circle cx="1376.0" cy="488.3" r="8.2" fill="#570f6d"/>
<circle cx="737.0" cy="308.0" r="8.2" fill="#e55b30"/>
<circle cx="1142.0" cy="659.9" r="8.2" fill="#b83556"/>
<circle cx="1009.1" cy="669.8" r="8.2" fill="#e55b30"/>
<circle cx="1242.9" cy="316.9" r="8.2" fill="#a42c60"/>
<circle cx="1236.1" cy="174.9" r="8.2" fill="#68166e"/>
<circle cx="1131.0" cy="1014.3" r="8.2" fill="#570f6d"/>
<circle cx="1172.2" cy="715.7" r="8.2" fill="#a12b61"/>
<circle cx="556.0" cy="127.0" r="8.2" fill="#e35832"/>
<circle cx="1451.0" cy="308.0" r="8.2" fill="#962666"/>
<circle cx="1157.0" cy="275.0" r="8.2" fill="#5a116d"/>
<circle cx="1233.9" cy="673.3" r="8.2" fill="#982765"/>
<circle cx="866.0" cy="124.0" r="8.2" fill="#f7850e"/>
<circle cx="1196.1" cy="345.7" r="8.2" fill="#a02a62"/>
<circle cx="428.7" cy="308.0" r="8.2" fill="#fabb21"/>
<circle cx="1133.7" cy="498.0" r="8.2" fill="#5d126e"/>
<circle cx="1323.9" cy="123.8" r="8.2" fill="#6e186e"/>
<circle cx="1125.0" cy="328.1" r="8.2" fill="#ec6726"/>
<circle cx="1140.0" cy="707.4" r="8.2" fill="#982765"/>
<circle cx="1202.9" cy="284.0" r="8.2" fill="#a32b61"/>
<circle cx="1235.5" cy="284.0" r="8.2" fill="#992864"/>
<circle cx="888.1" cy="659.8" r="8.2" fill="#d14643"/>
<circle cx="1132.2" cy="809.6" r="8.2" fill="#7d1d6c"/>
<circle cx="1388.8" cy="129.2" r="8.2" fill="#70196e"/>
<circle cx="1174.6" cy="508.1" r="8.2" fill="#570f6d"/>
<circle cx="944.0" cy="488.3" r="8.2" fill="#5a116d"/>
<circle cx="1132.7" cy="322.9" r="8.2" fill="#ef6d21"/>
<circle cx="1301.1" cy="138.2" r="8.2" fill="#ac2f5c"/>
<circle cx="1034.7" cy="503.2" r="8.2" fill="#5b116e"/>
<circle cx="1117.1" cy="640.1" r="8.2" fill="#c23b4f"/>
<circle cx="1244.8" cy="484.4" r="8.2" fill="#5b116e"/>
<circle cx="1124.8" cy="299.2" r="8.2" fill="#ed6825"/>
<circle cx="1237.0" cy="156.2" r="8.2" fill="#68166e"/>
<circle cx="1212.0" cy="261.5" r="8.2" fill="#570f6d"/>
<circle cx="1189.3" cy="157.0" r="8.2" fill="#9e2963"/>
<circle cx="481.0" cy="118.0" r="8.2" fill="#f2741c"/>
<circle cx="1179.2" cy="374.0" r="8.2" fill="#530e6d"/>
<circle cx="1484.0" cy="305.0" r="8.2" fill="#952666"/>
<circle cx="510.0" cy="308.0" r="8.2" fill="#fbb51a"/>
<circle cx="1171.4" cy="275.4" r="8.2" fill="#550f6d"/>
<circle cx="1284.1" cy="118.4" r="8.2" fill="#a12b61"/>
<circle cx="1076.5" cy="634.3" r="8.2" fill="#c53d4d"/>
<circle cx="1378.9" cy="122.6" r="8.2" fill="#9c2963"/>
<circle cx="1100.7" cy="631.9" r="8.2" fill="#e55b30"/>
<circle cx="985.5" cy="681.8" r="8.2" fill="#ea6428"/>
<circle cx="1285.2" cy="138.1" r="8.2" fill="#982765"/>
<circle cx="1126.0" cy="882.2" r="8.2" fill="#ab2e5d"/>
<circle cx="1164.2" cy="122.8" r="8.2" fill="#b43358"/>
<circle cx="1140.0" cy="688.7" r="8.2" fill="#ae305b"/>
<circle cx="1316.1" cy="313.3" r="8.2" fill="#500d6c"/>
<circle cx="1317.3" cy="129.4" r="8.2" fill="#992864"/>
<circle cx="1156.0" cy="511.2" r="8.2" fill="#5d126e"/>
<circle cx="671.0" cy="304.0" r="8.2" fill="#fbb51a"/>
<circle cx="1213.5" cy="67.1" r="8.2" fill="#70196e"/>
<circle cx="1043.3" cy="498.0" r="8.2" fill="#58106d"/>
<circle cx="1025.5" cy="497.0" r="8.2" fill="#520e6c"/>
<circle cx="1204.4" cy="70.3" r="8.2" fill="#9c2963"/>
<circle cx="1148.9" cy="712.0" r="8.2" fill="#b1315a"/>
<circle cx="1182.3" cy="464.4" r="8.2" fill="#520e6c"/>
<circle cx="468.0" cy="120.0" r="8.2" fill="#e8612b"/>
<circle cx="828.0" cy="308.0" r="8.2" fill="#fbb51a"/>
<circle cx="1285.2" cy="147.3" r="8.2" fill="#992864"/>
<circle cx="1133.2" cy="858.2" r="8.2" fill="#a62c5f"/>
<circle cx="1124.4" cy="1046.1" r="8.2" fill="#58106d"/>
<circle cx="1227.7" cy="269.8" r="8.2" fill="#992864"/>
<circle cx="1124.4" cy="654.1" r="8.2" fill="#b43358"/>
<circle cx="750.0" cy="127.0" r="8.2" fill="#e45a31"/>
<circle cx="1131.9" cy="478.4" r="8.2" fill="#550f6d"/>
<circle cx="1258.9" cy="288.5" r="8.2" fill="#a32b61"/>
<circle cx="1166.0" cy="701.4" r="8.2" fill="#6a176e"/>
<circle cx="1085.4" cy="312.4" r="8.2" fill="#e8612b"/>
<circle cx="887.5" cy="668.9" r="8.2" fill="#e65e2d"/>
<circle cx="501.6" cy="308.0" r="8.2" fill="#fbb91e"/>
<circle cx="1085.9" cy="478.8" r="8.2" fill="#550f6d"/>
<circle cx="1165.4" cy="484.4" r="8.2" fill="#5b116e"/>
<circle cx="1107.3" cy="663.5" r="8.2" fill="#cc4148"/>
<circle cx="1246.1" cy="502.0" r="8.2" fill="#4d0c6b"/>
<circle cx="1139.0" cy="835.1" r="8.2" fill="#cf4446"/>
<circle cx="1244.3" cy="123.4" r="8.2" fill="#bf3951"/>
<circle cx="1372.9" cy="118.8" r="8.2" fill="#9c2963"/>
<circle cx="1330.0" cy="668.7" r="8.2" fill="#8d2369"/>
<circle cx="1025.7" cy="478.2" r="8.2" fill="#530e6d"/>
<circle cx="1123.2" cy="663.0" r="8.2" fill="#b73456"/>
<circle cx="1180.4" cy="316.3" r="8.2" fill="#500d6c"/>
<circle cx="1157.9" cy="478.2" r="8.2" fill="#500d6c"/>
<circle cx="1139.6" cy="1029.1" r="8.2" fill="#550f6d"/>
<circle cx="1211.3" cy="345.2" r="8.2" fill="#58106d"/>
<circle cx="893.0" cy="312.0" r="8.2" fill="#eb6527"/>
<circle cx="1099.0" cy="118.0" r="8.2" fill="#d54940"/>
<circle cx="1195.7" cy="260.6" r="8.2" fill="#9e2963"/>
<circle cx="1196.4" cy="132.1" r="8.2" fill="#b73456"/>
<circle cx="997.9" cy="482.8" r="8.2" fill="#550f6d"/>
<circle cx="1430.0" cy="128.0" r="8.2" fill="#88216a"/>
<circle cx="739.0" cy="123.0" r="8.2" fill="#c93f4a"/>
<circle cx="1259.1" cy="298.1" r="8.2" fill="#9c2963"/>
<circle cx="1172.5" cy="156.4" r="8.2" fill="#d24742"/>
<circle cx="1124.7" cy="667.7" r="8.2" fill="#6e186e"/>
<circle cx="1146.6" cy="847.4" r="8.2" fill="#e75f2c"/>
<circle cx="1052.8" cy="659.3" r="8.2" fill="#f7850e"/>
<circle cx="1395.6" cy="133.1" r="8.2" fill="#66156e"/>
<circle cx="1123.7" cy="999.3" r="8.2" fill="#520e6c"/>
<circle cx="1156.2" cy="698.1" r="8.2" fill="#a32b61"/>
<circle cx="986.4" cy="687.9" r="8.2" fill="#cf4446"/>
<circle cx="1221.3" cy="498.0" r="8.2" fill="#4d0c6b"/>
<circle cx="1116.5" cy="125.0" r="8.2" fill="#d54940"/>
<circle cx="1181.4" cy="634.6" r="8.2" fill="#7b1d6c"/>
<circle cx="1182.9" cy="511.8" r="8.2" fill="#5d126e"/>
<circle cx="1180.6" cy="644.0" r="8.2" fill="#b73456"/>
<circle cx="1188.2" cy="340.5" r="8.2" fill="#5a116d"/>
<circle cx="1149.9" cy="625.8" r="8.2" fill="#af315b"/>
<circle cx="1471.0" cy="310.0" r="8.2" fill="#a62c5f"/>
<circle cx="1060.9" cy="488.1" r="8.2" fill="#58106d"/>
<circle cx="1187.8" cy="119.7" r="8.2" fill="#6a176e"/>
<circle cx="1119.8" cy="886.8" r="8.2" fill="#d54940"/>
<circle cx="1274.8" cy="308.8" r="8.2" fill="#5a116d"/>
<circle cx="1246.1" cy="171.5" r="8.2" fill="#6e186e"/>
<circle cx="1124.9" cy="1010.2" r="8.2" fill="#520e6c"/>
<circle cx="1018.0" cy="672.7" r="8.2" fill="#e8612b"/>
<circle cx="1197.5" cy="674.1" r="8.2" fill="#7e1e6c"/>
<circle cx="1095.3" cy="484.6" r="8.2" fill="#58106d"/>
<circle cx="1196.2" cy="318.6" r="8.2" fill="#9b2864"/>
<circle cx="1037.3" cy="687.1" r="8.2" fill="#e75f2c"/>
<circle cx="470.0" cy="139.0" r="8.2" fill="#ed6825"/>
<circle cx="1236.0" cy="302.8" r="8.2" fill="#9c2963"/>
<circle cx="1112.8" cy="862.2" r="8.2" fill="#d64a3f"/>
<circle cx="1206.8" cy="527.0" r="8.2" fill="#4f0d6c"/>
<circle cx="1126.6" cy="804.9" r="8.2" fill="#ae305b"/>
<circle cx="1182.0" cy="96.4" r="8.2" fill="#a12b61"/>
<circle cx="1324.5" cy="307.0" r="8.2" fill="#530e6d"/>
<circle cx="1021.0" cy="659.5" r="8.2" fill="#cb4049"/>
<circle cx="1118.1" cy="810.6" r="8.2" fill="#a72d5f"/>
<circle cx="1276.7" cy="113.5" r="8.2" fill="#962666"/>
<circle cx="1026.0" cy="125.0" r="8.2" fill="#de5337"/>
<circle cx="1119.4" cy="791.7" r="8.2" fill="#d04544"/>
<circle cx="1092.8" cy="731.3" r="8.2" fill="#dc5039"/>
<circle cx="1229.0" cy="464.8" r="8.2" fill="#500d6c"/>
<circle cx="1083.9" cy="726.7" r="8.2" fill="#b53357"/>
<circle cx="1245.6" cy="151.1" r="8.2" fill="#63146e"/>
<circle cx="1189.1" cy="460.9" r="8.2" fill="#500d6c"/>
<circle cx="1238.1" cy="165.7" r="8.2" fill="#962666"/>
<circle cx="1083.3" cy="611.9" r="8.2" fill="#cb4049"/>
<circle cx="1252.5" cy="98.8" r="8.2" fill="#a12b61"/>
<circle cx="1148.5" cy="478.2" r="8.2" fill="#530e6d"/>
<circle cx="1123.5" cy="635.6" r="8.2" fill="#e55b30"/>
<circle cx="1141.2" cy="698.2" r="8.2" fill="#811f6b"/>
<circle cx="1091.7" cy="634.5" r="8.2" fill="#ac2f5c"/>
<circle cx="1206.2" cy="99.6" r="8.2" fill="#be3852"/>
<circle cx="1140.2" cy="861.9" r="8.2" fill="#d54940"/>
<circle cx="1189.7" cy="555.9" r="8.2" fill="#500d6c"/>
<circle cx="1212.9" cy="327.5" r="8.2" fill="#5f126e"/>
<circle cx="903.8" cy="1028.0" r="8.2" fill="#f9c32a"/>
<circle cx="1165.6" cy="446.4" r="8.2" fill="#550f6d"/>
<circle cx="723.0" cy="123.0" r="8.2" fill="#c83e4b"/>
<circle cx="970.9" cy="479.0" r="8.2" fill="#570f6d"/>
<circle cx="1205.7" cy="677.6" r="8.2" fill="#952666"/>
<circle cx="1156.5" cy="492.7" r="8.2" fill="#550f6d"/>
<circle cx="1287.2" cy="673.0" r="8.2" fill="#902468"/>
<circle cx="1237.9" cy="186.1" r="8.2" fill="#892269"/>
<circle cx="1140.5" cy="492.4" r="8.2" fill="#500d6c"/>
<circle cx="1084.5" cy="630.0" r="8.2" fill="#cb4049"/>
<circle cx="1076.1" cy="691.4" r="8.2" fill="#cc4148"/>
<circle cx="1213.6" cy="456.2" r="8.2" fill="#550f6d"/>
<circle cx="1190.1" cy="175.4" r="8.2" fill="#a32b61"/>
<circle cx="1236.9" cy="91.6" r="8.2" fill="#a12b61"/>
<circle cx="1064.0" cy="120.0" r="8.2" fill="#c93f4a"/>
<circle cx="710.0" cy="134.0" r="8.2" fill="#c83e4b"/>
<circle cx="1071.1" cy="479.9" r="8.2" fill="#4d0c6b"/>
<circle cx="1171.0" cy="368.7" r="8.2" fill="#5b116e"/>
<circle cx="1156.3" cy="284.5" r="8.2" fill="#5a116d"/>
<circle cx="1221.0" cy="516.4" r="8.2" fill="#5b116e"/>
<circle cx="1126.7" cy="824.4" r="8.2" fill="#ae305b"/>
<circle cx="1156.4" cy="108.9" r="8.2" fill="#bb3754"/>
<circle cx="1008.1" cy="489.0" r="8.2" fill="#5a116d"/>
<circle cx="596.0" cy="131.0" r="8.2" fill="#e35832"/>
<circle cx="1092.3" cy="736.2" r="8.2" fill="#b1315a"/>
<circle cx="1131.1" cy="1033.6" r="8.2" fill="#5a116d"/>
<circle cx="1196.3" cy="86.8" r="8.2" fill="#9b2864"/>
<circle cx="1181.7" cy="427.2" r="8.2" fill="#58106d"/>
<circle cx="1197.8" cy="550.2" r="8.2" fill="#5b116e"/>
<circle cx="1075.4" cy="720.0" r="8.2" fill="#e35832"/>
<circle cx="1109.0" cy="1018.0" r="8.2" fill="#fabd23"/>
<circle cx="1368.0" cy="312.0" r="8.2" fill="#ab2e5d"/>
<circle cx="1078.8" cy="465.4" r="8.2" fill="#570f6d"/>
<circle cx="1194.9" cy="261.4" r="8.2" fill="#9b2864"/>
<circle cx="1198.6" cy="454.5" r="8.2" fill="#5d126e"/>
<circle cx="1315.0" cy="668.7" r="8.2" fill="#8e2468"/>
<circle cx="1190.0" cy="71.3" r="8.2" fill="#bf3951"/>
<circle cx="1341.4" cy="132.1" r="8.2" fill="#a02a62"/>
<line x1="226" y1="128.5" x2="237" y2="128.5" stroke="#333" stroke-width="3"/>
<text x="219" y="136.0" text-anchor="end" font-size="18.7" fill="#4d4d4d">DL_Radiomics_Model</text>
<line x1="226" y1="308" x2="237" y2="308" stroke="#333" stroke-width="3"/>
<text x="219" y="315.5" text-anchor="end" font-size="18.7" fill="#4d4d4d">O_RADS</text>
<line x1="226" y1="488.3" x2="237" y2="488.3" stroke="#333" stroke-width="3"/>
<text x="219" y="495.8" text-anchor="end" font-size="18.7" fill="#4d4d4d">CA125</text>
<line x1="226" y1="668.7" x2="237" y2="668.7" stroke="#333" stroke-width="3"/>
<text x="219" y="676.2" text-anchor="end" font-size="18.7" fill="#4d4d4d">Age</text>
<line x1="226" y1="848.3" x2="237" y2="848.3" stroke="#333" stroke-width="3"/>
<text x="219" y="855.8" text-anchor="end" font-size="18.7" fill="#4d4d4d">Lesion_diameter</text>
<line x1="226" y1="1028" x2="237" y2="1028" stroke="#333" stroke-width="3"/>
<text x="219" y="1035.5" text-anchor="end" font-size="18.7" fill="#4d4d4d">Menopausal_status</text>
<line x1="503.7" y1="1136" x2="503.7" y2="1147" stroke="#333" stroke-width="3"/>
<text x="504.7" y="1169" text-anchor="middle" font-size="18" fill="#4d4d4d">-0.50</text>
<line x1="814" y1="1136" x2="814" y2="1147" stroke="#333" stroke-width="3"/>
<text x="815" y="1169" text-anchor="middle" font-size="18" fill="#4d4d4d">-0.25</text>
<line x1="1125.5" y1="1136" x2="1125.5" y2="1147" stroke="#333" stroke-width="3"/>
<text x="1126.5" y="1169" text-anchor="middle" font-size="18" fill="#4d4d4d">0.00</text>
<line x1="1437" y1="1136" x2="1437" y2="1147" stroke="#333" stroke-width="3"/>
<text x="1438" y="1169" text-anchor="middle" font-size="18" fill="#4d4d4d">0.25</text>
<text x="902.5" y="1197.5" text-anchor="middle" font-size="22.2" fill="#1a1a1a">SHAP value</text>
<defs><linearGradient id="cbar" x1="0" y1="1" x2="0" y2="0"><stop offset="0.00" stop-color="#570f6d"/><stop offset="0.05" stop-color="#62146e"/><stop offset="0.10" stop-color="#6e186e"/><stop offset="0.15" stop-color="#7a1c6d"/><stop offset="0.20" stop-color="#86216a"/><stop offset="0.25" stop-color="#912567"/><stop offset="0.30" stop-color="#9e2963"/><stop offset="0.35" stop-color="#a92e5e"/><stop offset="0.40" stop-color="#b53357"/><stop offset="0.45" stop-color="#bf3951"/><stop offset="0.50" stop-color="#cb4049"/><stop offset="0.55" stop-color="#d54940"/><stop offset="0.60" stop-color="#dd5238"/><stop offset="0.65" stop-color="#e65c2e"/><stop offset="0.70" stop-color="#ec6726"/><stop offset="0.75" stop-color="#f2741c"/><stop offset="0.80" stop-color="#f68012"/><stop offset="0.85" stop-color="#f98e08"/><stop offset="0.90" stop-color="#fb9b06"/><stop offset="0.95" stop-color="#fbaa0e"/><stop offset="1.00" stop-color="#fbb91e"/></linearGradient></defs>
<rect x="1631" y="350.6" width="22" height="457" fill="url(#cbar)"/>
<text x="1676.5" y="356" font-size="18" fill="#1a1a1a">High</text>
<text x="1677" y="814.5" font-size="18" fill="#1a1a1a">Low</text>
<text x="0" y="0" font-size="22" fill="#1a1a1a" text-anchor="middle" transform="translate(1608,578) rotate(-90)">Feature value</text>
<text x="26.5" y="50" font-size="66" fill="#000">A</text>
<text x="1875.8" y="73.5" font-size="66" fill="#000">B</text>
<line x1="2187.5" y1="273.5" x2="3405" y2="273.5" stroke="#dedede" stroke-width="2.2"/>
<line x1="2187.5" y1="404" x2="3405" y2="404" stroke="#dedede" stroke-width="2.2"/>
<line x1="2187.5" y1="533.3" x2="3405" y2="533.3" stroke="#dedede" stroke-width="2.2"/>
<line x1="2187.5" y1="663.5" x2="3405" y2="663.5" stroke="#dedede" stroke-width="2.2"/>
<line x1="2187.5" y1="792.5" x2="3405" y2="792.5" stroke="#dedede" stroke-width="2.2"/>
<line x1="2187.5" y1="923.4" x2="3405" y2="923.4" stroke="#dedede" stroke-width="2.2"/>
<text x="2163.3" y="281.7" text-anchor="end" font-size="21" fill="#333333">DL_Radiomics_Model = 0.92</text>
<text x="2163.3" y="412.2" text-anchor="end" font-size="21" fill="#333333">O_RADS = 4</text>
<text x="2163.3" y="541.5" text-anchor="end" font-size="21" fill="#333333">CA125 = 3699</text>
<text x="2163.3" y="671.7" text-anchor="end" font-size="21" fill="#333333">Age = 55</text>
<text x="2163.3" y="800.7" text-anchor="end" font-size="21" fill="#333333">Menopausal_status = Postmenopause</text>
<text x="2163.3" y="931.6" text-anchor="end" font-size="21" fill="#333333">Lesion_diameter = 50</text>
<path d="M2597.2,237.2 L3256.7,237.2 L3282,275.54999999999995 L3256.7,313.9 L2597.2,313.9 Z" fill="#f9d23c" stroke="#1f1f1f" stroke-width="2" stroke-linejoin="miter"/>
<path d="M2484.7,367.8 L2570.5,367.8 L2596.4,405.25 L2570.5,442.7 L2484.7,442.7 Z" fill="#f9d23c" stroke="#1f1f1f" stroke-width="2" stroke-linejoin="miter"/>
<path d="M2382,496.7 L2459.4,496.7 L2484,535.05 L2459.4,573.4 L2382,573.4 Z" fill="#f9d23c" stroke="#1f1f1f" stroke-width="2" stroke-linejoin="miter"/>
<path d="M2286.4,627.4 L2357.3,627.4 L2382,664.8 L2357.3,702.2 L2286.4,702.2 Z" fill="#f9d23c" stroke="#1f1f1f" stroke-width="2" stroke-linejoin="miter"/>
<path d="M2252,756.6 L2260,756.6 L2286,794.9000000000001 L2260,833.2 L2252,833.2 Z" fill="#f9d23c" stroke="#1f1f1f" stroke-width="2" stroke-linejoin="miter"/>
<path d="M2240.6,886.8 L2252.6,923.55 L2240.6,960.3 Z" fill="#f9d23c" stroke="#1f1f1f" stroke-width="2" stroke-linejoin="miter"/>
<line x1="3282" y1="199" x2="3282" y2="273.5" stroke="#111" stroke-width="2.2" stroke-dasharray="8,6"/>
<line x1="2597.2" y1="313.9" x2="2597.2" y2="404" stroke="#111" stroke-width="2.2" stroke-dasharray="8,6"/>
<line x1="2484.7" y1="442.7" x2="2484.7" y2="533.3" stroke="#111" stroke-width="2.2" stroke-dasharray="8,6"/>
<line x1="2382" y1="573.4" x2="2382" y2="663.5" stroke="#111" stroke-width="2.2" stroke-dasharray="8,6"/>
<line x1="2286.4" y1="702.2" x2="2286.4" y2="792.5" stroke="#111" stroke-width="2.2" stroke-dasharray="8,6"/>
<line x1="2252" y1="833.2" x2="2252" y2="923.4" stroke="#111" stroke-width="2.2" stroke-dasharray="8,6"/>
<line x1="2240.6" y1="960.3" x2="2240.6" y2="997.5" stroke="#111" stroke-width="2.2" stroke-dasharray="8,6"/>
<text x="2939" y="285" text-anchor="middle" font-size="27.5" fill="#111">+0.512</text>
<text x="2540.3" y="413" text-anchor="middle" font-size="23.5" fill="#111">+0.0833</text>
<text x="2433.4" y="542.2" text-anchor="middle" font-size="21" fill="#111">+0.0766</text>
<text x="2334.3" y="671" text-anchor="middle" font-size="18.5" fill="#111">+0.0723</text>
<text x="3298" y="183.5" text-anchor="middle" font-size="19" fill="#111">f(x)=0.964</text>
<text x="2240" y="1028.3" text-anchor="middle" font-size="20.2" fill="#111">E[f(x)]=0.221</text>
<line x1="2187" y1="1092" x2="3406" y2="1092" stroke="#000" stroke-width="3.2"/>
<line x1="2210.6" y1="1092" x2="2210.6" y2="1104.5" stroke="#000" stroke-width="3"/>
<text x="2210.6" y="1131.4" text-anchor="middle" font-size="20.5" fill="#333">0.2</text>
<line x1="2478.7" y1="1092" x2="2478.7" y2="1104.5" stroke="#000" stroke-width="3"/>
<text x="2478.7" y="1131.4" text-anchor="middle" font-size="20.5" fill="#333">0.4</text>
<line x1="2745" y1="1092" x2="2745" y2="1104.5" stroke="#000" stroke-width="3"/>
<text x="2745" y="1131.4" text-anchor="middle" font-size="20.5" fill="#333">0.6</text>
<line x1="3013.2" y1="1092" x2="3013.2" y2="1104.5" stroke="#000" stroke-width="3"/>
<text x="3013.2" y="1131.4" text-anchor="middle" font-size="20.5" fill="#333">0.8</text>
<line x1="3281.2" y1="1092" x2="3281.2" y2="1104.5" stroke="#000" stroke-width="3"/>
<text x="3281.2" y="1131.4" text-anchor="middle" font-size="20.5" fill="#333">1.0</text>
<text x="2731" y="1167" font-size="25" fill="#000">SHAP value</text>
<text x="1.8" y="1305.3" font-size="66" fill="#000">C</text>
<text x="1186" y="1319.3" font-size="66" fill="#000">D</text>
<text x="2356.3" y="1315.3" font-size="66" fill="#000">E</text>
<defs>
<clipPath id="clipC"><rect x="11.5" y="24.7" width="2001.5" height="1470"/></clipPath>
<filter id="bC4" x="-20%" y="-20%" width="140%" height="140%"><feGaussianBlur stdDeviation="4"/></filter>
<filter id="bC8" x="-20%" y="-20%" width="140%" height="140%"><feGaussianBlur stdDeviation="8"/></filter>
<filter id="bC20" x="-30%" y="-30%" width="160%" height="160%"><feGaussianBlur stdDeviation="20"/></filter>
<filter id="bC50" filterUnits="userSpaceOnUse" x="-300" y="-300" width="2700" height="2200"><feGaussianBlur stdDeviation="50"/></filter>
<filter id="texC" filterUnits="userSpaceOnUse" x="0" y="0" width="2100" height="1600">
  <feTurbulence type="fractalNoise" baseFrequency="0.015 0.05" numOctaves="3" seed="5"/>
  <feColorMatrix type="matrix" values="3 0 0 0 -1  3 0 0 0 -1  3 0 0 0 -1  0 0 0 0 1"/>
</filter>
</defs>
<g transform="translate(0,1340) scale(0.56680)"><g clip-path="url(#clipC)">
<g>
<rect x="0" y="0" width="2100" height="1600" fill="#7e7e7e"/>
<g filter="url(#bC50)">
<path d="M0,250 L650,120 L650,520 L0,560 Z" fill="#989898"/>
<rect x="1700" y="120" width="400" height="800" fill="#747474"/>
<path d="M1650,1000 L2100,850 L2100,1600 L1650,1600 Z" fill="#a2a2a2"/>
<path d="M240,320 C170,600 180,950 280,1200 C450,1420 800,1480 1100,1460 C1400,1430 1560,1150 1600,900 C1640,650 1600,400 1570,150" stroke="#b8b8b8" stroke-width="170" fill="none"/>
<path d="M200,1150 C400,1420 900,1560 1300,1500 C1450,1480 1550,1430 1650,1360" stroke="#cccccc" stroke-width="210" fill="none"/>
<ellipse cx="1000" cy="1000" rx="430" ry="260" fill="#727272"/>
<ellipse cx="150" cy="1050" rx="110" ry="170" fill="#6e6e6e" transform="rotate(-20 150 1050)"/>
</g>
<g filter="url(#bC20)">
<path d="M590,150 C700,380 880,450 1050,450 C1230,450 1380,360 1470,150" stroke="#929292" stroke-width="150" fill="none"/>
<path d="M1360,40 C1430,150 1480,260 1490,380 C1495,450 1480,520 1460,600" stroke="#404040" stroke-width="120" fill="none"/>
</g>
<g filter="url(#bC8)">
<path d="M720,200 C830,275 950,298 1040,298 C1130,298 1250,270 1340,155" stroke="#d0d0d0" stroke-width="68" fill="none"/>
<path d="M480,250 C500,240 520,235 540,230" stroke="#d0d0d0" stroke-width="40" fill="none"/>
<path d="M300,600 C280,700 290,800 310,880" stroke="#bdbdbd" stroke-width="30" fill="none"/>
</g>
<g filter="url(#bC8)" fill="#050505">
<path d="M300,700 L310,560 L350,450 L420,360 L520,290 L610,280 L650,320 L670,420 L700,520 L760,600 L830,690 L870,740 L820,790 L740,780 L700,800 L620,840 L560,870 L500,850 L440,800 L380,730 Z"/>
<path d="M650,300 L760,330 L840,390 L860,470 L820,500 L770,560 L700,520 L660,420 Z" fill="#111"/>
<path d="M760,515 C800,525 840,535 880,535 C950,540 1020,538 1110,520 L1110,640 L1040,690 L960,710 L880,700 L820,650 Z" fill="#0c0c0c"/>
<path d="M290,820 L340,800 L410,850 L430,930 L380,970 L300,950 Z"/>
<ellipse cx="462" cy="1117" rx="125" ry="62" transform="rotate(38 462 1117)"/>
<ellipse cx="490" cy="945" rx="62" ry="38" transform="rotate(30 490 945)" fill="#1e1e1e"/>
<path d="M990,575 C1040,540 1110,520 1150,510 C1250,480 1330,420 1390,370 L1430,390 L1450,470 L1460,560 L1420,680 L1400,740 L1350,790 L1270,800 L1180,780 L1110,740 C1070,710 1040,660 1030,630 Z"/>
<path d="M1440,480 L1490,520 L1500,650 L1480,780 L1430,820 L1410,760 L1440,650 Z"/>
<path d="M1130,820 L1200,800 L1250,850 L1240,920 L1190,930 L1140,880 Z"/>
<path d="M880,1060 L950,1000 L1040,990 L1110,1000 L1140,1040 L1100,1080 L1070,1140 L1060,1220 L1030,1250 L960,1260 L890,1250 L870,1180 L890,1120 Z"/>
<ellipse cx="420" cy="185" rx="35" ry="45"/>
<ellipse cx="500" cy="170" rx="28" ry="42"/>
<ellipse cx="572" cy="178" rx="14" ry="20"/>
<ellipse cx="1210" cy="1000" rx="18" ry="22" fill="#222"/>
</g>
<g filter="url(#bC4)" stroke="#d0d0d0" fill="none" stroke-width="9">
<path d="M630,290 C670,400 690,520 760,600 C800,650 840,700 870,740"/>
<path d="M700,560 C760,640 820,680 880,700"/>
<path d="M610,660 C680,680 760,720 820,760"/>
<path d="M1440,420 C1470,560 1430,700 1350,790 C1300,810 1200,800 1110,760"/>
<path d="M960,1000 C1020,985 1080,990 1130,1000"/>
<path d="M900,1255 C960,1270 1010,1260 1040,1245"/>
<path d="M880,560 C950,600 1000,620 1050,640"/>
<path d="M800,560 C850,600 880,640 900,690"/>
<path d="M290,830 C330,850 380,870 420,900"/>
</g>
<circle cx="1022" cy="-60" r="326" fill="none" stroke="#5a5a5a" stroke-width="22" filter="url(#bC10)"/>
<circle cx="1022" cy="-60" r="318" fill="none" stroke="#3a3a3a" stroke-width="8" filter="url(#bC4)"/>
<circle cx="1022" cy="-60" r="297" fill="none" stroke="#dcdcdc" stroke-width="24" filter="url(#bC4)"/>
<circle cx="1022" cy="-60" r="284" fill="#000"/>
<circle cx="1022" cy="-60" r="251" fill="none" stroke="#c4c4c4" stroke-width="15" filter="url(#bC4)"/>
<circle cx="1022" cy="-60" r="231" fill="#000"/>
</g>
<filter id="sbC" x="-10%" y="-10%" width="120%" height="120%"><feGaussianBlur stdDeviation="3.5"/></filter>
<g style="mix-blend-mode:overlay" opacity="0.65" filter="url(#sbC)" fill="none">
<circle cx="1022" cy="-55" r="320" stroke="#c8c8c8" stroke-width="5.0" stroke-dasharray="104,62,80,31,116,75,83,52,52,15,67,58,32,74,51,32" stroke-dashoffset="21" opacity="1.00"/>
<circle cx="1022" cy="-55" r="331" stroke="#000" stroke-width="9.3" stroke-dasharray="95,17,62,52,38,86,67,26,119,24,131,48,88,40,80,29" stroke-dashoffset="18" opacity="0.93"/>
<circle cx="1022" cy="-55" r="340" stroke="#c8c8c8" stroke-width="8.7" stroke-dasharray="48,87,127,71,112,58,108,24,79,77,48,84,127,45,67,48" stroke-dashoffset="192" opacity="1.00"/>
<circle cx="1022" cy="-55" r="349" stroke="#000" stroke-width="4.2" stroke-dasharray="35,68,139,52,81,56,111,31,95,56,96,28,44,41,131,40" stroke-dashoffset="298" opacity="0.65"/>
<circle cx="1022" cy="-55" r="357" stroke="#c8c8c8" stroke-width="4.4" stroke-dasharray="118,73,68,66,102,82,135,45,138,87,92,81,81,43,53,80" stroke-dashoffset="81" opacity="0.53"/>
<circle cx="1022" cy="-55" r="369" stroke="#000" stroke-width="8.6" stroke-dasharray="80,77,30,34,58,46,44,20,63,82,138,70,80,33,135,54" stroke-dashoffset="364" opacity="0.51"/>
<circle cx="1022" cy="-55" r="377" stroke="#c8c8c8" stroke-width="9.0" stroke-dasharray="116,81,94,46,91,78,60,55,56,72,26,66,134,16,93,63" stroke-dashoffset="425" opacity="0.79"/>
<circle cx="1022" cy="-55" r="385" stroke="#000" stroke-width="6.4" stroke-dasharray="135,82,40,22,35,16,76,25,124,64,39,55,62,52,50,27" stroke-dashoffset="91" opacity="0.69"/>
<circle cx="1022" cy="-55" r="397" stroke="#c8c8c8" stroke-width="7.3" stroke-dasharray="30,68,125,73,115,15,78,19,112,28,106,33,105,38,29,44" stroke-dashoffset="154" opacity="0.95"/>
<circle cx="1022" cy="-55" r="405" stroke="#000" stroke-width="7.0" stroke-dasharray="88,86,36,60,83,70,136,38,105,54,89,19,118,88,65,38" stroke-dashoffset="496" opacity="0.55"/>
<circle cx="1022" cy="-55" r="413" stroke="#c8c8c8" stroke-width="4.4" stroke-dasharray="118,71,76,61,27,63,75,53,69,45,50,18,74,33,105,76" stroke-dashoffset="361" opacity="0.73"/>
<circle cx="1022" cy="-55" r="421" stroke="#000" stroke-width="6.3" stroke-dasharray="80,62,135,21,80,51,107,81,114,62,112,65,123,67,103,33" stroke-dashoffset="458" opacity="0.69"/>
<circle cx="1022" cy="-55" r="432" stroke="#c8c8c8" stroke-width="8.9" stroke-dasharray="135,89,25,38,60,44,41,56,34,37,133,70,78,23,134,67" stroke-dashoffset="102" opacity="0.67"/>
<circle cx="1022" cy="-55" r="443" stroke="#000" stroke-width="8.1" stroke-dasharray="54,86,62,34,122,26,103,29,93,35,68,85,78,47,95,36" stroke-dashoffset="87" opacity="0.69"/>
<circle cx="1022" cy="-55" r="452" stroke="#c8c8c8" stroke-width="5.1" stroke-dasharray="135,17,118,85,106,16,82,17,94,67,52,15,87,22,60,49" stroke-dashoffset="447" opacity="0.69"/>
<circle cx="1022" cy="-55" r="459" stroke="#000" stroke-width="8.8" stroke-dasharray="119,54,30,29,71,56,50,75,122,84,126,16,91,21,128,71" stroke-dashoffset="379" opacity="0.59"/>
<circle cx="1022" cy="-55" r="467" stroke="#c8c8c8" stroke-width="8.9" stroke-dasharray="94,61,79,75,63,35,65,37,97,81,33,20,83,65,46,35" stroke-dashoffset="29" opacity="0.52"/>
<circle cx="1022" cy="-55" r="477" stroke="#000" stroke-width="8.1" stroke-dasharray="100,26,36,84,86,45,104,69,85,20,120,31,29,41,86,62" stroke-dashoffset="87" opacity="0.85"/>
<circle cx="1022" cy="-55" r="487" stroke="#c8c8c8" stroke-width="5.0" stroke-dasharray="122,75,129,65,49,73,128,54,129,87,69,85,132,74,26,41" stroke-dashoffset="306" opacity="0.80"/>
<circle cx="1022" cy="-55" r="498" stroke="#000" stroke-width="7.9" stroke-dasharray="43,84,86,81,48,89,88,73,110,81,66,21,71,28,87,76" stroke-dashoffset="181" opacity="0.57"/>
<circle cx="1022" cy="-55" r="505" stroke="#c8c8c8" stroke-width="6.5" stroke-dasharray="91,16,101,30,37,84,85,82,84,24,52,46,98,72,111,63" stroke-dashoffset="126" opacity="0.72"/>
<circle cx="1022" cy="-55" r="515" stroke="#000" stroke-width="6.9" stroke-dasharray="55,55,77,17,119,58,117,70,109,89,68,44,25,64,91,58" stroke-dashoffset="498" opacity="0.60"/>
<circle cx="1022" cy="-55" r="523" stroke="#c8c8c8" stroke-width="8.4" stroke-dasharray="118,51,31,42,120,52,78,44,97,59,104,79,111,43,53,73" stroke-dashoffset="396" opacity="0.96"/>
<circle cx="1022" cy="-55" r="531" stroke="#000" stroke-width="9.1" stroke-dasharray="127,20,60,62,41,77,55,66,59,31,48,52,107,31,103,40" stroke-dashoffset="324" opacity="0.68"/>
<circle cx="1022" cy="-55" r="539" stroke="#c8c8c8" stroke-width="4.8" stroke-dasharray="31,67,72,24,126,64,27,69,93,48,82,87,67,62,98,42" stroke-dashoffset="173" opacity="0.88"/>
<circle cx="1022" cy="-55" r="550" stroke="#000" stroke-width="6.7" stroke-dasharray="84,31,115,16,98,49,50,59,92,21,81,27,116,39,62,31" stroke-dashoffset="24" opacity="0.59"/>
<circle cx="1022" cy="-55" r="558" stroke="#c8c8c8" stroke-width="7.7" stroke-dasharray="122,31,37,55,38,45,112,30,105,55,34,33,93,22,48,58" stroke-dashoffset="409" opacity="0.76"/>
<circle cx="1022" cy="-55" r="569" stroke="#000" stroke-width="4.1" stroke-dasharray="59,38,130,41,115,17,82,81,113,58,45,84,34,87,114,68" stroke-dashoffset="265" opacity="0.58"/>
<circle cx="1022" cy="-55" r="578" stroke="#c8c8c8" stroke-width="8.0" stroke-dasharray="100,44,117,19,58,21,62,74,111,26,60,23,101,48,51,43" stroke-dashoffset="432" opacity="0.71"/>
<circle cx="1022" cy="-55" r="589" stroke="#000" stroke-width="7.8" stroke-dasharray="79,56,66,29,81,37,62,28,130,46,48,17,49,80,63,65" stroke-dashoffset="115" opacity="0.83"/>
<circle cx="1022" cy="-55" r="599" stroke="#c8c8c8" stroke-width="8.4" stroke-dasharray="85,43,57,59,120,66,80,39,127,78,41,65,113,65,135,80" stroke-dashoffset="123" opacity="1.00"/>
<circle cx="1022" cy="-55" r="608" stroke="#000" stroke-width="6.3" stroke-dasharray="137,27,70,61,56,35,116,60,110,74,125,82,119,88,82,67" stroke-dashoffset="256" opacity="0.98"/>
<circle cx="1022" cy="-55" r="619" stroke="#c8c8c8" stroke-width="6.6" stroke-dasharray="101,37,39,43,40,15,35,49,112,18,98,23,83,37,76,68" stroke-dashoffset="206" opacity="0.70"/>
<circle cx="1022" cy="-55" r="630" stroke="#000" stroke-width="4.7" stroke-dasharray="65,67,121,88,54,61,60,67,122,25,64,85,65,62,119,35" stroke-dashoffset="391" opacity="0.50"/>
<circle cx="1022" cy="-55" r="639" stroke="#c8c8c8" stroke-width="5.0" stroke-dasharray="64,30,27,75,44,57,88,78,122,61,44,72,36,84,60,33" stroke-dashoffset="108" opacity="0.70"/>
<circle cx="1022" cy="-55" r="651" stroke="#000" stroke-width="9.1" stroke-dasharray="110,69,53,39,59,47,125,89,34,87,130,49,104,73,46,61" stroke-dashoffset="490" opacity="0.94"/>
<circle cx="1022" cy="-55" r="663" stroke="#c8c8c8" stroke-width="4.5" stroke-dasharray="107,51,129,27,88,24,117,69,28,38,41,62,97,19,134,87" stroke-dashoffset="220" opacity="0.79"/>
<circle cx="1022" cy="-55" r="673" stroke="#000" stroke-width="7.6" stroke-dasharray="70,48,111,28,59,72,50,20,129,26,72,38,55,41,86,23" stroke-dashoffset="266" opacity="0.53"/>
<circle cx="1022" cy="-55" r="680" stroke="#c8c8c8" stroke-width="5.2" stroke-dasharray="52,40,58,77,100,50,113,66,61,61,110,55,111,62,131,34" stroke-dashoffset="335" opacity="0.99"/>
<circle cx="1022" cy="-55" r="690" stroke="#000" stroke-width="9.4" stroke-dasharray="35,69,55,71,73,55,53,34,124,63,97,23,58,87,48,55" stroke-dashoffset="348" opacity="0.76"/>
<circle cx="1022" cy="-55" r="701" stroke="#c8c8c8" stroke-width="9.8" stroke-dasharray="114,32,74,46,103,65,55,66,74,16,58,43,47,65,139,84" stroke-dashoffset="314" opacity="0.93"/>
<circle cx="1022" cy="-55" r="711" stroke="#000" stroke-width="7.5" stroke-dasharray="127,19,66,43,64,47,31,65,135,32,46,40,116,31,113,27" stroke-dashoffset="297" opacity="0.86"/>
<circle cx="1022" cy="-55" r="722" stroke="#c8c8c8" stroke-width="4.5" stroke-dasharray="135,78,80,79,94,27,70,76,78,18,44,28,92,63,76,45" stroke-dashoffset="481" opacity="0.67"/>
<circle cx="1022" cy="-55" r="733" stroke="#000" stroke-width="5.2" stroke-dasharray="84,28,38,40,38,43,100,56,116,50,34,69,71,71,137,54" stroke-dashoffset="125" opacity="0.68"/>
<circle cx="1022" cy="-55" r="743" stroke="#c8c8c8" stroke-width="5.9" stroke-dasharray="36,44,100,76,112,81,117,45,99,19,116,68,55,50,56,74" stroke-dashoffset="213" opacity="0.89"/>
<circle cx="1022" cy="-55" r="755" stroke="#000" stroke-width="8.7" stroke-dasharray="68,40,133,82,46,42,115,71,57,48,135,21,56,64,129,86" stroke-dashoffset="234" opacity="0.90"/>
<circle cx="1022" cy="-55" r="768" stroke="#c8c8c8" stroke-width="6.0" stroke-dasharray="51,34,114,25,87,84,48,62,85,87,84,51,128,71,41,75" stroke-dashoffset="199" opacity="0.98"/>
<circle cx="1022" cy="-55" r="781" stroke="#000" stroke-width="7.0" stroke-dasharray="72,32,56,30,44,69,30,59,93,70,90,84,57,21,91,35" stroke-dashoffset="494" opacity="0.96"/>
<circle cx="1022" cy="-55" r="792" stroke="#c8c8c8" stroke-width="9.0" stroke-dasharray="53,51,69,40,67,50,100,16,87,24,136,56,92,38,106,68" stroke-dashoffset="455" opacity="0.79"/>
<circle cx="1022" cy="-55" r="800" stroke="#000" stroke-width="7.8" stroke-dasharray="30,70,60,68,40,59,44,17,55,78,69,54,115,88,54,67" stroke-dashoffset="390" opacity="0.90"/>
<circle cx="1022" cy="-55" r="810" stroke="#c8c8c8" stroke-width="6.8" stroke-dasharray="115,33,80,62,122,33,101,31,43,50,99,63,134,27,85,51" stroke-dashoffset="129" opacity="0.96"/>
<circle cx="1022" cy="-55" r="817" stroke="#000" stroke-width="5.6" stroke-dasharray="29,63,100,31,131,62,48,85,123,38,124,24,65,46,134,37" stroke-dashoffset="192" opacity="0.60"/>
<circle cx="1022" cy="-55" r="829" stroke="#c8c8c8" stroke-width="5.1" stroke-dasharray="122,40,88,80,55,54,98,58,71,63,61,26,26,60,91,74" stroke-dashoffset="78" opacity="0.84"/>
<circle cx="1022" cy="-55" r="839" stroke="#000" stroke-width="7.2" stroke-dasharray="120,53,75,63,42,80,84,18,80,85,137,46,55,85,57,16" stroke-dashoffset="123" opacity="0.74"/>
<circle cx="1022" cy="-55" r="850" stroke="#c8c8c8" stroke-width="4.4" stroke-dasharray="63,69,64,28,106,47,104,51,118,53,137,75,107,51,95,43" stroke-dashoffset="38" opacity="0.94"/>
<circle cx="1022" cy="-55" r="862" stroke="#000" stroke-width="8.6" stroke-dasharray="123,56,139,50,137,21,68,57,119,54,115,43,102,74,94,16" stroke-dashoffset="328" opacity="0.50"/>
<circle cx="1022" cy="-55" r="871" stroke="#c8c8c8" stroke-width="4.7" stroke-dasharray="112,27,107,20,48,67,131,20,95,44,96,20,26,20,127,51" stroke-dashoffset="306" opacity="0.57"/>
<circle cx="1022" cy="-55" r="882" stroke="#000" stroke-width="9.4" stroke-dasharray="47,73,122,89,90,63,64,73,60,61,97,89,115,22,45,41" stroke-dashoffset="198" opacity="0.86"/>
<circle cx="1022" cy="-55" r="890" stroke="#c8c8c8" stroke-width="7.4" stroke-dasharray="76,37,98,47,137,24,128,62,77,20,99,75,65,68,86,21" stroke-dashoffset="429" opacity="0.66"/>
<circle cx="1022" cy="-55" r="900" stroke="#000" stroke-width="8.6" stroke-dasharray="125,79,67,78,42,56,74,79,108,64,118,41,76,22,65,29" stroke-dashoffset="365" opacity="0.56"/>
<circle cx="1022" cy="-55" r="913" stroke="#c8c8c8" stroke-width="7.6" stroke-dasharray="76,23,76,57,41,88,66,47,57,42,56,79,33,42,93,50" stroke-dashoffset="162" opacity="0.74"/>
<circle cx="1022" cy="-55" r="920" stroke="#000" stroke-width="5.8" stroke-dasharray="75,72,74,46,100,35,88,29,95,55,100,80,116,89,51,86" stroke-dashoffset="222" opacity="0.68"/>
<circle cx="1022" cy="-55" r="930" stroke="#c8c8c8" stroke-width="9.5" stroke-dasharray="134,75,59,23,48,65,105,19,25,89,63,18,78,22,118,54" stroke-dashoffset="306" opacity="0.96"/>
<circle cx="1022" cy="-55" r="938" stroke="#000" stroke-width="5.3" stroke-dasharray="115,60,75,41,96,85,134,83,137,24,28,77,53,54,78,88" stroke-dashoffset="221" opacity="0.57"/>
<circle cx="1022" cy="-55" r="946" stroke="#c8c8c8" stroke-width="9.4" stroke-dasharray="118,25,135,42,108,57,123,51,28,56,122,45,120,48,66,41" stroke-dashoffset="114" opacity="0.75"/>
<circle cx="1022" cy="-55" r="959" stroke="#000" stroke-width="7.5" stroke-dasharray="113,28,67,58,69,15,124,24,100,88,58,35,63,55,137,25" stroke-dashoffset="122" opacity="0.95"/>
<circle cx="1022" cy="-55" r="967" stroke="#c8c8c8" stroke-width="8.0" stroke-dasharray="107,15,28,71,130,67,78,22,85,23,62,17,84,50,57,31" stroke-dashoffset="33" opacity="0.51"/>
<circle cx="1022" cy="-55" r="975" stroke="#000" stroke-width="9.9" stroke-dasharray="28,68,77,59,60,88,117,45,74,83,42,80,96,57,86,59" stroke-dashoffset="45" opacity="0.62"/>
<circle cx="1022" cy="-55" r="984" stroke="#c8c8c8" stroke-width="5.3" stroke-dasharray="34,68,73,70,70,85,53,53,73,74,40,55,77,61,51,55" stroke-dashoffset="492" opacity="0.55"/>
<circle cx="1022" cy="-55" r="997" stroke="#000" stroke-width="9.8" stroke-dasharray="76,21,82,87,25,71,114,23,94,26,36,54,59,64,85,32" stroke-dashoffset="459" opacity="0.50"/>
<circle cx="1022" cy="-55" r="1009" stroke="#c8c8c8" stroke-width="5.7" stroke-dasharray="128,60,77,31,123,79,135,59,131,82,101,40,94,40,118,56" stroke-dashoffset="433" opacity="0.95"/>
<circle cx="1022" cy="-55" r="1020" stroke="#000" stroke-width="5.2" stroke-dasharray="63,21,63,26,59,74,38,83,130,72,52,36,77,61,131,16" stroke-dashoffset="43" opacity="0.91"/>
<circle cx="1022" cy="-55" r="1027" stroke="#c8c8c8" stroke-width="9.4" stroke-dasharray="46,88,79,60,119,76,72,49,115,34,60,80,126,77,64,40" stroke-dashoffset="52" opacity="0.92"/>
<circle cx="1022" cy="-55" r="1035" stroke="#000" stroke-width="5.1" stroke-dasharray="27,49,139,20,53,35,105,41,45,66,128,27,32,45,132,19" stroke-dashoffset="69" opacity="0.82"/>
<circle cx="1022" cy="-55" r="1046" stroke="#c8c8c8" stroke-width="6.7" stroke-dasharray="30,56,36,20,31,85,36,50,119,30,69,74,89,29,86,89" stroke-dashoffset="409" opacity="0.98"/>
<circle cx="1022" cy="-55" r="1053" stroke="#000" stroke-width="4.3" stroke-dasharray="82,15,135,36,88,80,73,72,42,48,108,50,46,79,66,83" stroke-dashoffset="157" opacity="0.91"/>
<circle cx="1022" cy="-55" r="1061" stroke="#c8c8c8" stroke-width="8.0" stroke-dasharray="134,62,72,88,136,76,50,21,95,25,31,56,133,35,119,87" stroke-dashoffset="470" opacity="0.54"/>
<circle cx="1022" cy="-55" r="1069" stroke="#000" stroke-width="9.7" stroke-dasharray="135,27,45,68,36,22,43,58,67,78,42,82,115,43,94,65" stroke-dashoffset="61" opacity="0.97"/>
<circle cx="1022" cy="-55" r="1079" stroke="#c8c8c8" stroke-width="7.1" stroke-dasharray="123,16,55,17,109,31,107,68,139,28,72,74,76,28,102,74" stroke-dashoffset="223" opacity="0.69"/>
<circle cx="1022" cy="-55" r="1086" stroke="#000" stroke-width="6.4" stroke-dasharray="121,41,134,41,79,73,129,78,73,48,39,55,119,29,61,19" stroke-dashoffset="226" opacity="0.74"/>
<circle cx="1022" cy="-55" r="1099" stroke="#c8c8c8" stroke-width="8.0" stroke-dasharray="130,30,75,67,33,57,96,17,48,73,43,62,73,44,125,44" stroke-dashoffset="439" opacity="0.91"/>
<circle cx="1022" cy="-55" r="1110" stroke="#000" stroke-width="4.6" stroke-dasharray="63,86,55,59,48,69,104,81,93,23,116,58,133,53,62,48" stroke-dashoffset="280" opacity="0.85"/>
<circle cx="1022" cy="-55" r="1121" stroke="#c8c8c8" stroke-width="9.2" stroke-dasharray="86,30,123,68,43,49,122,58,39,79,109,29,104,79,91,86" stroke-dashoffset="268" opacity="0.51"/>
<circle cx="1022" cy="-55" r="1131" stroke="#000" stroke-width="9.0" stroke-dasharray="130,71,133,75,79,19,44,18,131,75,129,73,77,57,27,27" stroke-dashoffset="200" opacity="0.53"/>
<circle cx="1022" cy="-55" r="1140" stroke="#c8c8c8" stroke-width="7.1" stroke-dasharray="43,28,34,49,121,48,105,68,117,74,82,18,44,35,63,59" stroke-dashoffset="248" opacity="0.64"/>
<circle cx="1022" cy="-55" r="1148" stroke="#000" stroke-width="8.4" stroke-dasharray="139,67,41,67,116,55,97,79,80,68,44,77,90,29,96,76" stroke-dashoffset="222" opacity="0.66"/>
<circle cx="1022" cy="-55" r="1160" stroke="#c8c8c8" stroke-width="10.0" stroke-dasharray="135,38,80,43,41,55,58,50,120,56,138,30,46,19,106,36" stroke-dashoffset="109" opacity="0.82"/>
<circle cx="1022" cy="-55" r="1173" stroke="#000" stroke-width="8.5" stroke-dasharray="135,84,85,31,112,31,33,43,109,62,72,24,44,60,81,55" stroke-dashoffset="371" opacity="0.79"/>
<circle cx="1022" cy="-55" r="1185" stroke="#c8c8c8" stroke-width="9.5" stroke-dasharray="84,42,82,33,45,69,75,16,70,39,31,16,95,75,121,59" stroke-dashoffset="112" opacity="0.82"/>
<circle cx="1022" cy="-55" r="1193" stroke="#000" stroke-width="5.4" stroke-dasharray="62,25,37,88,34,87,104,70,37,66,48,53,77,82,36,15" stroke-dashoffset="292" opacity="0.76"/>
<circle cx="1022" cy="-55" r="1204" stroke="#c8c8c8" stroke-width="4.5" stroke-dasharray="67,68,93,38,25,18,127,35,33,36,49,55,30,55,99,55" stroke-dashoffset="298" opacity="0.62"/>
<circle cx="1022" cy="-55" r="1214" stroke="#000" stroke-width="8.5" stroke-dasharray="57,76,46,50,128,64,56,42,57,71,66,77,104,77,86,36" stroke-dashoffset="343" opacity="0.72"/>
<circle cx="1022" cy="-55" r="1221" stroke="#c8c8c8" stroke-width="6.7" stroke-dasharray="46,20,55,86,101,47,91,44,89,34,123,74,76,56,67,72" stroke-dashoffset="417" opacity="0.96"/>
<circle cx="1022" cy="-55" r="1229" stroke="#000" stroke-width="9.4" stroke-dasharray="50,23,72,63,38,63,136,73,120,26,63,33,67,81,139,34" stroke-dashoffset="280" opacity="0.80"/>
<circle cx="1022" cy="-55" r="1241" stroke="#c8c8c8" stroke-width="6.7" stroke-dasharray="38,22,41,50,35,66,47,18,107,49,111,58,68,20,123,65" stroke-dashoffset="130" opacity="0.54"/>
<circle cx="1022" cy="-55" r="1252" stroke="#000" stroke-width="9.6" stroke-dasharray="110,84,139,24,46,49,37,51,118,34,119,34,118,20,38,18" stroke-dashoffset="289" opacity="0.51"/>
<circle cx="1022" cy="-55" r="1263" stroke="#c8c8c8" stroke-width="6.5" stroke-dasharray="129,43,120,71,68,73,93,59,74,26,85,53,74,88,44,83" stroke-dashoffset="279" opacity="0.55"/>
<circle cx="1022" cy="-55" r="1274" stroke="#000" stroke-width="5.1" stroke-dasharray="82,50,113,83,33,80,132,26,34,49,28,24,83,30,94,30" stroke-dashoffset="333" opacity="0.81"/>
<circle cx="1022" cy="-55" r="1281" stroke="#c8c8c8" stroke-width="8.1" stroke-dasharray="131,89,29,66,61,46,77,18,97,24,123,22,96,56,28,23" stroke-dashoffset="247" opacity="0.70"/>
<circle cx="1022" cy="-55" r="1289" stroke="#000" stroke-width="4.6" stroke-dasharray="51,76,40,71,38,76,113,81,69,88,72,62,120,26,30,67" stroke-dashoffset="113" opacity="0.61"/>
<circle cx="1022" cy="-55" r="1299" stroke="#c8c8c8" stroke-width="5.0" stroke-dasharray="56,30,35,76,122,69,75,84,87,56,27,41,49,64,135,62" stroke-dashoffset="159" opacity="0.92"/>
<circle cx="1022" cy="-55" r="1307" stroke="#000" stroke-width="8.8" stroke-dasharray="29,87,111,88,80,64,70,71,86,49,117,85,57,34,139,40" stroke-dashoffset="183" opacity="0.77"/>
<circle cx="1022" cy="-55" r="1315" stroke="#c8c8c8" stroke-width="6.7" stroke-dasharray="56,48,116,72,131,85,55,73,104,61,81,84,89,85,37,41" stroke-dashoffset="66" opacity="0.86"/>
<circle cx="1022" cy="-55" r="1325" stroke="#000" stroke-width="5.9" stroke-dasharray="63,51,60,51,96,16,50,54,101,59,109,47,129,72,83,57" stroke-dashoffset="402" opacity="0.64"/>
<circle cx="1022" cy="-55" r="1334" stroke="#c8c8c8" stroke-width="7.0" stroke-dasharray="83,18,82,83,124,55,105,42,33,76,87,60,95,88,59,57" stroke-dashoffset="367" opacity="0.84"/>
<circle cx="1022" cy="-55" r="1346" stroke="#000" stroke-width="4.2" stroke-dasharray="116,17,61,41,117,81,88,56,101,16,67,48,30,38,57,24" stroke-dashoffset="94" opacity="0.69"/>
<circle cx="1022" cy="-55" r="1357" stroke="#c8c8c8" stroke-width="9.1" stroke-dasharray="61,73,106,22,47,80,41,61,92,75,114,76,40,69,128,64" stroke-dashoffset="479" opacity="0.54"/>
<circle cx="1022" cy="-55" r="1367" stroke="#000" stroke-width="9.8" stroke-dasharray="59,40,58,43,74,52,54,52,131,41,53,83,106,74,130,88" stroke-dashoffset="152" opacity="0.50"/>
<circle cx="1022" cy="-55" r="1378" stroke="#c8c8c8" stroke-width="8.0" stroke-dasharray="69,82,117,57,95,46,46,37,108,52,84,64,132,23,35,72" stroke-dashoffset="108" opacity="0.78"/>
<circle cx="1022" cy="-55" r="1388" stroke="#000" stroke-width="8.0" stroke-dasharray="98,44,94,85,121,49,109,36,131,15,90,72,129,55,83,60" stroke-dashoffset="378" opacity="0.69"/>
<circle cx="1022" cy="-55" r="1399" stroke="#c8c8c8" stroke-width="5.5" stroke-dasharray="34,20,45,45,40,73,103,43,45,46,125,77,104,43,121,53" stroke-dashoffset="170" opacity="0.95"/>
<circle cx="1022" cy="-55" r="1410" stroke="#000" stroke-width="4.3" stroke-dasharray="32,50,114,47,86,25,94,45,66,30,93,77,86,60,89,68" stroke-dashoffset="348" opacity="0.51"/>
<circle cx="1022" cy="-55" r="1423" stroke="#c8c8c8" stroke-width="7.0" stroke-dasharray="30,69,112,42,94,17,109,65,117,50,130,46,25,21,62,31" stroke-dashoffset="115" opacity="0.55"/>
<circle cx="1022" cy="-55" r="1434" stroke="#000" stroke-width="9.3" stroke-dasharray="131,41,82,54,94,69,74,16,61,15,103,87,90,66,90,87" stroke-dashoffset="83" opacity="0.79"/>
<circle cx="1022" cy="-55" r="1443" stroke="#c8c8c8" stroke-width="6.7" stroke-dasharray="50,73,63,35,123,16,46,84,101,30,40,65,120,89,133,71" stroke-dashoffset="42" opacity="0.89"/>
<circle cx="1022" cy="-55" r="1453" stroke="#000" stroke-width="7.2" stroke-dasharray="27,16,84,63,56,87,32,80,132,21,120,61,74,47,87,84" stroke-dashoffset="378" opacity="0.74"/>
<circle cx="1022" cy="-55" r="1462" stroke="#c8c8c8" stroke-width="5.1" stroke-dasharray="87,79,97,59,76,88,122,53,101,75,54,62,57,72,60,87" stroke-dashoffset="346" opacity="0.76"/>
<circle cx="1022" cy="-55" r="1473" stroke="#000" stroke-width="7.5" stroke-dasharray="55,16,77,37,79,30,48,88,68,71,41,21,104,47,117,16" stroke-dashoffset="247" opacity="0.80"/>
<circle cx="1022" cy="-55" r="1481" stroke="#c8c8c8" stroke-width="8.3" stroke-dasharray="47,23,42,18,71,73,44,36,63,31,125,77,38,64,129,15" stroke-dashoffset="201" opacity="0.51"/>
<circle cx="1022" cy="-55" r="1490" stroke="#000" stroke-width="4.7" stroke-dasharray="77,30,109,43,34,56,77,70,110,33,69,69,136,56,95,40" stroke-dashoffset="217" opacity="0.66"/>
<circle cx="1022" cy="-55" r="1500" stroke="#c8c8c8" stroke-width="5.7" stroke-dasharray="62,17,35,79,64,87,53,42,127,48,102,73,69,30,26,79" stroke-dashoffset="286" opacity="0.89"/>
<circle cx="1022" cy="-55" r="1513" stroke="#000" stroke-width="9.2" stroke-dasharray="93,23,91,51,36,16,64,42,125,89,130,39,123,43,66,58" stroke-dashoffset="20" opacity="0.84"/>
<circle cx="1022" cy="-55" r="1520" stroke="#c8c8c8" stroke-width="7.5" stroke-dasharray="110,19,99,53,65,73,61,29,72,42,119,30,70,73,78,40" stroke-dashoffset="73" opacity="0.68"/>
<circle cx="1022" cy="-55" r="1530" stroke="#000" stroke-width="8.7" stroke-dasharray="139,55,82,71,78,34,105,77,50,79,31,29,68,82,80,40" stroke-dashoffset="121" opacity="0.73"/>
<circle cx="1022" cy="-55" r="1541" stroke="#c8c8c8" stroke-width="7.6" stroke-dasharray="127,24,107,87,94,68,117,81,61,48,121,26,76,87,70,47" stroke-dashoffset="212" opacity="0.74"/>
<circle cx="1022" cy="-55" r="1552" stroke="#000" stroke-width="4.7" stroke-dasharray="77,46,135,79,58,38,139,15,105,16,58,63,102,62,50,45" stroke-dashoffset="427" opacity="0.64"/>
<circle cx="1022" cy="-55" r="1563" stroke="#c8c8c8" stroke-width="7.4" stroke-dasharray="123,75,115,40,109,82,33,69,78,43,98,75,129,74,132,79" stroke-dashoffset="255" opacity="0.85"/>
<circle cx="1022" cy="-55" r="1575" stroke="#000" stroke-width="7.5" stroke-dasharray="33,44,103,16,37,78,103,16,114,60,68,63,35,25,103,66" stroke-dashoffset="308" opacity="0.72"/>
<circle cx="1022" cy="-55" r="1583" stroke="#c8c8c8" stroke-width="4.8" stroke-dasharray="132,36,72,53,25,39,47,22,131,28,58,35,115,80,98,62" stroke-dashoffset="300" opacity="0.51"/>
<circle cx="1022" cy="-55" r="1594" stroke="#000" stroke-width="9.7" stroke-dasharray="126,83,39,68,139,33,58,88,52,26,103,39,96,34,51,59" stroke-dashoffset="217" opacity="0.83"/>
<circle cx="1022" cy="-55" r="1605" stroke="#c8c8c8" stroke-width="5.5" stroke-dasharray="48,20,33,68,63,15,28,79,97,31,115,81,31,28,102,73" stroke-dashoffset="132" opacity="0.74"/>
<circle cx="1022" cy="-55" r="1614" stroke="#000" stroke-width="6.3" stroke-dasharray="121,58,97,83,130,65,28,42,136,50,28,65,88,69,88,36" stroke-dashoffset="187" opacity="0.57"/>
<circle cx="1022" cy="-55" r="1623" stroke="#c8c8c8" stroke-width="7.1" stroke-dasharray="40,18,97,62,113,49,35,54,59,82,49,75,99,37,93,20" stroke-dashoffset="135" opacity="0.85"/>
<circle cx="1022" cy="-55" r="1630" stroke="#000" stroke-width="7.3" stroke-dasharray="129,87,113,76,61,41,55,19,34,19,50,39,68,51,121,42" stroke-dashoffset="234" opacity="0.90"/>
<circle cx="1022" cy="-55" r="1640" stroke="#c8c8c8" stroke-width="8.3" stroke-dasharray="136,82,56,78,131,32,41,69,101,30,137,49,137,52,107,25" stroke-dashoffset="404" opacity="0.72"/>
<circle cx="1022" cy="-55" r="1648" stroke="#000" stroke-width="6.6" stroke-dasharray="100,81,112,83,112,43,44,83,75,86,102,74,92,30,80,64" stroke-dashoffset="55" opacity="0.69"/>
<circle cx="1022" cy="-55" r="1660" stroke="#c8c8c8" stroke-width="5.3" stroke-dasharray="26,31,74,36,85,35,74,83,120,71,75,56,117,30,66,25" stroke-dashoffset="227" opacity="0.65"/>
<circle cx="1022" cy="-55" r="1671" stroke="#000" stroke-width="6.2" stroke-dasharray="99,58,92,47,73,24,99,39,57,82,73,23,96,44,69,60" stroke-dashoffset="251" opacity="0.95"/>
<circle cx="1022" cy="-55" r="1680" stroke="#c8c8c8" stroke-width="8.9" stroke-dasharray="122,34,26,26,86,80,78,32,92,74,131,56,47,56,82,30" stroke-dashoffset="49" opacity="0.94"/>
<circle cx="1022" cy="-55" r="1689" stroke="#000" stroke-width="9.2" stroke-dasharray="90,15,128,88,45,66,29,82,41,61,111,59,126,28,136,63" stroke-dashoffset="55" opacity="0.52"/>
<circle cx="1022" cy="-55" r="1697" stroke="#c8c8c8" stroke-width="4.7" stroke-dasharray="69,24,58,79,105,36,38,21,60,19,41,89,62,77,31,26" stroke-dashoffset="25" opacity="0.77"/>
<circle cx="1022" cy="-55" r="1709" stroke="#000" stroke-width="9.1" stroke-dasharray="67,74,69,54,57,39,98,44,47,40,29,43,130,56,55,50" stroke-dashoffset="265" opacity="0.57"/>
<circle cx="1022" cy="-55" r="1719" stroke="#c8c8c8" stroke-width="5.6" stroke-dasharray="37,31,64,68,30,51,91,78,41,73,63,24,102,68,139,34" stroke-dashoffset="351" opacity="0.97"/>
<circle cx="1022" cy="-55" r="1730" stroke="#000" stroke-width="8.2" stroke-dasharray="39,36,70,29,38,42,98,52,84,53,111,70,63,22,40,41" stroke-dashoffset="209" opacity="0.85"/>
<circle cx="1022" cy="-55" r="1737" stroke="#c8c8c8" stroke-width="5.3" stroke-dasharray="110,78,55,56,88,34,82,19,132,33,129,81,72,27,58,84" stroke-dashoffset="28" opacity="0.63"/>
<circle cx="1022" cy="-55" r="1746" stroke="#000" stroke-width="6.1" stroke-dasharray="138,47,130,63,25,41,63,29,51,31,126,57,76,37,97,41" stroke-dashoffset="12" opacity="0.58"/>
<circle cx="1022" cy="-55" r="1758" stroke="#c8c8c8" stroke-width="8.1" stroke-dasharray="104,47,96,16,97,77,96,54,104,73,72,23,98,63,133,16" stroke-dashoffset="288" opacity="0.95"/>
<circle cx="1022" cy="-55" r="1765" stroke="#000" stroke-width="8.1" stroke-dasharray="99,76,87,66,115,31,26,68,43,23,37,81,126,50,108,36" stroke-dashoffset="58" opacity="0.81"/>
<circle cx="1022" cy="-55" r="1774" stroke="#c8c8c8" stroke-width="4.3" stroke-dasharray="108,15,100,28,57,42,110,63,34,38,87,86,75,75,119,71" stroke-dashoffset="123" opacity="0.57"/>
<circle cx="1022" cy="-55" r="1785" stroke="#000" stroke-width="5.3" stroke-dasharray="81,46,95,85,50,20,113,31,89,35,124,62,118,41,48,65" stroke-dashoffset="92" opacity="0.53"/>
<circle cx="1022" cy="-55" r="1798" stroke="#c8c8c8" stroke-width="9.1" stroke-dasharray="35,46,34,19,93,74,135,82,70,17,101,51,39,32,43,84" stroke-dashoffset="160" opacity="0.99"/>
<circle cx="1022" cy="-55" r="1809" stroke="#000" stroke-width="8.3" stroke-dasharray="114,31,122,84,35,38,55,60,115,80,80,89,99,69,76,61" stroke-dashoffset="293" opacity="0.90"/>
<circle cx="1022" cy="-55" r="1819" stroke="#c8c8c8" stroke-width="6.0" stroke-dasharray="56,41,56,56,138,89,55,45,90,40,33,30,124,48,30,59" stroke-dashoffset="121" opacity="0.95"/>
<circle cx="1022" cy="-55" r="1830" stroke="#000" stroke-width="4.2" stroke-dasharray="61,21,58,75,120,81,78,58,90,35,134,27,132,30,114,51" stroke-dashoffset="24" opacity="0.89"/>
<circle cx="1022" cy="-55" r="1841" stroke="#c8c8c8" stroke-width="4.7" stroke-dasharray="139,79,97,21,126,18,134,73,115,83,99,43,74,45,84,66" stroke-dashoffset="319" opacity="0.74"/>
<circle cx="1022" cy="-55" r="1852" stroke="#000" stroke-width="4.1" stroke-dasharray="129,33,60,69,81,41,35,68,79,38,71,58,136,62,62,24" stroke-dashoffset="142" opacity="0.59"/>
<circle cx="1022" cy="-55" r="1860" stroke="#c8c8c8" stroke-width="8.5" stroke-dasharray="68,38,43,70,127,67,54,49,38,36,39,52,102,54,111,79" stroke-dashoffset="390" opacity="0.71"/>
<circle cx="1022" cy="-55" r="1871" stroke="#000" stroke-width="7.6" stroke-dasharray="104,72,121,49,116,48,122,48,122,24,134,19,138,71,36,37" stroke-dashoffset="134" opacity="0.72"/>
<circle cx="1022" cy="-55" r="1880" stroke="#c8c8c8" stroke-width="5.0" stroke-dasharray="84,69,64,19,30,16,137,67,52,82,26,86,27,29,33,72" stroke-dashoffset="109" opacity="0.70"/>
<circle cx="1022" cy="-55" r="1889" stroke="#000" stroke-width="7.5" stroke-dasharray="118,59,40,19,103,48,82,23,53,83,135,40,73,81,116,39" stroke-dashoffset="353" opacity="0.65"/>
<circle cx="1022" cy="-55" r="1897" stroke="#c8c8c8" stroke-width="9.5" stroke-dasharray="68,87,125,55,130,46,82,26,25,46,40,42,80,41,111,74" stroke-dashoffset="239" opacity="0.77"/>
<circle cx="1022" cy="-55" r="1909" stroke="#000" stroke-width="7.0" stroke-dasharray="77,68,29,35,47,53,27,72,113,49,130,51,68,22,71,41" stroke-dashoffset="358" opacity="0.91"/>
<circle cx="1022" cy="-55" r="1917" stroke="#c8c8c8" stroke-width="7.1" stroke-dasharray="85,44,76,87,70,45,89,82,95,88,66,73,119,83,139,55" stroke-dashoffset="136" opacity="0.77"/>
<circle cx="1022" cy="-55" r="1928" stroke="#000" stroke-width="4.6" stroke-dasharray="106,69,55,37,104,15,129,69,84,56,62,75,52,66,25,17" stroke-dashoffset="461" opacity="0.50"/>
<circle cx="1022" cy="-55" r="1935" stroke="#c8c8c8" stroke-width="8.5" stroke-dasharray="86,25,124,23,76,64,118,66,82,24,52,56,83,37,137,71" stroke-dashoffset="463" opacity="0.61"/>
<circle cx="1022" cy="-55" r="1948" stroke="#000" stroke-width="9.7" stroke-dasharray="86,85,136,84,52,30,30,81,40,52,27,73,124,83,55,29" stroke-dashoffset="350" opacity="0.77"/>
<circle cx="1022" cy="-55" r="1956" stroke="#c8c8c8" stroke-width="7.7" stroke-dasharray="69,68,108,42,47,17,131,15,95,65,133,64,138,87,98,52" stroke-dashoffset="39" opacity="0.67"/>
<circle cx="1022" cy="-55" r="1963" stroke="#000" stroke-width="7.3" stroke-dasharray="68,83,126,55,40,54,115,80,53,16,106,37,30,36,79,28" stroke-dashoffset="372" opacity="0.84"/>
<circle cx="1022" cy="-55" r="1973" stroke="#c8c8c8" stroke-width="6.5" stroke-dasharray="67,51,61,68,54,48,83,47,36,75,56,36,117,79,96,78" stroke-dashoffset="26" opacity="0.54"/>
<circle cx="1022" cy="-55" r="1986" stroke="#000" stroke-width="8.3" stroke-dasharray="57,87,111,79,69,75,31,44,135,89,38,35,57,79,80,88" stroke-dashoffset="405" opacity="0.57"/>
<circle cx="1022" cy="-55" r="1996" stroke="#c8c8c8" stroke-width="5.1" stroke-dasharray="44,35,90,88,119,41,70,46,56,67,71,45,55,31,136,16" stroke-dashoffset="490" opacity="0.85"/>
</g>
<filter id="sbC2" x="-10%" y="-10%" width="120%" height="120%"><feGaussianBlur stdDeviation="8"/></filter>
<g style="mix-blend-mode:overlay" opacity="0.45" filter="url(#sbC2)" fill="none">
<circle cx="1022" cy="-55" r="320" stroke="#c8c8c8" stroke-width="15.4" stroke-dasharray="250,63,207,174,209,88,130,155,253,146,168,102,141,155,145,125" stroke-dashoffset="315" opacity="0.82"/>
<circle cx="1022" cy="-55" r="337" stroke="#000" stroke-width="17.7" stroke-dasharray="201,131,227,48,106,120,209,71,212,105,121,172,81,189,122,97" stroke-dashoffset="101" opacity="0.73"/>
<circle cx="1022" cy="-55" r="366" stroke="#c8c8c8" stroke-width="17.5" stroke-dasharray="170,110,120,60,199,106,153,136,81,170,238,80,223,151,119,83" stroke-dashoffset="41" opacity="0.71"/>
<circle cx="1022" cy="-55" r="390" stroke="#000" stroke-width="21.8" stroke-dasharray="156,127,84,75,171,115,94,84,255,167,205,96,143,152,172,142" stroke-dashoffset="17" opacity="0.86"/>
<circle cx="1022" cy="-55" r="409" stroke="#c8c8c8" stroke-width="19.2" stroke-dasharray="166,191,141,143,101,190,109,126,196,151,149,143,62,197,171,135" stroke-dashoffset="127" opacity="0.74"/>
<circle cx="1022" cy="-55" r="435" stroke="#000" stroke-width="20.6" stroke-dasharray="84,71,234,72,162,153,104,169,155,191,100,108,132,83,145,108" stroke-dashoffset="197" opacity="0.93"/>
<circle cx="1022" cy="-55" r="457" stroke="#c8c8c8" stroke-width="14.9" stroke-dasharray="210,109,65,160,205,144,223,83,228,98,231,199,170,107,206,155" stroke-dashoffset="252" opacity="0.54"/>
<circle cx="1022" cy="-55" r="479" stroke="#000" stroke-width="24.9" stroke-dasharray="62,105,243,154,112,61,174,138,117,122,258,144,168,50,154,43" stroke-dashoffset="481" opacity="0.76"/>
<circle cx="1022" cy="-55" r="504" stroke="#c8c8c8" stroke-width="24.9" stroke-dasharray="68,171,199,51,242,178,258,54,243,164,110,52,195,50,169,168" stroke-dashoffset="198" opacity="0.67"/>
<circle cx="1022" cy="-55" r="527" stroke="#000" stroke-width="15.8" stroke-dasharray="72,130,223,198,80,88,223,86,213,190,231,139,205,177,88,93" stroke-dashoffset="366" opacity="0.74"/>
<circle cx="1022" cy="-55" r="555" stroke="#c8c8c8" stroke-width="29.6" stroke-dasharray="204,134,204,188,79,47,218,176,191,113,113,197,201,197,192,176" stroke-dashoffset="115" opacity="0.86"/>
<circle cx="1022" cy="-55" r="573" stroke="#000" stroke-width="19.2" stroke-dasharray="149,123,258,140,81,167,211,172,246,165,163,146,71,99,141,157" stroke-dashoffset="30" opacity="0.60"/>
<circle cx="1022" cy="-55" r="593" stroke="#c8c8c8" stroke-width="17.2" stroke-dasharray="154,199,125,50,63,159,138,197,109,195,122,196,246,104,77,139" stroke-dashoffset="292" opacity="0.82"/>
<circle cx="1022" cy="-55" r="612" stroke="#000" stroke-width="27.4" stroke-dasharray="128,90,74,43,149,61,121,158,210,111,104,140,136,197,213,177" stroke-dashoffset="135" opacity="0.88"/>
<circle cx="1022" cy="-55" r="635" stroke="#c8c8c8" stroke-width="18.1" stroke-dasharray="83,121,189,80,79,133,165,155,233,66,254,86,208,77,212,96" stroke-dashoffset="261" opacity="0.94"/>
<circle cx="1022" cy="-55" r="663" stroke="#000" stroke-width="26.1" stroke-dasharray="243,105,110,172,176,83,256,183,219,113,220,103,117,170,181,158" stroke-dashoffset="37" opacity="0.76"/>
<circle cx="1022" cy="-55" r="686" stroke="#c8c8c8" stroke-width="14.6" stroke-dasharray="228,112,155,132,184,59,99,55,187,67,198,166,209,197,163,126" stroke-dashoffset="289" opacity="0.80"/>
<circle cx="1022" cy="-55" r="710" stroke="#000" stroke-width="18.1" stroke-dasharray="200,162,129,55,177,79,125,180,218,192,176,156,109,140,169,72" stroke-dashoffset="318" opacity="0.82"/>
<circle cx="1022" cy="-55" r="729" stroke="#c8c8c8" stroke-width="26.5" stroke-dasharray="115,182,115,181,209,89,91,120,134,137,158,45,118,126,198,79" stroke-dashoffset="274" opacity="0.60"/>
<circle cx="1022" cy="-55" r="757" stroke="#000" stroke-width="24.1" stroke-dasharray="120,61,256,68,173,64,115,69,234,122,81,46,179,78,214,137" stroke-dashoffset="333" opacity="0.59"/>
<circle cx="1022" cy="-55" r="777" stroke="#c8c8c8" stroke-width="26.6" stroke-dasharray="257,116,153,118,81,68,78,55,130,66,251,165,253,43,223,162" stroke-dashoffset="359" opacity="0.53"/>
<circle cx="1022" cy="-55" r="808" stroke="#000" stroke-width="29.8" stroke-dasharray="186,153,100,174,77,137,237,90,151,146,62,71,217,192,86,65" stroke-dashoffset="21" opacity="0.88"/>
<circle cx="1022" cy="-55" r="839" stroke="#c8c8c8" stroke-width="14.5" stroke-dasharray="213,129,105,149,157,74,105,81,80,100,197,53,158,189,147,56" stroke-dashoffset="392" opacity="0.92"/>
<circle cx="1022" cy="-55" r="857" stroke="#000" stroke-width="27.0" stroke-dasharray="235,154,248,159,200,62,240,176,130,125,203,71,125,73,234,89" stroke-dashoffset="52" opacity="0.95"/>
<circle cx="1022" cy="-55" r="884" stroke="#c8c8c8" stroke-width="17.2" stroke-dasharray="60,108,235,67,154,40,131,128,212,71,123,99,63,162,211,59" stroke-dashoffset="206" opacity="0.94"/>
<circle cx="1022" cy="-55" r="913" stroke="#000" stroke-width="25.0" stroke-dasharray="100,77,167,154,163,169,242,49,247,121,177,127,199,124,164,150" stroke-dashoffset="162" opacity="0.66"/>
<circle cx="1022" cy="-55" r="931" stroke="#c8c8c8" stroke-width="29.2" stroke-dasharray="174,164,196,155,100,187,110,181,225,191,254,147,241,73,174,166" stroke-dashoffset="227" opacity="0.64"/>
<circle cx="1022" cy="-55" r="957" stroke="#000" stroke-width="22.2" stroke-dasharray="98,87,127,193,98,81,218,84,94,166,199,165,86,101,81,125" stroke-dashoffset="136" opacity="0.78"/>
<circle cx="1022" cy="-55" r="976" stroke="#c8c8c8" stroke-width="15.5" stroke-dasharray="104,193,102,76,134,52,217,65,247,103,74,74,121,72,244,156" stroke-dashoffset="243" opacity="0.75"/>
<circle cx="1022" cy="-55" r="1005" stroke="#000" stroke-width="23.1" stroke-dasharray="200,73,241,81,239,183,69,98,142,53,177,130,216,62,71,93" stroke-dashoffset="174" opacity="0.74"/>
<circle cx="1022" cy="-55" r="1031" stroke="#c8c8c8" stroke-width="27.8" stroke-dasharray="77,73,247,173,186,196,71,123,104,69,137,171,95,105,73,109" stroke-dashoffset="97" opacity="0.89"/>
<circle cx="1022" cy="-55" r="1058" stroke="#000" stroke-width="17.9" stroke-dasharray="217,179,180,191,141,139,172,122,212,76,142,70,167,75,187,182" stroke-dashoffset="128" opacity="0.52"/>
<circle cx="1022" cy="-55" r="1089" stroke="#c8c8c8" stroke-width="15.8" stroke-dasharray="210,185,142,147,145,94,168,122,151,116,78,199,127,137,248,48" stroke-dashoffset="248" opacity="0.62"/>
<circle cx="1022" cy="-55" r="1116" stroke="#000" stroke-width="28.0" stroke-dasharray="236,102,96,142,232,188,196,51,251,166,256,77,122,64,91,139" stroke-dashoffset="287" opacity="0.63"/>
<circle cx="1022" cy="-55" r="1142" stroke="#c8c8c8" stroke-width="19.8" stroke-dasharray="74,132,205,98,96,181,154,144,174,167,199,190,163,167,119,126" stroke-dashoffset="261" opacity="0.67"/>
<circle cx="1022" cy="-55" r="1171" stroke="#000" stroke-width="22.7" stroke-dasharray="107,53,143,41,132,139,190,146,98,71,68,69,254,117,226,164" stroke-dashoffset="158" opacity="0.69"/>
<circle cx="1022" cy="-55" r="1200" stroke="#c8c8c8" stroke-width="29.3" stroke-dasharray="239,177,78,146,160,45,254,183,200,143,68,168,103,55,93,48" stroke-dashoffset="239" opacity="0.93"/>
<circle cx="1022" cy="-55" r="1229" stroke="#000" stroke-width="17.3" stroke-dasharray="216,48,192,55,221,116,259,111,144,95,238,167,196,156,209,64" stroke-dashoffset="483" opacity="0.63"/>
<circle cx="1022" cy="-55" r="1253" stroke="#c8c8c8" stroke-width="19.3" stroke-dasharray="174,87,151,111,172,61,99,48,130,186,60,145,183,179,82,122" stroke-dashoffset="28" opacity="0.64"/>
<circle cx="1022" cy="-55" r="1284" stroke="#000" stroke-width="14.1" stroke-dasharray="253,132,235,74,250,74,140,153,192,57,87,87,117,117,211,189" stroke-dashoffset="243" opacity="0.69"/>
<circle cx="1022" cy="-55" r="1316" stroke="#c8c8c8" stroke-width="23.9" stroke-dasharray="244,73,156,55,219,165,69,169,135,79,255,170,188,122,70,183" stroke-dashoffset="436" opacity="0.67"/>
<circle cx="1022" cy="-55" r="1332" stroke="#000" stroke-width="21.6" stroke-dasharray="122,104,191,159,108,49,103,83,102,103,122,49,87,189,238,68" stroke-dashoffset="103" opacity="0.85"/>
<circle cx="1022" cy="-55" r="1352" stroke="#c8c8c8" stroke-width="18.1" stroke-dasharray="106,157,234,120,66,40,198,157,117,101,78,142,168,155,255,150" stroke-dashoffset="444" opacity="0.59"/>
<circle cx="1022" cy="-55" r="1382" stroke="#000" stroke-width="21.9" stroke-dasharray="75,120,157,84,145,145,179,158,192,72,151,132,177,73,91,112" stroke-dashoffset="132" opacity="0.75"/>
<circle cx="1022" cy="-55" r="1412" stroke="#c8c8c8" stroke-width="27.7" stroke-dasharray="132,41,233,190,126,85,83,138,148,89,188,199,255,50,113,52" stroke-dashoffset="428" opacity="0.52"/>
<circle cx="1022" cy="-55" r="1437" stroke="#000" stroke-width="19.9" stroke-dasharray="117,63,133,122,156,84,224,48,167,65,210,82,92,130,112,101" stroke-dashoffset="370" opacity="0.51"/>
<circle cx="1022" cy="-55" r="1463" stroke="#c8c8c8" stroke-width="15.0" stroke-dasharray="100,163,191,133,97,163,209,141,173,111,230,153,73,57,189,196" stroke-dashoffset="459" opacity="0.92"/>
<circle cx="1022" cy="-55" r="1484" stroke="#000" stroke-width="25.5" stroke-dasharray="128,190,103,95,73,102,223,54,190,96,198,120,138,49,65,53" stroke-dashoffset="497" opacity="0.83"/>
<circle cx="1022" cy="-55" r="1501" stroke="#c8c8c8" stroke-width="28.0" stroke-dasharray="224,56,92,143,195,97,123,53,110,73,210,154,130,110,210,83" stroke-dashoffset="201" opacity="0.96"/>
<circle cx="1022" cy="-55" r="1524" stroke="#000" stroke-width="29.1" stroke-dasharray="192,81,189,75,119,141,71,122,259,174,216,142,183,136,250,149" stroke-dashoffset="295" opacity="0.98"/>
<circle cx="1022" cy="-55" r="1551" stroke="#c8c8c8" stroke-width="16.5" stroke-dasharray="223,172,151,73,112,177,226,60,133,72,149,69,145,56,215,164" stroke-dashoffset="269" opacity="0.70"/>
<circle cx="1022" cy="-55" r="1579" stroke="#000" stroke-width="28.6" stroke-dasharray="69,63,70,132,60,65,83,97,163,197,84,168,173,181,164,155" stroke-dashoffset="217" opacity="0.68"/>
<circle cx="1022" cy="-55" r="1601" stroke="#c8c8c8" stroke-width="25.0" stroke-dasharray="259,75,257,121,217,171,65,187,176,187,105,155,150,108,168,72" stroke-dashoffset="393" opacity="0.95"/>
<circle cx="1022" cy="-55" r="1625" stroke="#000" stroke-width="20.0" stroke-dasharray="61,184,219,167,71,100,193,148,236,41,134,42,239,140,66,165" stroke-dashoffset="49" opacity="0.68"/>
<circle cx="1022" cy="-55" r="1652" stroke="#c8c8c8" stroke-width="14.4" stroke-dasharray="94,165,73,84,81,93,178,60,156,144,96,111,246,140,244,150" stroke-dashoffset="402" opacity="0.60"/>
<circle cx="1022" cy="-55" r="1678" stroke="#000" stroke-width="25.2" stroke-dasharray="216,167,113,94,217,65,77,95,183,171,99,90,142,193,174,57" stroke-dashoffset="29" opacity="0.72"/>
<circle cx="1022" cy="-55" r="1703" stroke="#c8c8c8" stroke-width="22.3" stroke-dasharray="97,105,224,90,126,161,153,173,90,136,159,93,224,180,69,140" stroke-dashoffset="262" opacity="0.97"/>
<circle cx="1022" cy="-55" r="1721" stroke="#000" stroke-width="25.2" stroke-dasharray="212,122,221,73,155,121,219,114,120,104,189,197,163,145,224,98" stroke-dashoffset="204" opacity="0.79"/>
<circle cx="1022" cy="-55" r="1751" stroke="#c8c8c8" stroke-width="22.8" stroke-dasharray="115,120,78,111,250,85,121,92,123,185,201,50,223,143,76,120" stroke-dashoffset="199" opacity="0.66"/>
<circle cx="1022" cy="-55" r="1770" stroke="#000" stroke-width="25.9" stroke-dasharray="177,188,65,181,178,121,199,152,158,176,131,192,129,111,250,71" stroke-dashoffset="224" opacity="0.88"/>
<circle cx="1022" cy="-55" r="1801" stroke="#c8c8c8" stroke-width="19.6" stroke-dasharray="179,63,112,140,228,139,129,149,98,79,131,58,102,74,164,190" stroke-dashoffset="241" opacity="0.78"/>
<circle cx="1022" cy="-55" r="1827" stroke="#000" stroke-width="27.3" stroke-dasharray="181,100,103,148,79,155,140,55,154,164,159,48,195,185,119,76" stroke-dashoffset="470" opacity="0.75"/>
<circle cx="1022" cy="-55" r="1847" stroke="#c8c8c8" stroke-width="20.4" stroke-dasharray="62,160,231,177,195,42,84,140,103,157,80,188,166,121,73,188" stroke-dashoffset="467" opacity="0.59"/>
<circle cx="1022" cy="-55" r="1866" stroke="#000" stroke-width="16.6" stroke-dasharray="188,146,115,135,76,193,240,156,177,92,161,109,237,97,245,132" stroke-dashoffset="159" opacity="0.76"/>
<circle cx="1022" cy="-55" r="1888" stroke="#c8c8c8" stroke-width="14.3" stroke-dasharray="188,189,80,158,256,151,222,80,189,154,218,87,137,148,171,77" stroke-dashoffset="282" opacity="0.90"/>
<circle cx="1022" cy="-55" r="1918" stroke="#000" stroke-width="21.3" stroke-dasharray="124,71,169,185,120,113,183,81,216,60,231,146,117,58,208,113" stroke-dashoffset="386" opacity="0.96"/>
<circle cx="1022" cy="-55" r="1938" stroke="#c8c8c8" stroke-width="25.8" stroke-dasharray="195,63,91,172,194,125,143,126,102,101,219,107,62,41,147,101" stroke-dashoffset="303" opacity="0.67"/>
<circle cx="1022" cy="-55" r="1957" stroke="#000" stroke-width="20.9" stroke-dasharray="105,198,176,47,257,138,72,90,71,121,201,137,187,151,117,160" stroke-dashoffset="136" opacity="0.76"/>
<circle cx="1022" cy="-55" r="1979" stroke="#c8c8c8" stroke-width="20.5" stroke-dasharray="95,185,60,75,191,158,105,72,173,43,237,43,228,156,223,187" stroke-dashoffset="127" opacity="0.95"/>
</g>
<path d="M0,0 L575,0 L575,25 L12,206 L0,206 Z" fill="#000"/>
<path d="M1490,0 L2100,0 L2100,190 L2013,186 L1495,25 Z" fill="#000"/>
</g></g>
<defs>
<clipPath id="clipD"><rect x="15" y="24.7" width="2003.4" height="1470.5"/></clipPath>
<filter id="bD3" x="-30%" y="-30%" width="160%" height="160%"><feGaussianBlur stdDeviation="3"/></filter>
<filter id="bD6" x="-30%" y="-30%" width="160%" height="160%"><feGaussianBlur stdDeviation="6"/></filter>
<filter id="bD10" x="-30%" y="-30%" width="160%" height="160%"><feGaussianBlur stdDeviation="10"/></filter>
<filter id="bD20" x="-30%" y="-30%" width="160%" height="160%"><feGaussianBlur stdDeviation="20"/></filter>
<filter id="bD50" filterUnits="userSpaceOnUse" x="-300" y="-300" width="2700" height="2200"><feGaussianBlur stdDeviation="50"/></filter>
<radialGradient id="gBlue"><stop offset="0" stop-color="#9ad8ff"/><stop offset="0.5" stop-color="#4a9cf5"/><stop offset="1" stop-color="#2f5fd8"/></radialGradient>
<radialGradient id="gOr"><stop offset="0" stop-color="#ffb08a"/><stop offset="0.5" stop-color="#ff7548"/><stop offset="1" stop-color="#e8402a"/></radialGradient>
<radialGradient id="gCy"><stop offset="0" stop-color="#e8fbff"/><stop offset="0.45" stop-color="#8fd6ff"/><stop offset="1" stop-color="#3470e0"/></radialGradient>
</defs>
<g transform="translate(1180,1340) scale(0.56680)"><g clip-path="url(#clipD)">
<rect x="0" y="0" width="2100" height="1600" fill="#747474"/>
<g filter="url(#bD50)">
<path d="M15,170 L700,30 L900,30 L860,330 L400,560 L15,600 Z" fill="#6c6c6c"/>
<path d="M1300,30 L2030,150 L2030,600 L1600,500 Z" fill="#6e6e6e"/>
<path d="M0,700 C400,1150 800,1250 1020,1260 C1300,1250 1700,1100 2100,700 L2100,1600 L0,1600 Z" fill="#7e7e7e"/>
<ellipse cx="1050" cy="1320" rx="520" ry="160" fill="#929292"/>
<path d="M0,950 L300,1150 L350,1600 L0,1600 Z" fill="#6c6c6c"/>
<ellipse cx="1000" cy="680" rx="640" ry="400" fill="#4e4e4e"/>
</g>
<g filter="url(#bD20)">
<circle cx="1020" cy="-95" r="318" stroke="#ababab" stroke-width="95" fill="none"/>
<path d="M1500,300 C1600,450 1620,700 1550,950" stroke="#9a9a9a" stroke-width="80" fill="none"/>
<path d="M300,600 C350,800 500,950 700,1050" stroke="#959595" stroke-width="90" fill="none"/>
<path d="M0,820 C60,900 120,1000 200,1120" stroke="#4c4c4c" stroke-width="130" fill="none"/>
<path d="M16,1000 C100,1100 200,1180 330,1235" stroke="#a8a8a8" stroke-width="22" fill="none"/>
</g>
<g filter="url(#bD10)" fill="#070707">
<path d="M790,300 L880,275 L1000,270 L1150,255 L1300,230 L1400,232 L1470,262 L1500,370 L1480,440 L1300,540 L1180,555 L1000,480 L900,440 L820,400 Z" fill="#333333"/>
<path d="M960,450 L1000,420 L1107,340 L1200,315 L1290,296 L1400,267 L1473,278 L1492,377 L1455,432 L1363,505 L1290,535 L1180,549 L1070,524 L997,469 Z"/>
<path d="M950,560 L1040,550 L1110,590 L1100,640 L1000,640 Z" fill="#1a1a1a"/>
<path d="M1100,640 L1200,600 L1330,620 L1340,700 L1290,760 L1180,770 L1110,720 Z"/>
<path d="M420,560 L520,520 L600,560 L620,650 L580,730 L500,740 L440,680 Z" fill="#141414"/>
<ellipse cx="540" cy="670" rx="55" ry="60"/>
<ellipse cx="600" cy="610" rx="35" ry="30"/>
<ellipse cx="1230" cy="970" rx="100" ry="38" transform="rotate(-15 1230 970)"/>
<path d="M330,300 L560,280 L600,420 L480,500 L360,480 Z" fill="#3a3a3a"/>
</g>
<g filter="url(#bD3)" stroke="#bdbdbd" fill="none" stroke-width="7">
<path d="M825,428 C900,440 960,450 1016,458"/>
<path d="M1180,545 C1250,530 1363,505 1473,414"/>
<path d="M1034,414 L1107,414" stroke="#d8d8d8" stroke-width="9"/>
<path d="M1081,505 L1170,502" stroke="#e0e0e0" stroke-width="12"/>
</g>
<circle cx="1020" cy="-85" r="290" fill="#6a6a6a" filter="url(#bD6)"/>
<circle cx="1020" cy="-85" r="270" fill="none" stroke="#b8b8b8" stroke-width="6"/>
<circle cx="1020" cy="-85" r="252" fill="#000"/>
<circle cx="1020" cy="-85" r="246" fill="none" stroke="#555" stroke-width="6"/>
<circle cx="1020" cy="-85" r="236" fill="#000"/>
<filter id="sbD" x="-10%" y="-10%" width="120%" height="120%"><feGaussianBlur stdDeviation="3.5"/></filter>
<g style="mix-blend-mode:overlay" opacity="0.65" filter="url(#sbD)" fill="none">
<circle cx="1020" cy="-95" r="300" stroke="#c8c8c8" stroke-width="7.4" stroke-dasharray="97,76,56,63,127,83,46,63,95,52,136,54,76,85,98,37" stroke-dashoffset="154" opacity="0.75"/>
<circle cx="1020" cy="-95" r="307" stroke="#000" stroke-width="7.6" stroke-dasharray="109,46,122,84,88,66,38,19,137,36,49,82,111,24,61,33" stroke-dashoffset="136" opacity="0.50"/>
<circle cx="1020" cy="-95" r="317" stroke="#c8c8c8" stroke-width="5.8" stroke-dasharray="70,28,37,17,125,71,89,24,42,23,61,19,56,30,47,64" stroke-dashoffset="228" opacity="0.74"/>
<circle cx="1020" cy="-95" r="327" stroke="#000" stroke-width="7.2" stroke-dasharray="115,38,33,51,68,73,37,80,26,55,76,38,127,67,43,52" stroke-dashoffset="306" opacity="0.52"/>
<circle cx="1020" cy="-95" r="334" stroke="#c8c8c8" stroke-width="7.6" stroke-dasharray="108,49,73,53,54,80,135,51,27,44,117,39,37,28,106,61" stroke-dashoffset="143" opacity="0.81"/>
<circle cx="1020" cy="-95" r="346" stroke="#000" stroke-width="9.8" stroke-dasharray="120,47,118,84,124,71,92,53,122,61,107,32,35,35,92,57" stroke-dashoffset="99" opacity="0.59"/>
<circle cx="1020" cy="-95" r="358" stroke="#c8c8c8" stroke-width="4.4" stroke-dasharray="131,72,90,89,103,15,132,46,130,76,40,17,27,73,116,32" stroke-dashoffset="56" opacity="0.68"/>
<circle cx="1020" cy="-95" r="370" stroke="#000" stroke-width="8.4" stroke-dasharray="124,87,111,77,26,15,124,61,62,24,63,40,82,48,48,21" stroke-dashoffset="101" opacity="0.56"/>
<circle cx="1020" cy="-95" r="378" stroke="#c8c8c8" stroke-width="6.5" stroke-dasharray="39,75,87,49,98,32,27,20,63,42,54,37,120,15,76,43" stroke-dashoffset="141" opacity="0.86"/>
<circle cx="1020" cy="-95" r="386" stroke="#000" stroke-width="4.3" stroke-dasharray="43,88,64,23,136,63,134,39,118,18,52,74,84,74,69,80" stroke-dashoffset="38" opacity="0.81"/>
<circle cx="1020" cy="-95" r="394" stroke="#c8c8c8" stroke-width="5.2" stroke-dasharray="126,47,118,36,108,83,97,32,101,86,117,48,70,22,113,26" stroke-dashoffset="109" opacity="0.52"/>
<circle cx="1020" cy="-95" r="402" stroke="#000" stroke-width="6.3" stroke-dasharray="79,28,73,71,36,25,85,82,130,57,35,80,139,82,86,43" stroke-dashoffset="293" opacity="0.90"/>
<circle cx="1020" cy="-95" r="415" stroke="#c8c8c8" stroke-width="7.0" stroke-dasharray="83,38,87,55,57,49,130,32,54,37,123,37,120,84,125,75" stroke-dashoffset="97" opacity="0.73"/>
<circle cx="1020" cy="-95" r="427" stroke="#000" stroke-width="5.5" stroke-dasharray="94,80,132,41,38,17,61,56,57,76,99,61,120,39,99,41" stroke-dashoffset="144" opacity="0.56"/>
<circle cx="1020" cy="-95" r="439" stroke="#c8c8c8" stroke-width="9.4" stroke-dasharray="28,68,32,46,61,82,74,53,65,34,52,19,26,56,109,65" stroke-dashoffset="129" opacity="0.99"/>
<circle cx="1020" cy="-95" r="446" stroke="#000" stroke-width="6.6" stroke-dasharray="63,28,135,68,40,28,118,42,59,37,62,59,60,59,32,55" stroke-dashoffset="291" opacity="0.66"/>
<circle cx="1020" cy="-95" r="459" stroke="#c8c8c8" stroke-width="9.6" stroke-dasharray="100,45,44,61,58,27,86,30,98,71,26,62,47,40,108,87" stroke-dashoffset="156" opacity="0.88"/>
<circle cx="1020" cy="-95" r="468" stroke="#000" stroke-width="9.6" stroke-dasharray="44,64,34,56,110,83,113,56,71,62,99,60,107,70,132,61" stroke-dashoffset="438" opacity="0.87"/>
<circle cx="1020" cy="-95" r="477" stroke="#c8c8c8" stroke-width="8.8" stroke-dasharray="67,77,126,82,129,66,82,36,98,81,66,30,112,83,48,25" stroke-dashoffset="56" opacity="0.78"/>
<circle cx="1020" cy="-95" r="489" stroke="#000" stroke-width="5.5" stroke-dasharray="115,18,49,56,112,52,104,41,68,54,25,30,65,64,47,33" stroke-dashoffset="495" opacity="0.83"/>
<circle cx="1020" cy="-95" r="498" stroke="#c8c8c8" stroke-width="8.7" stroke-dasharray="107,76,89,61,36,47,70,34,66,81,50,23,63,27,27,83" stroke-dashoffset="273" opacity="0.51"/>
<circle cx="1020" cy="-95" r="509" stroke="#000" stroke-width="5.0" stroke-dasharray="80,85,137,44,114,51,34,45,118,73,108,89,68,67,119,84" stroke-dashoffset="435" opacity="0.94"/>
<circle cx="1020" cy="-95" r="518" stroke="#c8c8c8" stroke-width="6.3" stroke-dasharray="96,23,60,42,48,28,100,38,31,74,133,31,103,21,50,27" stroke-dashoffset="320" opacity="0.78"/>
<circle cx="1020" cy="-95" r="530" stroke="#000" stroke-width="8.0" stroke-dasharray="111,80,92,31,43,79,119,63,134,75,71,28,74,83,127,15" stroke-dashoffset="3" opacity="0.72"/>
<circle cx="1020" cy="-95" r="542" stroke="#c8c8c8" stroke-width="9.3" stroke-dasharray="121,20,48,73,75,38,135,16,80,81,105,81,56,57,137,24" stroke-dashoffset="215" opacity="1.00"/>
<circle cx="1020" cy="-95" r="550" stroke="#000" stroke-width="8.6" stroke-dasharray="111,34,138,73,40,89,126,50,28,73,92,70,34,50,117,69" stroke-dashoffset="86" opacity="0.66"/>
<circle cx="1020" cy="-95" r="560" stroke="#c8c8c8" stroke-width="6.8" stroke-dasharray="138,85,25,61,40,79,85,82,129,85,44,19,113,49,114,48" stroke-dashoffset="207" opacity="0.87"/>
<circle cx="1020" cy="-95" r="569" stroke="#000" stroke-width="7.0" stroke-dasharray="70,65,33,49,91,66,128,42,135,67,69,57,66,63,27,82" stroke-dashoffset="179" opacity="0.51"/>
<circle cx="1020" cy="-95" r="576" stroke="#c8c8c8" stroke-width="6.0" stroke-dasharray="55,77,68,83,56,40,134,79,132,23,32,67,63,22,35,39" stroke-dashoffset="155" opacity="0.83"/>
<circle cx="1020" cy="-95" r="589" stroke="#000" stroke-width="5.0" stroke-dasharray="116,59,124,89,130,24,109,73,68,17,112,62,112,71,109,18" stroke-dashoffset="470" opacity="0.98"/>
<circle cx="1020" cy="-95" r="598" stroke="#c8c8c8" stroke-width="8.7" stroke-dasharray="132,47,63,60,114,45,105,86,68,83,41,59,120,45,57,35" stroke-dashoffset="182" opacity="0.70"/>
<circle cx="1020" cy="-95" r="608" stroke="#000" stroke-width="5.5" stroke-dasharray="93,31,55,49,129,35,45,73,92,24,136,30,97,32,120,42" stroke-dashoffset="314" opacity="0.90"/>
<circle cx="1020" cy="-95" r="619" stroke="#c8c8c8" stroke-width="5.9" stroke-dasharray="59,58,85,68,32,19,25,75,45,71,77,86,98,78,36,82" stroke-dashoffset="190" opacity="0.52"/>
<circle cx="1020" cy="-95" r="631" stroke="#000" stroke-width="5.4" stroke-dasharray="100,16,75,49,76,76,58,83,43,87,57,65,132,66,123,21" stroke-dashoffset="483" opacity="0.52"/>
<circle cx="1020" cy="-95" r="642" stroke="#c8c8c8" stroke-width="8.9" stroke-dasharray="113,69,94,89,50,83,117,29,78,47,42,78,123,71,28,69" stroke-dashoffset="463" opacity="0.86"/>
<circle cx="1020" cy="-95" r="655" stroke="#000" stroke-width="9.8" stroke-dasharray="105,70,59,72,61,34,62,38,29,26,56,31,27,70,119,39" stroke-dashoffset="356" opacity="0.93"/>
<circle cx="1020" cy="-95" r="662" stroke="#c8c8c8" stroke-width="7.4" stroke-dasharray="92,27,128,75,86,55,120,19,125,54,59,34,87,22,120,45" stroke-dashoffset="448" opacity="0.98"/>
<circle cx="1020" cy="-95" r="674" stroke="#000" stroke-width="4.7" stroke-dasharray="53,62,133,61,66,75,78,59,77,86,95,23,98,45,44,52" stroke-dashoffset="132" opacity="0.97"/>
<circle cx="1020" cy="-95" r="682" stroke="#c8c8c8" stroke-width="7.3" stroke-dasharray="25,37,99,52,101,58,95,34,131,63,28,77,44,46,99,82" stroke-dashoffset="85" opacity="0.65"/>
<circle cx="1020" cy="-95" r="692" stroke="#000" stroke-width="8.1" stroke-dasharray="78,68,138,19,71,74,118,86,63,33,101,77,116,55,39,67" stroke-dashoffset="127" opacity="0.51"/>
<circle cx="1020" cy="-95" r="699" stroke="#c8c8c8" stroke-width="6.0" stroke-dasharray="67,55,76,53,97,28,116,65,118,57,87,77,100,34,124,29" stroke-dashoffset="137" opacity="0.91"/>
<circle cx="1020" cy="-95" r="709" stroke="#000" stroke-width="4.9" stroke-dasharray="128,59,27,40,64,35,108,32,34,79,91,50,126,66,122,40" stroke-dashoffset="151" opacity="0.67"/>
<circle cx="1020" cy="-95" r="719" stroke="#c8c8c8" stroke-width="7.5" stroke-dasharray="47,57,132,71,25,50,97,19,139,74,89,53,98,44,91,52" stroke-dashoffset="173" opacity="0.74"/>
<circle cx="1020" cy="-95" r="726" stroke="#000" stroke-width="7.7" stroke-dasharray="52,34,42,71,77,58,83,59,66,34,113,69,42,25,65,74" stroke-dashoffset="154" opacity="0.61"/>
<circle cx="1020" cy="-95" r="736" stroke="#c8c8c8" stroke-width="7.0" stroke-dasharray="97,38,70,88,112,31,83,26,137,34,131,31,50,40,62,40" stroke-dashoffset="196" opacity="0.70"/>
<circle cx="1020" cy="-95" r="743" stroke="#000" stroke-width="7.8" stroke-dasharray="104,31,40,17,46,53,96,85,119,26,54,29,32,17,87,86" stroke-dashoffset="488" opacity="0.51"/>
<circle cx="1020" cy="-95" r="752" stroke="#c8c8c8" stroke-width="6.1" stroke-dasharray="123,22,75,80,114,28,84,66,39,79,102,42,63,21,128,29" stroke-dashoffset="293" opacity="0.85"/>
<circle cx="1020" cy="-95" r="763" stroke="#000" stroke-width="8.8" stroke-dasharray="56,65,49,68,111,49,108,65,26,30,49,66,120,32,131,29" stroke-dashoffset="214" opacity="0.92"/>
<circle cx="1020" cy="-95" r="771" stroke="#c8c8c8" stroke-width="9.1" stroke-dasharray="30,36,121,64,39,51,85,17,132,16,131,67,100,42,53,51" stroke-dashoffset="476" opacity="0.55"/>
<circle cx="1020" cy="-95" r="781" stroke="#000" stroke-width="7.6" stroke-dasharray="136,67,134,67,75,85,29,71,26,21,30,48,116,74,96,42" stroke-dashoffset="146" opacity="0.73"/>
<circle cx="1020" cy="-95" r="790" stroke="#c8c8c8" stroke-width="7.1" stroke-dasharray="99,21,131,24,125,16,25,87,62,44,113,21,94,80,80,16" stroke-dashoffset="75" opacity="0.94"/>
<circle cx="1020" cy="-95" r="798" stroke="#000" stroke-width="8.2" stroke-dasharray="98,73,99,55,117,69,51,20,92,58,101,36,138,59,73,27" stroke-dashoffset="91" opacity="0.64"/>
<circle cx="1020" cy="-95" r="809" stroke="#c8c8c8" stroke-width="6.5" stroke-dasharray="118,38,121,87,101,74,58,49,69,45,136,39,136,69,55,47" stroke-dashoffset="214" opacity="0.73"/>
<circle cx="1020" cy="-95" r="822" stroke="#000" stroke-width="7.8" stroke-dasharray="82,58,64,24,69,75,116,17,98,72,97,86,60,27,71,16" stroke-dashoffset="428" opacity="0.72"/>
<circle cx="1020" cy="-95" r="833" stroke="#c8c8c8" stroke-width="7.0" stroke-dasharray="85,43,115,80,139,57,78,57,135,39,26,52,123,25,64,62" stroke-dashoffset="315" opacity="0.67"/>
<circle cx="1020" cy="-95" r="845" stroke="#000" stroke-width="9.0" stroke-dasharray="105,80,40,45,72,36,73,84,110,29,104,63,53,40,40,48" stroke-dashoffset="368" opacity="0.68"/>
<circle cx="1020" cy="-95" r="854" stroke="#c8c8c8" stroke-width="5.5" stroke-dasharray="137,33,75,32,81,73,124,58,131,36,104,42,54,44,48,61" stroke-dashoffset="81" opacity="0.85"/>
<circle cx="1020" cy="-95" r="865" stroke="#000" stroke-width="4.1" stroke-dasharray="68,63,99,61,26,70,40,16,111,47,47,25,68,64,28,53" stroke-dashoffset="226" opacity="0.94"/>
<circle cx="1020" cy="-95" r="874" stroke="#c8c8c8" stroke-width="5.0" stroke-dasharray="93,21,35,82,89,41,49,25,72,46,133,50,69,52,59,52" stroke-dashoffset="195" opacity="0.60"/>
<circle cx="1020" cy="-95" r="884" stroke="#000" stroke-width="8.7" stroke-dasharray="34,60,131,59,77,80,108,40,25,83,76,38,25,31,109,60" stroke-dashoffset="77" opacity="0.88"/>
<circle cx="1020" cy="-95" r="895" stroke="#c8c8c8" stroke-width="4.6" stroke-dasharray="95,40,68,36,86,21,135,26,138,16,72,35,138,40,139,43" stroke-dashoffset="57" opacity="0.69"/>
<circle cx="1020" cy="-95" r="903" stroke="#000" stroke-width="6.9" stroke-dasharray="43,31,41,39,139,55,97,77,74,64,26,54,120,41,38,83" stroke-dashoffset="392" opacity="0.66"/>
<circle cx="1020" cy="-95" r="910" stroke="#c8c8c8" stroke-width="6.3" stroke-dasharray="80,34,123,57,118,54,132,62,82,51,123,61,88,27,126,65" stroke-dashoffset="492" opacity="0.70"/>
<circle cx="1020" cy="-95" r="919" stroke="#000" stroke-width="4.3" stroke-dasharray="63,52,53,69,46,83,42,28,38,74,126,66,52,77,105,34" stroke-dashoffset="450" opacity="0.88"/>
<circle cx="1020" cy="-95" r="927" stroke="#c8c8c8" stroke-width="7.2" stroke-dasharray="26,23,34,76,76,60,130,36,41,34,132,39,30,20,68,81" stroke-dashoffset="112" opacity="0.89"/>
<circle cx="1020" cy="-95" r="937" stroke="#000" stroke-width="9.9" stroke-dasharray="94,32,62,54,71,48,134,17,66,70,128,80,68,41,127,58" stroke-dashoffset="478" opacity="0.56"/>
<circle cx="1020" cy="-95" r="948" stroke="#c8c8c8" stroke-width="8.4" stroke-dasharray="139,33,94,78,77,24,103,27,44,89,78,87,133,25,51,72" stroke-dashoffset="87" opacity="0.55"/>
<circle cx="1020" cy="-95" r="956" stroke="#000" stroke-width="9.2" stroke-dasharray="127,80,69,32,86,17,49,83,138,42,50,60,129,57,86,64" stroke-dashoffset="357" opacity="0.65"/>
<circle cx="1020" cy="-95" r="965" stroke="#c8c8c8" stroke-width="6.9" stroke-dasharray="78,89,47,16,88,88,133,25,139,83,55,33,47,51,88,30" stroke-dashoffset="249" opacity="0.76"/>
<circle cx="1020" cy="-95" r="973" stroke="#000" stroke-width="7.9" stroke-dasharray="39,49,47,25,90,75,85,24,45,80,89,35,69,25,91,15" stroke-dashoffset="391" opacity="0.60"/>
<circle cx="1020" cy="-95" r="982" stroke="#c8c8c8" stroke-width="9.8" stroke-dasharray="31,40,97,62,120,76,77,73,52,74,120,16,113,41,38,25" stroke-dashoffset="133" opacity="0.91"/>
<circle cx="1020" cy="-95" r="994" stroke="#000" stroke-width="7.8" stroke-dasharray="65,35,49,20,77,63,118,71,126,57,110,61,100,73,36,17" stroke-dashoffset="107" opacity="0.70"/>
<circle cx="1020" cy="-95" r="1004" stroke="#c8c8c8" stroke-width="4.4" stroke-dasharray="100,62,64,81,55,40,137,33,47,19,67,59,67,57,99,56" stroke-dashoffset="498" opacity="0.87"/>
<circle cx="1020" cy="-95" r="1011" stroke="#000" stroke-width="9.5" stroke-dasharray="107,72,123,78,52,45,100,54,113,47,105,42,63,62,76,42" stroke-dashoffset="218" opacity="0.69"/>
<circle cx="1020" cy="-95" r="1020" stroke="#c8c8c8" stroke-width="6.3" stroke-dasharray="89,25,67,64,67,74,57,49,77,39,82,82,131,23,117,62" stroke-dashoffset="250" opacity="0.60"/>
<circle cx="1020" cy="-95" r="1029" stroke="#000" stroke-width="6.6" stroke-dasharray="40,80,127,88,33,27,136,58,54,69,93,69,126,32,57,64" stroke-dashoffset="481" opacity="0.77"/>
<circle cx="1020" cy="-95" r="1039" stroke="#c8c8c8" stroke-width="7.0" stroke-dasharray="27,82,86,29,34,47,118,77,118,86,101,35,48,57,79,31" stroke-dashoffset="475" opacity="0.53"/>
<circle cx="1020" cy="-95" r="1047" stroke="#000" stroke-width="5.2" stroke-dasharray="83,68,50,30,107,82,80,82,93,51,55,32,67,83,101,71" stroke-dashoffset="442" opacity="0.92"/>
<circle cx="1020" cy="-95" r="1056" stroke="#c8c8c8" stroke-width="5.1" stroke-dasharray="27,64,43,73,120,27,120,38,84,78,29,31,54,77,128,48" stroke-dashoffset="56" opacity="0.91"/>
<circle cx="1020" cy="-95" r="1065" stroke="#000" stroke-width="7.7" stroke-dasharray="135,72,97,60,84,55,76,68,130,17,51,64,121,57,73,32" stroke-dashoffset="318" opacity="0.53"/>
<circle cx="1020" cy="-95" r="1074" stroke="#c8c8c8" stroke-width="8.9" stroke-dasharray="85,60,45,20,120,24,84,59,72,40,90,58,36,40,105,59" stroke-dashoffset="136" opacity="0.76"/>
<circle cx="1020" cy="-95" r="1083" stroke="#000" stroke-width="4.5" stroke-dasharray="42,74,100,37,71,31,31,35,65,45,36,74,76,16,100,23" stroke-dashoffset="339" opacity="0.72"/>
<circle cx="1020" cy="-95" r="1093" stroke="#c8c8c8" stroke-width="6.2" stroke-dasharray="123,37,38,56,105,32,85,69,38,78,63,52,58,73,95,45" stroke-dashoffset="169" opacity="0.89"/>
<circle cx="1020" cy="-95" r="1102" stroke="#000" stroke-width="5.4" stroke-dasharray="28,80,124,75,138,47,128,61,55,41,62,39,56,40,132,19" stroke-dashoffset="229" opacity="0.88"/>
<circle cx="1020" cy="-95" r="1114" stroke="#c8c8c8" stroke-width="4.2" stroke-dasharray="119,38,98,59,120,83,111,26,58,36,35,33,49,88,95,80" stroke-dashoffset="478" opacity="0.93"/>
<circle cx="1020" cy="-95" r="1125" stroke="#000" stroke-width="6.1" stroke-dasharray="61,46,122,37,83,73,34,64,27,34,102,65,136,64,126,74" stroke-dashoffset="114" opacity="0.99"/>
<circle cx="1020" cy="-95" r="1133" stroke="#c8c8c8" stroke-width="8.5" stroke-dasharray="72,32,62,69,129,50,125,39,123,85,104,42,56,25,118,76" stroke-dashoffset="110" opacity="0.57"/>
<circle cx="1020" cy="-95" r="1145" stroke="#000" stroke-width="9.0" stroke-dasharray="83,16,117,33,83,28,123,60,27,65,51,72,54,55,99,41" stroke-dashoffset="59" opacity="0.69"/>
<circle cx="1020" cy="-95" r="1152" stroke="#c8c8c8" stroke-width="8.9" stroke-dasharray="60,15,79,47,101,49,31,15,137,59,69,31,106,76,94,30" stroke-dashoffset="153" opacity="0.93"/>
<circle cx="1020" cy="-95" r="1162" stroke="#000" stroke-width="8.0" stroke-dasharray="26,58,125,79,121,43,63,51,72,61,70,84,136,48,103,82" stroke-dashoffset="481" opacity="0.73"/>
<circle cx="1020" cy="-95" r="1171" stroke="#c8c8c8" stroke-width="4.1" stroke-dasharray="30,52,40,49,123,38,83,86,77,75,134,37,53,72,81,33" stroke-dashoffset="150" opacity="0.83"/>
<circle cx="1020" cy="-95" r="1180" stroke="#000" stroke-width="8.1" stroke-dasharray="57,35,61,75,45,27,35,65,125,34,138,65,78,48,122,59" stroke-dashoffset="363" opacity="0.59"/>
<circle cx="1020" cy="-95" r="1190" stroke="#c8c8c8" stroke-width="8.8" stroke-dasharray="59,37,55,27,63,33,27,47,71,61,56,85,42,50,34,49" stroke-dashoffset="177" opacity="0.72"/>
<circle cx="1020" cy="-95" r="1199" stroke="#000" stroke-width="6.3" stroke-dasharray="101,37,56,23,71,31,102,51,51,63,137,53,77,60,90,89" stroke-dashoffset="263" opacity="0.53"/>
<circle cx="1020" cy="-95" r="1209" stroke="#c8c8c8" stroke-width="7.6" stroke-dasharray="73,63,117,49,55,18,70,62,28,84,92,35,82,67,86,42" stroke-dashoffset="424" opacity="0.87"/>
<circle cx="1020" cy="-95" r="1222" stroke="#000" stroke-width="6.4" stroke-dasharray="92,22,63,76,131,79,47,37,101,83,53,27,59,40,48,22" stroke-dashoffset="125" opacity="0.94"/>
<circle cx="1020" cy="-95" r="1234" stroke="#c8c8c8" stroke-width="8.9" stroke-dasharray="90,55,73,39,46,16,86,44,68,85,28,23,114,49,95,62" stroke-dashoffset="392" opacity="0.93"/>
<circle cx="1020" cy="-95" r="1246" stroke="#000" stroke-width="8.0" stroke-dasharray="91,28,103,56,112,23,131,82,39,83,128,18,59,54,122,77" stroke-dashoffset="73" opacity="0.91"/>
<circle cx="1020" cy="-95" r="1258" stroke="#c8c8c8" stroke-width="4.4" stroke-dasharray="129,39,37,68,104,88,46,29,55,83,118,87,119,87,118,53" stroke-dashoffset="374" opacity="0.74"/>
<circle cx="1020" cy="-95" r="1269" stroke="#000" stroke-width="4.2" stroke-dasharray="53,28,111,16,86,85,105,70,45,50,29,50,29,39,83,69" stroke-dashoffset="135" opacity="0.88"/>
<circle cx="1020" cy="-95" r="1280" stroke="#c8c8c8" stroke-width="8.0" stroke-dasharray="107,89,118,86,116,73,119,29,69,51,135,80,116,47,115,66" stroke-dashoffset="285" opacity="0.61"/>
<circle cx="1020" cy="-95" r="1292" stroke="#000" stroke-width="4.4" stroke-dasharray="81,64,102,44,55,39,112,85,131,46,84,26,51,21,95,40" stroke-dashoffset="83" opacity="0.71"/>
<circle cx="1020" cy="-95" r="1302" stroke="#c8c8c8" stroke-width="4.5" stroke-dasharray="136,24,92,89,36,30,117,79,101,75,101,75,54,76,131,34" stroke-dashoffset="358" opacity="0.55"/>
<circle cx="1020" cy="-95" r="1311" stroke="#000" stroke-width="10.0" stroke-dasharray="97,32,119,65,114,73,45,32,79,16,58,67,61,40,63,78" stroke-dashoffset="111" opacity="0.94"/>
<circle cx="1020" cy="-95" r="1323" stroke="#c8c8c8" stroke-width="5.1" stroke-dasharray="83,50,96,64,104,17,105,32,86,20,133,17,35,21,32,16" stroke-dashoffset="475" opacity="0.74"/>
<circle cx="1020" cy="-95" r="1333" stroke="#000" stroke-width="9.7" stroke-dasharray="25,66,66,68,86,78,113,88,57,86,96,19,139,41,60,46" stroke-dashoffset="370" opacity="0.75"/>
<circle cx="1020" cy="-95" r="1342" stroke="#c8c8c8" stroke-width="9.4" stroke-dasharray="70,38,105,78,54,80,35,77,96,57,101,55,49,40,35,43" stroke-dashoffset="437" opacity="0.62"/>
<circle cx="1020" cy="-95" r="1355" stroke="#000" stroke-width="7.8" stroke-dasharray="77,65,86,87,50,84,93,62,122,15,130,21,64,28,47,25" stroke-dashoffset="438" opacity="0.86"/>
<circle cx="1020" cy="-95" r="1365" stroke="#c8c8c8" stroke-width="9.6" stroke-dasharray="69,64,26,36,79,29,115,44,130,26,85,69,74,41,52,31" stroke-dashoffset="87" opacity="0.82"/>
<circle cx="1020" cy="-95" r="1376" stroke="#000" stroke-width="4.2" stroke-dasharray="129,43,31,34,31,78,98,26,38,27,88,56,131,79,33,55" stroke-dashoffset="281" opacity="0.70"/>
<circle cx="1020" cy="-95" r="1384" stroke="#c8c8c8" stroke-width="6.0" stroke-dasharray="46,85,123,45,59,84,95,82,81,39,74,15,58,22,70,69" stroke-dashoffset="304" opacity="0.78"/>
<circle cx="1020" cy="-95" r="1393" stroke="#000" stroke-width="9.6" stroke-dasharray="88,71,89,85,69,61,72,70,88,32,98,67,64,21,52,76" stroke-dashoffset="9" opacity="0.61"/>
<circle cx="1020" cy="-95" r="1405" stroke="#c8c8c8" stroke-width="4.7" stroke-dasharray="71,27,128,35,58,85,133,72,58,64,35,57,114,78,41,23" stroke-dashoffset="223" opacity="0.79"/>
<circle cx="1020" cy="-95" r="1412" stroke="#000" stroke-width="5.7" stroke-dasharray="73,84,67,23,66,25,138,21,89,57,81,24,109,55,63,57" stroke-dashoffset="345" opacity="0.75"/>
<circle cx="1020" cy="-95" r="1425" stroke="#c8c8c8" stroke-width="4.4" stroke-dasharray="68,41,136,38,134,32,94,28,72,83,131,62,80,43,131,66" stroke-dashoffset="336" opacity="0.70"/>
<circle cx="1020" cy="-95" r="1434" stroke="#000" stroke-width="8.3" stroke-dasharray="34,39,110,25,77,59,71,88,57,34,127,77,77,57,91,78" stroke-dashoffset="216" opacity="0.80"/>
<circle cx="1020" cy="-95" r="1447" stroke="#c8c8c8" stroke-width="7.2" stroke-dasharray="105,63,30,17,75,38,39,33,106,50,116,64,120,73,120,69" stroke-dashoffset="106" opacity="0.85"/>
<circle cx="1020" cy="-95" r="1456" stroke="#000" stroke-width="8.4" stroke-dasharray="93,50,88,30,137,73,85,86,54,17,86,21,55,59,115,24" stroke-dashoffset="488" opacity="0.54"/>
<circle cx="1020" cy="-95" r="1464" stroke="#c8c8c8" stroke-width="9.5" stroke-dasharray="75,19,106,51,62,86,108,51,117,34,44,57,83,17,66,71" stroke-dashoffset="265" opacity="0.58"/>
<circle cx="1020" cy="-95" r="1472" stroke="#000" stroke-width="8.9" stroke-dasharray="52,36,41,38,102,53,84,78,47,59,68,78,87,33,121,59" stroke-dashoffset="451" opacity="0.68"/>
<circle cx="1020" cy="-95" r="1480" stroke="#c8c8c8" stroke-width="6.2" stroke-dasharray="136,88,69,80,103,85,61,21,71,72,88,46,80,33,63,38" stroke-dashoffset="435" opacity="0.59"/>
<circle cx="1020" cy="-95" r="1493" stroke="#000" stroke-width="7.4" stroke-dasharray="130,49,137,46,31,54,115,83,116,34,99,38,114,85,132,71" stroke-dashoffset="367" opacity="0.59"/>
<circle cx="1020" cy="-95" r="1503" stroke="#c8c8c8" stroke-width="8.8" stroke-dasharray="119,64,118,33,133,18,28,79,39,46,123,84,96,36,65,15" stroke-dashoffset="401" opacity="0.78"/>
<circle cx="1020" cy="-95" r="1510" stroke="#000" stroke-width="4.1" stroke-dasharray="50,71,74,22,95,29,89,17,127,41,59,36,85,62,69,29" stroke-dashoffset="466" opacity="0.98"/>
<circle cx="1020" cy="-95" r="1521" stroke="#c8c8c8" stroke-width="5.0" stroke-dasharray="66,21,90,87,61,48,134,28,126,82,63,79,32,24,91,18" stroke-dashoffset="43" opacity="0.78"/>
<circle cx="1020" cy="-95" r="1532" stroke="#000" stroke-width="8.6" stroke-dasharray="84,23,61,15,66,84,69,50,107,72,85,61,27,39,124,78" stroke-dashoffset="42" opacity="0.89"/>
<circle cx="1020" cy="-95" r="1544" stroke="#c8c8c8" stroke-width="6.9" stroke-dasharray="61,89,125,17,82,36,86,75,44,30,123,32,87,53,47,59" stroke-dashoffset="109" opacity="0.51"/>
<circle cx="1020" cy="-95" r="1554" stroke="#000" stroke-width="5.4" stroke-dasharray="110,83,133,45,112,20,100,27,107,39,76,63,87,61,134,16" stroke-dashoffset="78" opacity="0.66"/>
<circle cx="1020" cy="-95" r="1564" stroke="#c8c8c8" stroke-width="8.7" stroke-dasharray="48,21,81,39,51,48,31,70,80,40,101,40,45,40,44,39" stroke-dashoffset="421" opacity="0.66"/>
<circle cx="1020" cy="-95" r="1574" stroke="#000" stroke-width="5.4" stroke-dasharray="31,46,58,42,68,81,119,50,52,41,75,17,91,81,44,36" stroke-dashoffset="183" opacity="0.66"/>
<circle cx="1020" cy="-95" r="1582" stroke="#c8c8c8" stroke-width="6.6" stroke-dasharray="86,79,72,38,62,76,25,25,40,39,103,61,28,61,40,37" stroke-dashoffset="171" opacity="0.77"/>
<circle cx="1020" cy="-95" r="1590" stroke="#000" stroke-width="8.5" stroke-dasharray="94,53,61,72,111,53,61,31,59,50,114,69,136,88,65,78" stroke-dashoffset="197" opacity="0.68"/>
<circle cx="1020" cy="-95" r="1599" stroke="#c8c8c8" stroke-width="5.9" stroke-dasharray="58,43,126,17,109,64,126,52,87,67,89,47,120,39,114,48" stroke-dashoffset="49" opacity="0.80"/>
<circle cx="1020" cy="-95" r="1607" stroke="#000" stroke-width="8.0" stroke-dasharray="134,79,123,88,29,85,122,23,30,75,80,30,82,74,132,42" stroke-dashoffset="410" opacity="0.82"/>
<circle cx="1020" cy="-95" r="1617" stroke="#c8c8c8" stroke-width="9.4" stroke-dasharray="115,64,62,74,41,17,63,60,105,89,104,46,35,39,67,86" stroke-dashoffset="247" opacity="0.98"/>
<circle cx="1020" cy="-95" r="1628" stroke="#000" stroke-width="4.4" stroke-dasharray="43,45,89,74,139,32,132,89,127,60,56,45,43,39,45,19" stroke-dashoffset="251" opacity="0.86"/>
<circle cx="1020" cy="-95" r="1636" stroke="#c8c8c8" stroke-width="7.9" stroke-dasharray="68,40,107,53,134,68,70,66,27,17,113,29,47,16,120,86" stroke-dashoffset="96" opacity="0.87"/>
<circle cx="1020" cy="-95" r="1647" stroke="#000" stroke-width="5.5" stroke-dasharray="66,32,118,67,60,69,91,60,108,67,30,88,137,77,35,78" stroke-dashoffset="109" opacity="0.67"/>
<circle cx="1020" cy="-95" r="1658" stroke="#c8c8c8" stroke-width="5.6" stroke-dasharray="79,67,74,68,107,87,62,74,62,77,54,66,41,74,57,60" stroke-dashoffset="0" opacity="0.69"/>
<circle cx="1020" cy="-95" r="1668" stroke="#000" stroke-width="8.6" stroke-dasharray="129,83,61,69,68,69,69,22,32,32,106,54,121,63,103,67" stroke-dashoffset="58" opacity="0.97"/>
<circle cx="1020" cy="-95" r="1677" stroke="#c8c8c8" stroke-width="4.1" stroke-dasharray="50,39,71,38,116,36,55,42,126,85,35,83,73,43,124,79" stroke-dashoffset="396" opacity="0.62"/>
<circle cx="1020" cy="-95" r="1686" stroke="#000" stroke-width="7.0" stroke-dasharray="110,16,44,59,90,58,34,36,48,66,120,59,52,69,79,35" stroke-dashoffset="195" opacity="0.71"/>
<circle cx="1020" cy="-95" r="1697" stroke="#c8c8c8" stroke-width="7.6" stroke-dasharray="25,37,114,45,68,28,89,62,118,23,79,37,32,66,136,15" stroke-dashoffset="44" opacity="0.51"/>
<circle cx="1020" cy="-95" r="1708" stroke="#000" stroke-width="8.1" stroke-dasharray="120,30,100,28,109,89,28,59,119,62,105,74,137,38,134,15" stroke-dashoffset="255" opacity="0.80"/>
<circle cx="1020" cy="-95" r="1721" stroke="#c8c8c8" stroke-width="9.5" stroke-dasharray="48,60,102,58,29,85,67,73,119,27,25,71,109,40,119,15" stroke-dashoffset="266" opacity="0.94"/>
<circle cx="1020" cy="-95" r="1733" stroke="#000" stroke-width="9.9" stroke-dasharray="135,42,91,41,37,62,120,59,35,71,122,27,80,27,30,20" stroke-dashoffset="409" opacity="0.52"/>
<circle cx="1020" cy="-95" r="1746" stroke="#c8c8c8" stroke-width="6.1" stroke-dasharray="86,28,84,87,52,74,65,43,89,66,40,15,49,82,93,31" stroke-dashoffset="275" opacity="0.61"/>
<circle cx="1020" cy="-95" r="1757" stroke="#000" stroke-width="4.5" stroke-dasharray="59,48,135,36,57,34,61,85,57,44,138,86,25,46,91,74" stroke-dashoffset="64" opacity="0.68"/>
<circle cx="1020" cy="-95" r="1770" stroke="#c8c8c8" stroke-width="9.8" stroke-dasharray="28,85,53,44,35,44,46,31,59,21,55,27,58,81,32,34" stroke-dashoffset="38" opacity="0.79"/>
<circle cx="1020" cy="-95" r="1778" stroke="#000" stroke-width="6.9" stroke-dasharray="96,65,126,54,139,16,37,44,35,30,97,76,71,30,137,64" stroke-dashoffset="182" opacity="0.71"/>
<circle cx="1020" cy="-95" r="1787" stroke="#c8c8c8" stroke-width="6.0" stroke-dasharray="88,81,126,21,31,86,75,86,51,66,77,25,42,21,25,85" stroke-dashoffset="169" opacity="1.00"/>
<circle cx="1020" cy="-95" r="1799" stroke="#000" stroke-width="9.4" stroke-dasharray="39,53,34,37,89,74,121,32,94,53,77,82,129,51,49,71" stroke-dashoffset="364" opacity="0.64"/>
<circle cx="1020" cy="-95" r="1809" stroke="#c8c8c8" stroke-width="7.3" stroke-dasharray="50,89,109,44,80,30,91,73,75,84,45,32,128,52,30,31" stroke-dashoffset="92" opacity="0.52"/>
<circle cx="1020" cy="-95" r="1820" stroke="#000" stroke-width="6.5" stroke-dasharray="118,58,93,29,35,36,134,47,135,60,76,62,42,19,105,81" stroke-dashoffset="58" opacity="0.67"/>
<circle cx="1020" cy="-95" r="1832" stroke="#c8c8c8" stroke-width="4.8" stroke-dasharray="91,86,103,30,48,25,33,55,134,50,101,15,91,27,105,26" stroke-dashoffset="403" opacity="0.79"/>
<circle cx="1020" cy="-95" r="1841" stroke="#000" stroke-width="6.6" stroke-dasharray="71,88,120,58,130,15,117,82,49,83,51,75,42,47,116,43" stroke-dashoffset="44" opacity="0.64"/>
<circle cx="1020" cy="-95" r="1851" stroke="#c8c8c8" stroke-width="5.6" stroke-dasharray="57,82,105,83,46,78,111,71,122,52,60,87,31,79,35,71" stroke-dashoffset="268" opacity="0.74"/>
<circle cx="1020" cy="-95" r="1862" stroke="#000" stroke-width="9.3" stroke-dasharray="95,61,55,62,66,56,35,81,62,25,106,52,124,46,81,24" stroke-dashoffset="18" opacity="0.70"/>
<circle cx="1020" cy="-95" r="1871" stroke="#c8c8c8" stroke-width="9.8" stroke-dasharray="69,60,125,43,58,16,42,56,105,64,124,22,97,21,114,24" stroke-dashoffset="202" opacity="0.74"/>
<circle cx="1020" cy="-95" r="1883" stroke="#000" stroke-width="6.9" stroke-dasharray="94,52,34,76,106,47,97,28,74,35,99,32,121,56,116,54" stroke-dashoffset="342" opacity="0.98"/>
<circle cx="1020" cy="-95" r="1895" stroke="#c8c8c8" stroke-width="4.8" stroke-dasharray="64,82,45,82,69,31,74,30,127,22,135,87,101,70,32,53" stroke-dashoffset="318" opacity="0.55"/>
<circle cx="1020" cy="-95" r="1906" stroke="#000" stroke-width="5.4" stroke-dasharray="133,19,117,62,68,47,111,42,62,55,76,78,55,53,112,15" stroke-dashoffset="117" opacity="0.71"/>
<circle cx="1020" cy="-95" r="1913" stroke="#c8c8c8" stroke-width="7.1" stroke-dasharray="134,33,28,87,121,83,82,23,25,40,90,23,72,75,80,63" stroke-dashoffset="428" opacity="0.60"/>
<circle cx="1020" cy="-95" r="1921" stroke="#000" stroke-width="9.5" stroke-dasharray="71,19,69,54,62,23,51,72,95,63,116,46,30,39,124,75" stroke-dashoffset="341" opacity="0.99"/>
<circle cx="1020" cy="-95" r="1929" stroke="#c8c8c8" stroke-width="4.6" stroke-dasharray="62,34,124,67,92,57,121,57,76,59,86,53,116,41,86,61" stroke-dashoffset="442" opacity="0.52"/>
<circle cx="1020" cy="-95" r="1940" stroke="#000" stroke-width="8.3" stroke-dasharray="97,84,79,60,86,58,138,65,108,82,25,70,31,77,112,39" stroke-dashoffset="182" opacity="0.86"/>
<circle cx="1020" cy="-95" r="1953" stroke="#c8c8c8" stroke-width="4.2" stroke-dasharray="106,23,86,36,37,49,72,50,139,62,55,53,93,88,63,61" stroke-dashoffset="252" opacity="0.90"/>
<circle cx="1020" cy="-95" r="1961" stroke="#000" stroke-width="4.3" stroke-dasharray="71,72,92,25,88,79,60,22,37,39,83,36,93,38,116,82" stroke-dashoffset="458" opacity="0.71"/>
<circle cx="1020" cy="-95" r="1970" stroke="#c8c8c8" stroke-width="5.8" stroke-dasharray="97,34,48,23,104,43,75,27,37,88,89,82,63,85,63,23" stroke-dashoffset="303" opacity="0.91"/>
<circle cx="1020" cy="-95" r="1983" stroke="#000" stroke-width="9.6" stroke-dasharray="30,61,104,55,59,36,56,21,109,66,58,53,60,16,121,26" stroke-dashoffset="66" opacity="0.91"/>
<circle cx="1020" cy="-95" r="1994" stroke="#c8c8c8" stroke-width="5.6" stroke-dasharray="122,41,60,19,45,58,109,22,94,67,102,75,130,40,124,45" stroke-dashoffset="351" opacity="0.67"/>
</g>
<filter id="sbD2" x="-10%" y="-10%" width="120%" height="120%"><feGaussianBlur stdDeviation="8"/></filter>
<g style="mix-blend-mode:overlay" opacity="0.45" filter="url(#sbD2)" fill="none">
<circle cx="1020" cy="-95" r="300" stroke="#c8c8c8" stroke-width="26.8" stroke-dasharray="125,78,224,58,155,129,182,63,186,120,230,44,251,67,222,121" stroke-dashoffset="417" opacity="0.59"/>
<circle cx="1020" cy="-95" r="321" stroke="#000" stroke-width="15.4" stroke-dasharray="215,125,100,70,76,72,172,110,200,52,227,197,207,158,229,55" stroke-dashoffset="230" opacity="0.54"/>
<circle cx="1020" cy="-95" r="349" stroke="#c8c8c8" stroke-width="22.6" stroke-dasharray="81,111,215,128,84,189,71,174,254,160,249,124,103,115,207,162" stroke-dashoffset="192" opacity="0.97"/>
<circle cx="1020" cy="-95" r="367" stroke="#000" stroke-width="21.9" stroke-dasharray="67,97,257,58,257,184,197,48,154,150,79,87,78,174,243,187" stroke-dashoffset="375" opacity="0.79"/>
<circle cx="1020" cy="-95" r="384" stroke="#c8c8c8" stroke-width="21.7" stroke-dasharray="212,160,65,41,77,187,82,102,155,181,87,81,214,53,92,44" stroke-dashoffset="479" opacity="0.62"/>
<circle cx="1020" cy="-95" r="409" stroke="#000" stroke-width="20.1" stroke-dasharray="256,153,180,118,113,174,80,139,119,84,150,70,178,51,63,62" stroke-dashoffset="44" opacity="0.94"/>
<circle cx="1020" cy="-95" r="433" stroke="#c8c8c8" stroke-width="24.9" stroke-dasharray="215,66,250,101,152,118,199,162,98,172,145,80,232,179,231,91" stroke-dashoffset="456" opacity="0.89"/>
<circle cx="1020" cy="-95" r="463" stroke="#000" stroke-width="26.1" stroke-dasharray="259,116,209,164,164,120,140,178,135,159,172,153,121,52,195,63" stroke-dashoffset="179" opacity="0.89"/>
<circle cx="1020" cy="-95" r="481" stroke="#c8c8c8" stroke-width="28.6" stroke-dasharray="177,129,195,49,64,155,177,142,224,83,92,195,72,122,184,192" stroke-dashoffset="43" opacity="0.85"/>
<circle cx="1020" cy="-95" r="499" stroke="#000" stroke-width="21.3" stroke-dasharray="184,175,69,159,89,104,256,176,75,40,66,164,67,165,221,170" stroke-dashoffset="468" opacity="0.82"/>
<circle cx="1020" cy="-95" r="528" stroke="#c8c8c8" stroke-width="22.7" stroke-dasharray="193,51,170,198,137,154,95,117,168,163,124,115,97,132,247,101" stroke-dashoffset="329" opacity="0.78"/>
<circle cx="1020" cy="-95" r="547" stroke="#000" stroke-width="25.1" stroke-dasharray="102,138,258,89,193,94,188,70,160,165,102,96,105,65,194,173" stroke-dashoffset="263" opacity="0.72"/>
<circle cx="1020" cy="-95" r="568" stroke="#c8c8c8" stroke-width="17.8" stroke-dasharray="248,116,196,84,94,41,119,107,164,138,198,180,220,149,220,126" stroke-dashoffset="236" opacity="0.96"/>
<circle cx="1020" cy="-95" r="598" stroke="#000" stroke-width="20.2" stroke-dasharray="233,108,210,43,178,191,147,179,196,43,75,92,254,145,179,177" stroke-dashoffset="175" opacity="0.57"/>
<circle cx="1020" cy="-95" r="621" stroke="#c8c8c8" stroke-width="28.5" stroke-dasharray="93,118,118,97,78,185,111,166,94,108,64,134,161,109,100,142" stroke-dashoffset="17" opacity="0.97"/>
<circle cx="1020" cy="-95" r="645" stroke="#000" stroke-width="23.8" stroke-dasharray="144,43,66,156,157,84,167,179,161,122,176,179,66,146,175,154" stroke-dashoffset="82" opacity="0.91"/>
<circle cx="1020" cy="-95" r="673" stroke="#c8c8c8" stroke-width="18.4" stroke-dasharray="249,48,169,53,97,142,201,116,109,127,149,101,142,113,133,59" stroke-dashoffset="248" opacity="0.64"/>
<circle cx="1020" cy="-95" r="701" stroke="#000" stroke-width="29.3" stroke-dasharray="209,92,155,158,105,167,68,194,171,163,180,175,144,54,101,159" stroke-dashoffset="491" opacity="0.61"/>
<circle cx="1020" cy="-95" r="725" stroke="#c8c8c8" stroke-width="26.5" stroke-dasharray="120,77,212,58,126,135,159,191,156,105,97,170,69,42,133,168" stroke-dashoffset="127" opacity="0.73"/>
<circle cx="1020" cy="-95" r="743" stroke="#000" stroke-width="18.5" stroke-dasharray="247,177,79,192,153,61,133,193,96,161,247,186,211,187,82,151" stroke-dashoffset="481" opacity="0.76"/>
<circle cx="1020" cy="-95" r="760" stroke="#c8c8c8" stroke-width="18.6" stroke-dasharray="148,106,204,67,61,145,257,117,196,153,194,167,66,152,147,101" stroke-dashoffset="401" opacity="0.56"/>
<circle cx="1020" cy="-95" r="790" stroke="#000" stroke-width="27.0" stroke-dasharray="226,187,103,134,240,126,196,56,193,44,162,44,121,57,115,60" stroke-dashoffset="340" opacity="0.76"/>
<circle cx="1020" cy="-95" r="818" stroke="#c8c8c8" stroke-width="27.0" stroke-dasharray="201,136,164,163,146,100,139,43,101,139,138,108,79,64,234,168" stroke-dashoffset="179" opacity="0.96"/>
<circle cx="1020" cy="-95" r="843" stroke="#000" stroke-width="26.0" stroke-dasharray="90,193,150,62,73,50,60,164,218,82,119,185,106,184,224,105" stroke-dashoffset="228" opacity="0.70"/>
<circle cx="1020" cy="-95" r="865" stroke="#c8c8c8" stroke-width="25.3" stroke-dasharray="195,198,84,89,165,166,258,171,78,162,103,108,74,44,145,180" stroke-dashoffset="145" opacity="0.51"/>
<circle cx="1020" cy="-95" r="892" stroke="#000" stroke-width="18.5" stroke-dasharray="77,72,236,184,159,116,198,94,137,164,193,182,174,172,227,77" stroke-dashoffset="320" opacity="0.78"/>
<circle cx="1020" cy="-95" r="911" stroke="#c8c8c8" stroke-width="17.5" stroke-dasharray="138,191,66,194,249,104,184,88,68,43,206,76,161,85,61,102" stroke-dashoffset="230" opacity="0.98"/>
<circle cx="1020" cy="-95" r="935" stroke="#000" stroke-width="29.5" stroke-dasharray="140,174,163,43,244,149,175,109,61,179,70,57,215,87,127,83" stroke-dashoffset="233" opacity="0.89"/>
<circle cx="1020" cy="-95" r="957" stroke="#c8c8c8" stroke-width="16.1" stroke-dasharray="170,96,238,49,143,107,221,69,218,128,225,169,160,155,87,160" stroke-dashoffset="106" opacity="0.78"/>
<circle cx="1020" cy="-95" r="976" stroke="#000" stroke-width="29.2" stroke-dasharray="140,144,161,150,98,163,137,142,246,145,211,118,154,186,154,46" stroke-dashoffset="156" opacity="0.74"/>
<circle cx="1020" cy="-95" r="993" stroke="#c8c8c8" stroke-width="15.6" stroke-dasharray="173,67,248,59,121,54,136,41,182,62,82,96,82,80,248,90" stroke-dashoffset="349" opacity="0.83"/>
<circle cx="1020" cy="-95" r="1020" stroke="#000" stroke-width="21.3" stroke-dasharray="148,143,88,47,81,44,152,54,150,131,108,148,161,90,165,45" stroke-dashoffset="273" opacity="0.59"/>
<circle cx="1020" cy="-95" r="1050" stroke="#c8c8c8" stroke-width="22.9" stroke-dasharray="165,74,76,65,129,67,237,87,144,101,133,68,196,173,173,77" stroke-dashoffset="384" opacity="0.52"/>
<circle cx="1020" cy="-95" r="1077" stroke="#000" stroke-width="21.0" stroke-dasharray="98,196,74,91,192,47,212,40,95,180,68,179,92,101,119,144" stroke-dashoffset="316" opacity="0.59"/>
<circle cx="1020" cy="-95" r="1097" stroke="#c8c8c8" stroke-width="21.8" stroke-dasharray="242,116,189,168,195,176,136,156,79,72,72,176,94,115,126,84" stroke-dashoffset="66" opacity="0.72"/>
<circle cx="1020" cy="-95" r="1121" stroke="#000" stroke-width="22.5" stroke-dasharray="195,180,167,127,95,100,121,152,85,115,106,182,94,131,123,135" stroke-dashoffset="11" opacity="0.89"/>
<circle cx="1020" cy="-95" r="1142" stroke="#c8c8c8" stroke-width="20.3" stroke-dasharray="178,188,172,123,77,66,95,176,63,169,126,163,153,186,137,66" stroke-dashoffset="182" opacity="0.80"/>
<circle cx="1020" cy="-95" r="1161" stroke="#000" stroke-width="24.3" stroke-dasharray="227,40,255,93,175,188,185,190,207,182,214,121,106,141,226,48" stroke-dashoffset="402" opacity="0.71"/>
<circle cx="1020" cy="-95" r="1181" stroke="#c8c8c8" stroke-width="15.6" stroke-dasharray="210,108,67,77,69,84,92,106,75,41,194,190,204,59,252,173" stroke-dashoffset="473" opacity="0.69"/>
<circle cx="1020" cy="-95" r="1205" stroke="#000" stroke-width="23.7" stroke-dasharray="258,191,124,43,178,160,74,182,76,150,216,195,116,120,81,152" stroke-dashoffset="481" opacity="0.97"/>
<circle cx="1020" cy="-95" r="1222" stroke="#c8c8c8" stroke-width="16.0" stroke-dasharray="258,189,207,162,145,140,241,111,137,85,150,133,105,63,104,59" stroke-dashoffset="73" opacity="0.71"/>
<circle cx="1020" cy="-95" r="1250" stroke="#000" stroke-width="20.3" stroke-dasharray="195,119,167,188,90,144,119,90,184,198,65,88,241,69,151,77" stroke-dashoffset="67" opacity="0.85"/>
<circle cx="1020" cy="-95" r="1280" stroke="#c8c8c8" stroke-width="24.3" stroke-dasharray="202,86,231,94,105,136,96,172,139,179,188,195,93,79,181,78" stroke-dashoffset="280" opacity="0.63"/>
<circle cx="1020" cy="-95" r="1306" stroke="#000" stroke-width="26.7" stroke-dasharray="242,154,98,80,242,143,82,146,118,160,74,173,119,196,250,81" stroke-dashoffset="410" opacity="0.70"/>
<circle cx="1020" cy="-95" r="1337" stroke="#c8c8c8" stroke-width="20.8" stroke-dasharray="192,188,68,121,249,193,243,137,209,178,153,44,215,175,154,141" stroke-dashoffset="22" opacity="0.96"/>
<circle cx="1020" cy="-95" r="1360" stroke="#000" stroke-width="16.7" stroke-dasharray="120,81,135,110,199,171,78,131,212,94,127,52,161,60,190,43" stroke-dashoffset="472" opacity="0.83"/>
<circle cx="1020" cy="-95" r="1380" stroke="#c8c8c8" stroke-width="22.5" stroke-dasharray="113,110,225,172,180,153,176,46,252,60,211,120,232,77,209,182" stroke-dashoffset="135" opacity="0.64"/>
<circle cx="1020" cy="-95" r="1409" stroke="#000" stroke-width="21.3" stroke-dasharray="140,132,208,41,256,112,60,133,146,98,173,53,190,90,200,84" stroke-dashoffset="159" opacity="1.00"/>
<circle cx="1020" cy="-95" r="1437" stroke="#c8c8c8" stroke-width="24.0" stroke-dasharray="130,62,179,109,221,40,176,45,161,104,136,49,118,59,111,161" stroke-dashoffset="131" opacity="0.92"/>
<circle cx="1020" cy="-95" r="1460" stroke="#000" stroke-width="29.9" stroke-dasharray="84,127,84,152,92,99,235,80,140,59,202,127,131,144,184,180" stroke-dashoffset="463" opacity="0.81"/>
<circle cx="1020" cy="-95" r="1485" stroke="#c8c8c8" stroke-width="16.0" stroke-dasharray="60,63,171,172,197,97,115,185,66,193,217,67,225,139,149,60" stroke-dashoffset="488" opacity="0.73"/>
<circle cx="1020" cy="-95" r="1513" stroke="#000" stroke-width="15.4" stroke-dasharray="170,56,88,156,177,119,65,172,202,41,133,135,122,107,91,162" stroke-dashoffset="138" opacity="0.95"/>
<circle cx="1020" cy="-95" r="1536" stroke="#c8c8c8" stroke-width="29.1" stroke-dasharray="73,75,212,73,81,101,216,152,202,120,159,87,143,84,178,187" stroke-dashoffset="335" opacity="0.95"/>
<circle cx="1020" cy="-95" r="1556" stroke="#000" stroke-width="22.4" stroke-dasharray="131,180,112,122,91,40,240,91,115,181,81,68,72,138,112,71" stroke-dashoffset="499" opacity="0.91"/>
<circle cx="1020" cy="-95" r="1580" stroke="#c8c8c8" stroke-width="24.3" stroke-dasharray="91,152,210,107,195,92,76,80,95,140,130,161,173,134,89,128" stroke-dashoffset="193" opacity="0.80"/>
<circle cx="1020" cy="-95" r="1610" stroke="#000" stroke-width="25.4" stroke-dasharray="225,144,115,51,176,57,62,54,258,154,149,103,94,124,171,47" stroke-dashoffset="41" opacity="0.63"/>
<circle cx="1020" cy="-95" r="1633" stroke="#c8c8c8" stroke-width="28.0" stroke-dasharray="255,48,226,77,165,167,145,155,210,88,109,196,195,76,74,111" stroke-dashoffset="316" opacity="0.91"/>
<circle cx="1020" cy="-95" r="1651" stroke="#000" stroke-width="27.7" stroke-dasharray="100,130,256,114,129,134,76,57,210,90,168,85,197,49,73,81" stroke-dashoffset="260" opacity="0.82"/>
<circle cx="1020" cy="-95" r="1678" stroke="#c8c8c8" stroke-width="17.0" stroke-dasharray="118,173,230,122,231,144,94,177,83,64,211,181,206,162,119,103" stroke-dashoffset="411" opacity="0.69"/>
<circle cx="1020" cy="-95" r="1696" stroke="#000" stroke-width="18.7" stroke-dasharray="81,90,109,95,84,192,79,92,239,127,157,155,252,87,171,114" stroke-dashoffset="53" opacity="0.72"/>
<circle cx="1020" cy="-95" r="1715" stroke="#c8c8c8" stroke-width="21.9" stroke-dasharray="219,163,79,102,117,132,230,140,94,45,91,102,91,55,114,67" stroke-dashoffset="360" opacity="0.99"/>
<circle cx="1020" cy="-95" r="1741" stroke="#000" stroke-width="17.3" stroke-dasharray="92,199,230,118,195,193,200,138,173,96,148,107,189,148,67,170" stroke-dashoffset="327" opacity="0.77"/>
<circle cx="1020" cy="-95" r="1771" stroke="#c8c8c8" stroke-width="21.4" stroke-dasharray="119,73,121,133,166,99,177,168,239,197,111,179,114,116,74,148" stroke-dashoffset="322" opacity="0.87"/>
<circle cx="1020" cy="-95" r="1800" stroke="#000" stroke-width="16.3" stroke-dasharray="76,133,167,81,130,102,204,116,120,70,70,135,107,106,95,139" stroke-dashoffset="459" opacity="0.79"/>
<circle cx="1020" cy="-95" r="1824" stroke="#c8c8c8" stroke-width="17.1" stroke-dasharray="130,148,185,128,216,110,228,188,101,156,144,196,69,89,173,184" stroke-dashoffset="107" opacity="0.57"/>
<circle cx="1020" cy="-95" r="1853" stroke="#000" stroke-width="19.8" stroke-dasharray="61,115,202,152,199,186,193,152,253,170,101,49,203,124,154,174" stroke-dashoffset="79" opacity="0.72"/>
<circle cx="1020" cy="-95" r="1872" stroke="#c8c8c8" stroke-width="23.6" stroke-dasharray="171,71,212,80,71,86,213,163,139,156,104,77,100,156,175,157" stroke-dashoffset="291" opacity="0.65"/>
<circle cx="1020" cy="-95" r="1898" stroke="#000" stroke-width="25.9" stroke-dasharray="92,110,162,159,254,81,68,52,85,186,98,84,149,121,210,148" stroke-dashoffset="78" opacity="0.66"/>
<circle cx="1020" cy="-95" r="1924" stroke="#c8c8c8" stroke-width="19.4" stroke-dasharray="214,116,120,59,64,135,143,124,157,194,133,126,220,123,249,87" stroke-dashoffset="233" opacity="0.78"/>
<circle cx="1020" cy="-95" r="1948" stroke="#000" stroke-width="21.6" stroke-dasharray="89,169,165,190,104,64,223,45,124,147,123,83,101,151,178,196" stroke-dashoffset="18" opacity="0.61"/>
<circle cx="1020" cy="-95" r="1976" stroke="#c8c8c8" stroke-width="18.6" stroke-dasharray="257,54,132,44,175,76,79,114,252,99,247,127,242,57,163,166" stroke-dashoffset="316" opacity="0.96"/>
<circle cx="1020" cy="-95" r="1996" stroke="#000" stroke-width="17.8" stroke-dasharray="182,178,153,79,146,146,212,157,114,156,183,93,111,132,171,192" stroke-dashoffset="320" opacity="0.56"/>
</g>
<g filter="url(#bD6)">
<ellipse cx="395" cy="425" rx="38" ry="48" fill="url(#gBlue)" transform="rotate(0 395 425)"/>
<ellipse cx="478" cy="352" rx="24" ry="36" fill="url(#gBlue)" transform="rotate(0 478 352)"/>
<ellipse cx="458" cy="440" rx="52" ry="82" fill="url(#gOr)" transform="rotate(10 458 440)"/>
<ellipse cx="598" cy="410" rx="32" ry="90" fill="url(#gBlue)" transform="rotate(0 598 410)"/>
<ellipse cx="665" cy="330" rx="38" ry="40" fill="url(#gBlue)" transform="rotate(0 665 330)"/>
<ellipse cx="722" cy="340" rx="20" ry="42" fill="url(#gOr)" transform="rotate(20 722 340)"/>
<ellipse cx="632" cy="785" rx="30" ry="30" fill="url(#gBlue)" transform="rotate(0 632 785)"/>
<ellipse cx="835" cy="760" rx="26" ry="65" fill="url(#gOr)" transform="rotate(25 835 760)"/>
<ellipse cx="1655" cy="630" rx="62" ry="195" fill="url(#gCy)" transform="rotate(5 1655 630)"/>
<ellipse cx="1570" cy="800" rx="30" ry="40" fill="url(#gBlue)" transform="rotate(0 1570 800)"/>
<ellipse cx="1490" cy="985" rx="110" ry="45" fill="url(#gOr)" transform="rotate(-40 1490 985)"/>
<ellipse cx="1540" cy="1010" rx="70" ry="25" fill="url(#gOr)" transform="rotate(-30 1540 1010)"/>
<ellipse cx="1555" cy="895" rx="32" ry="28" fill="url(#gBlue)" transform="rotate(0 1555 895)"/>
<ellipse cx="1180" cy="592" rx="18" ry="40" fill="url(#gCy)" transform="rotate(-20 1180 592)"/>
<ellipse cx="1370" cy="660" rx="16" ry="42" fill="url(#gCy)" transform="rotate(-15 1370 660)"/>
<ellipse cx="1020" cy="770" rx="18" ry="30" fill="url(#gOr)" transform="rotate(0 1020 770)"/>
<ellipse cx="1060" cy="675" rx="18" ry="25" fill="url(#gOr)" transform="rotate(0 1060 675)"/>
<ellipse cx="1005" cy="455" rx="14" ry="18" fill="url(#gOr)" transform="rotate(0 1005 455)"/>
<ellipse cx="905" cy="945" rx="14" ry="38" fill="url(#gOr)" transform="rotate(-35 905 945)"/>
<ellipse cx="885" cy="1015" rx="14" ry="16" fill="url(#gOr)" transform="rotate(0 885 1015)"/>
<ellipse cx="1450" cy="820" rx="18" ry="45" fill="url(#gOr)" transform="rotate(20 1450 820)"/>
<ellipse cx="1490" cy="490" rx="12" ry="14" fill="url(#gOr)" transform="rotate(0 1490 490)"/>
<ellipse cx="1445" cy="630" rx="11" ry="12" fill="url(#gOr)" transform="rotate(0 1445 630)"/>
<ellipse cx="415" cy="640" rx="18" ry="22" fill="url(#gOr)" transform="rotate(30 415 640)"/>
<ellipse cx="1180" cy="880" rx="18" ry="20" fill="url(#gBlue)" transform="rotate(0 1180 880)"/>
<ellipse cx="1120" cy="825" rx="18" ry="16" fill="url(#gBlue)" transform="rotate(0 1120 825)"/>
<ellipse cx="1315" cy="780" rx="16" ry="20" fill="url(#gBlue)" transform="rotate(0 1315 780)"/>
<ellipse cx="1500" cy="688" rx="12" ry="12" fill="url(#gBlue)" transform="rotate(0 1500 688)"/>
<ellipse cx="1105" cy="1218" rx="45" ry="10" fill="url(#gBlue)" transform="rotate(0 1105 1218)"/>
<ellipse cx="632" cy="262" rx="28" ry="12" fill="url(#gBlue)" transform="rotate(-20 632 262)"/>
<ellipse cx="980" cy="450" rx="14" ry="14" fill="url(#gBlue)" transform="rotate(0 980 450)"/>
<path d="M840,340 C800,420 760,470 730,540" stroke="#4aa0f8" stroke-width="42" fill="none" stroke-linecap="round"/>
<path d="M790,450 C770,480 745,520 735,545" stroke="#a8e4ff" stroke-width="18" fill="none" stroke-linecap="round"/>
<path d="M730,540 C700,600 685,680 690,760 C695,800 700,830 715,855" stroke="#f0582e" stroke-width="40" fill="none" stroke-linecap="round"/>
<path d="M735,600 C720,660 720,720 740,800" stroke="#3c74e8" stroke-width="20" fill="none" stroke-linecap="round"/>
<path d="M705,760 C705,800 712,830 720,850" stroke="#ffa080" stroke-width="20" fill="none" stroke-linecap="round"/>
</g>
<path d="M0,0 L540,0 L540,25 L15,168 L0,168 Z" fill="#000"/>
<path d="M1495,0 L2100,0 L2100,165 L2018,162 L1500,25 Z" fill="#000"/>
</g>
</g>
<path d="M1189.4,1669.7 L1580.0,1403.4 A215.5,215.5 0 0 0 1936.0,1403.4 L2323.8,1669.7" stroke="#f4f4f4" stroke-width="2.6" fill="none"/>
<path d="M1189.4,1768.5 A729.5,729.5 0 0 0 2323.8,1768.5" stroke="#f4f4f4" stroke-width="2.6" fill="none"/>
<defs>
<clipPath id="clipE"><rect x="17.6" y="24.7" width="1994" height="1470.3"/></clipPath>
<filter id="bE6" x="-30%" y="-30%" width="160%" height="160%"><feGaussianBlur stdDeviation="6"/></filter>
<filter id="bE40" filterUnits="userSpaceOnUse" x="-300" y="-300" width="2700" height="2200"><feGaussianBlur stdDeviation="40"/></filter>
<filter id="tE1" x="0" y="0" width="100%" height="100%" color-interpolation-filters="sRGB">
  <feTurbulence type="fractalNoise" baseFrequency="0.006 0.028" numOctaves="4" seed="11"/>
  <feColorMatrix type="matrix" values="0 0 0 0 0.75  0 0 0 0 0.74  0 0 0 0 0.84  8 0 0 0 -4.3"/>
</filter>
<filter id="tE2" x="0" y="0" width="100%" height="100%" color-interpolation-filters="sRGB">
  <feTurbulence type="fractalNoise" baseFrequency="0.02" numOctaves="3" seed="4"/>
  <feColorMatrix type="matrix" values="0 0 0 0 0.58  0 0 0 0 0.5  0 0 0 0 0.72  -6 0 0 0 2.9"/>
</filter>
<filter id="tE3" x="0" y="0" width="100%" height="100%" color-interpolation-filters="sRGB">
  <feTurbulence type="turbulence" baseFrequency="0.05" numOctaves="2" seed="8"/>
  <feColorMatrix type="matrix" values="0 0 0 0 0.42  0 0 0 0 0.35  0 0 0 0 0.6  9 0 0 0 -3.2"/>
</filter>
</defs>
<g transform="translate(2350,1340) scale(0.56680)"><g clip-path="url(#clipE)">
<rect x="0" y="0" width="2100" height="1600" fill="#aa94ca"/>
<g filter="url(#bE40)">
<ellipse cx="1600" cy="620" rx="300" ry="150" fill="#9d88c0"/>
<ellipse cx="1700" cy="1250" rx="320" ry="220" fill="#9e89c0"/>
<ellipse cx="220" cy="280" rx="180" ry="160" fill="#a08bc2"/>
<path d="M300,600 C600,450 1100,380 1500,300 C1700,260 1900,220 2050,180" stroke="#b0a4d0" stroke-width="120" fill="none"/>
<path d="M200,1050 C500,1100 800,1200 1000,1300" stroke="#aa9ccc" stroke-width="120" fill="none"/>
</g>
<defs><linearGradient id="mgE" x1="0" y1="0" x2="0" y2="1"><stop offset="0.35" stop-color="#fff"/><stop offset="0.6" stop-color="#000"/></linearGradient><mask id="mE1" maskUnits="userSpaceOnUse" x="0" y="0" width="2100" height="1600"><rect x="0" y="0" width="2100" height="1600" fill="url(#mgE)"/></mask><linearGradient id="mgE2" x1="0" y1="0" x2="0" y2="1"><stop offset="0.35" stop-color="#000"/><stop offset="0.6" stop-color="#fff"/></linearGradient><mask id="mE2" maskUnits="userSpaceOnUse" x="0" y="0" width="2100" height="1600"><rect x="0" y="0" width="2100" height="1600" fill="url(#mgE2)"/></mask></defs>
<g mask="url(#mE1)"><g transform="rotate(-18 1050 800)"><rect x="-500" y="-500" width="3100" height="2600" filter="url(#tE1)" opacity="0.55"/></g></g>
<g mask="url(#mE2)"><g transform="rotate(28 1050 800)"><rect x="-500" y="-500" width="3100" height="2600" filter="url(#tE1)" opacity="0.55"/></g></g>
<rect x="0" y="0" width="2100" height="1600" filter="url(#tE2)" opacity="0.35"/>
<rect x="0" y="0" width="2100" height="1600" filter="url(#tE3)" opacity="0.12"/>
<g filter="url(#bE6)" stroke="#c4c2da" fill="none" stroke-linecap="round" opacity="0.8">
<path d="M440,430 C520,400 600,390 680,370 C760,350 830,340 900,330" stroke-width="18"/>
<path d="M560,470 C650,440 760,420 860,405" stroke-width="9"/>
<path d="M960,400 C1040,385 1120,370 1200,350 C1240,340 1280,330 1310,320" stroke-width="16"/>
<path d="M990,440 C1080,425 1170,410 1260,380" stroke-width="8"/>
<path d="M600,118 C660,112 740,105 850,96" stroke-width="22"/>
<path d="M480,80 C500,75 530,70 560,66" stroke-width="14"/>
<path d="M640,160 C650,180 670,210 700,236" stroke-width="16"/>
<path d="M700,590 C715,660 722,740 735,820 C740,860 742,880 745,900" stroke-width="13"/>
<path d="M955,490 C962,550 970,620 980,700" stroke-width="12"/>
<path d="M1140,470 C1160,480 1180,490 1200,512" stroke-width="24"/>
<path d="M62,630 C72,680 80,720 92,760" stroke-width="20"/>
<path d="M348,842 C360,870 372,900 390,932" stroke-width="26"/>
<path d="M1290,785 C1340,795 1400,812 1460,832" stroke-width="12"/>
<path d="M1560,880 C1680,910 1800,950 2000,1005" stroke-width="14"/>
<path d="M1600,230 C1700,215 1850,205 2000,190" stroke-width="20"/>
<path d="M1562,34 C1580,60 1598,88 1612,112" stroke-width="26"/>
<path d="M160,1010 C300,1050 500,1090 700,1140 C800,1165 900,1190 980,1210" stroke-width="9"/>
<path d="M380,1230 C480,1280 600,1330 760,1400" stroke-width="9"/>
<path d="M1120,1160 C1250,1230 1400,1320 1560,1430" stroke-width="9"/>
<path d="M120,420 C250,480 380,520 470,540" stroke-width="8"/>
<path d="M1300,700 C1450,760 1600,820 1760,860" stroke-width="8"/>
</g>
</g>
<line x1="2010" y1="24.7" x2="2010" y2="1495" stroke="#6b6b7a" stroke-width="6"/>
<line x1="17.6" y1="1493" x2="2012" y2="1493" stroke="#3a3a3a" stroke-width="4"/>
</g>
</svg>
</body></html>
